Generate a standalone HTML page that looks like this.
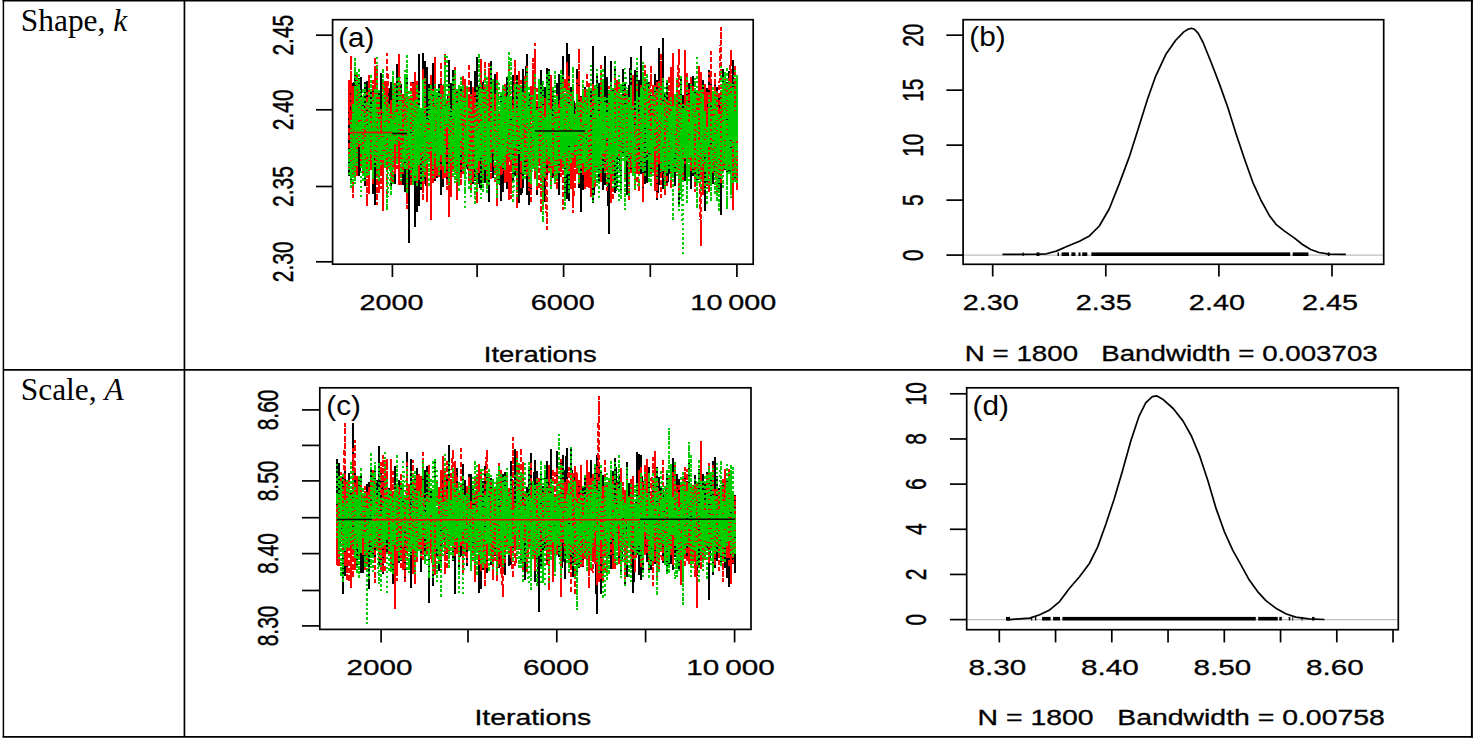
<!DOCTYPE html>
<html lang="en"><head><meta charset="utf-8"><title>MCMC trace and density plots</title>
<style>html,body{margin:0;padding:0;background:#fff}svg{display:block}svg text{stroke:#000;stroke-width:.3px}</style></head>
<body>
<svg width="1476" height="740" viewBox="0 0 1476 740" font-family='"Liberation Sans", Arial, sans-serif' fill="#000">
<rect width="1476" height="740" fill="#fff"/>
<g>
<polyline points="349.0,133.8 349.0,174.9 349.0,171.4 349.0,111.7 349.0,118.6 351.0,111.2 351.0,153.1 351.0,128.1 351.0,158.4 351.0,76.1 351.0,180.1 351.0,126.3 351.0,156.4 351.0,124.6 353.0,115.9 353.0,149.8 353.0,160.6 353.0,122.0 353.0,124.0 353.0,156.6 353.0,101.1 353.0,84.2 353.0,147.6 353.0,106.9 355.0,74.3 355.0,102.7 355.0,113.0 355.0,92.4 355.0,84.8 355.0,133.9 355.0,162.6 355.0,120.9 355.0,104.7 357.0,147.3 357.0,157.5 357.0,118.5 357.0,152.4 357.0,166.6 357.0,121.9 357.0,102.7 357.0,146.1 357.0,142.6 359.0,168.1 359.0,90.0 359.0,107.1 359.0,102.0 359.0,78.8 359.0,138.0 359.0,151.8 359.0,104.9 359.0,175.5 361.0,160.5 361.0,154.9 361.0,147.9 361.0,164.2 361.0,88.8 361.0,154.5 361.0,154.1 361.0,78.0 361.0,146.1 361.0,120.3 363.0,159.4 363.0,113.9 363.0,130.1 363.0,145.9 363.0,101.0 363.0,154.0 363.0,125.9 363.0,150.8 363.0,111.3 365.0,167.8 365.0,154.2 365.0,123.0 365.0,155.0 365.0,172.3 365.0,185.6 365.0,82.7 365.0,162.2 365.0,149.9 367.0,126.4 367.0,97.4 367.0,172.2 367.0,90.6 367.0,153.0 367.0,173.4 367.0,82.1 367.0,118.5 367.0,89.4 369.0,142.5 369.0,178.8 369.0,191.1 369.0,77.7 369.0,109.7 369.0,157.1 369.0,180.4 369.0,148.5 369.0,104.7 369.0,144.4 371.0,130.2 371.0,122.0 371.0,105.0 371.0,147.4 371.0,144.7 371.0,126.4 371.0,121.3 371.0,90.0 371.0,112.4 373.0,170.9 373.0,122.5 373.0,86.1 373.0,174.2 373.0,151.9 373.0,193.1 373.0,135.2 373.0,113.2 373.0,85.9 375.0,174.0 375.0,203.7 375.0,102.5 375.0,107.5 375.0,153.9 375.0,102.3 375.0,119.6 375.0,116.9 375.0,140.6 377.0,168.0 377.0,133.1 377.0,163.2 377.0,114.6 377.0,145.4 377.0,69.2 377.0,85.8 377.0,159.8 377.0,109.2 377.0,153.4 379.0,152.3 379.0,173.9 379.0,160.2 379.0,165.9 379.0,125.6 379.0,106.0 379.0,105.1 379.0,112.4 379.0,94.1 381.0,110.5 381.0,126.4 381.0,142.8 381.0,117.2 381.0,74.2 381.0,127.4 381.0,141.8 381.0,167.7 381.0,153.4 383.0,107.7 383.0,105.3 383.0,190.8 383.0,158.6 383.0,186.6 383.0,193.6 383.0,102.6 383.0,147.3 383.0,149.7 385.0,152.8 385.0,152.3 385.0,140.9 385.0,139.9 385.0,84.5 385.0,123.5 385.0,104.6 385.0,138.0 385.0,113.0 385.0,154.6 387.0,160.4 387.0,144.7 387.0,145.0 387.0,136.6 387.0,113.7 387.0,123.5 387.0,112.1 387.0,147.4 387.0,132.6 389.0,153.5 389.0,88.9 389.0,162.3 389.0,104.2 389.0,105.0 389.0,122.2 389.0,110.1 389.0,144.1 389.0,109.7 391.0,95.7 391.0,101.8 391.0,173.7 391.0,134.3 391.0,93.1 391.0,132.2 391.0,83.2 391.0,185.5 391.0,84.0 393.0,150.3 393.0,152.3 393.0,85.8 393.0,144.5 393.0,165.4 393.0,150.0 393.0,143.1 393.0,164.0 393.0,139.4 393.0,145.7 395.0,125.0 395.0,155.0 395.0,99.2 395.0,159.6 395.0,111.8 395.0,95.1 395.0,146.7 395.0,183.2 395.0,164.4 397.0,111.5 397.0,157.0 397.0,113.5 397.0,125.1 397.0,136.4 397.0,65.0 397.0,140.5 397.0,96.8 397.0,106.1 399.0,85.2 399.0,84.2 399.0,99.1 399.0,160.6 399.0,182.5 399.0,129.7 399.0,167.9 399.0,119.8 399.0,74.5 401.0,138.9 401.0,149.3 401.0,114.3 401.0,144.5 401.0,153.2 401.0,101.3 401.0,85.2 401.0,121.3 401.0,121.7 401.0,116.8 403.0,165.1 403.0,184.0 403.0,114.7 403.0,157.0 403.0,163.8 403.0,157.4 403.0,166.7 403.0,115.5 403.0,158.2 405.0,191.2 405.0,160.0 405.0,108.4 405.0,154.3 405.0,172.4 405.0,146.8 405.0,110.1 405.0,179.5 405.0,90.9 407.0,151.1 407.0,130.2 407.0,92.4 407.0,171.3 407.0,146.1 407.0,93.1 407.0,154.1 407.0,114.2 407.0,74.7 409.0,242.6 409.0,143.2 409.0,155.1 409.0,139.5 409.0,134.3 409.0,150.0 409.0,121.7 409.0,170.2 409.0,138.9 409.0,144.2 411.0,152.2 411.0,96.0 411.0,105.7 411.0,179.1 411.0,145.7 411.0,119.2 411.0,145.9 411.0,112.6 411.0,143.7 413.0,107.0 413.0,143.6 413.0,82.6 413.0,174.1 413.0,111.6 413.0,82.5 413.0,121.3 413.0,116.2 413.0,139.0 415.0,93.7 415.0,147.7 415.0,226.5 415.0,90.2 415.0,145.7 415.0,118.2 415.0,140.6 415.0,76.9 415.0,93.5 417.0,149.7 417.0,129.0 417.0,181.8 417.0,105.9 417.0,139.9 417.0,211.3 417.0,104.1 417.0,100.2 417.0,129.2 417.0,128.7 419.0,161.1 419.0,138.1 419.0,104.4 419.0,141.3 419.0,205.2 419.0,172.6 419.0,54.6 419.0,124.4 419.0,101.0 421.0,154.7 421.0,123.2 421.0,189.0 421.0,163.6 421.0,162.4 421.0,140.4 421.0,128.9 421.0,145.8 421.0,173.2 423.0,152.1 423.0,116.8 423.0,172.7 423.0,140.6 423.0,127.1 423.0,103.4 423.0,110.0 423.0,107.9 423.0,54.3 425.0,165.9 425.0,153.0 425.0,121.6 425.0,166.7 425.0,149.0 425.0,146.9 425.0,61.4 425.0,120.9 425.0,152.0 425.0,181.2 427.0,186.8 427.0,176.6 427.0,93.2 427.0,67.8 427.0,153.2 427.0,133.4 427.0,164.4 427.0,125.0 427.0,141.6 429.0,84.6 429.0,149.3 429.0,113.8 429.0,146.1 429.0,149.7 429.0,125.4 429.0,145.0 429.0,130.4 429.0,158.7 431.0,151.0 431.0,110.6 431.0,109.3 431.0,184.4 431.0,126.1 431.0,165.2 431.0,147.6 431.0,110.0 431.0,104.6 433.0,137.7 433.0,142.9 433.0,154.5 433.0,90.5 433.0,109.1 433.0,126.3 433.0,180.9 433.0,64.1 433.0,149.1 433.0,110.8 435.0,148.8 435.0,112.3 435.0,146.6 435.0,180.0 435.0,146.3 435.0,148.9 435.0,146.9 435.0,104.5 435.0,152.3 437.0,121.8 437.0,102.8 437.0,129.0 437.0,121.1 437.0,158.6 437.0,128.8 437.0,111.1 437.0,177.3 437.0,165.1 439.0,172.6 439.0,154.3 439.0,125.7 439.0,114.6 439.0,119.3 439.0,164.0 439.0,137.4 439.0,85.0 439.0,129.0 441.0,86.7 441.0,139.6 441.0,92.1 441.0,90.6 441.0,137.7 441.0,127.1 441.0,80.6 441.0,158.4 441.0,194.4 441.0,85.0 443.0,186.3 443.0,106.3 443.0,112.2 443.0,122.9 443.0,85.9 443.0,173.3 443.0,150.8 443.0,104.5 443.0,119.3 445.0,84.2 445.0,116.9 445.0,163.7 445.0,79.3 445.0,114.0 445.0,138.8 445.0,166.7 445.0,174.6 445.0,113.4 447.0,104.8 447.0,149.4 447.0,116.4 447.0,118.2 447.0,167.6 447.0,183.1 447.0,143.3 447.0,122.4 447.0,153.2 449.0,75.1 449.0,130.1 449.0,95.9 449.0,199.6 449.0,157.6 449.0,138.6 449.0,122.3 449.0,60.5 449.0,157.4 449.0,181.6 451.0,105.2 451.0,156.5 451.0,157.7 451.0,83.4 451.0,163.7 451.0,174.8 451.0,141.9 451.0,127.8 451.0,159.5 453.0,83.6 453.0,136.6 453.0,166.9 453.0,91.1 453.0,165.2 453.0,114.6 453.0,70.5 453.0,125.9 453.0,98.3 455.0,145.1 455.0,93.0 455.0,166.8 455.0,104.9 455.0,146.4 455.0,109.1 455.0,117.8 455.0,170.5 455.0,141.4 457.0,115.4 457.0,90.9 457.0,169.7 457.0,158.0 457.0,117.6 457.0,142.5 457.0,96.8 457.0,97.2 457.0,102.4 457.0,146.3 459.0,144.3 459.0,104.7 459.0,158.1 459.0,159.4 459.0,139.8 459.0,166.5 459.0,119.0 459.0,125.6 459.0,150.1 461.0,129.2 461.0,159.7 461.0,90.9 461.0,176.6 461.0,103.6 461.0,123.5 461.0,87.7 461.0,154.1 461.0,172.7 463.0,167.3 463.0,160.8 463.0,83.1 463.0,103.6 463.0,113.2 463.0,99.4 463.0,168.7 463.0,140.3 463.0,129.8 465.0,150.6 465.0,98.9 465.0,100.1 465.0,100.8 465.0,150.9 465.0,145.9 465.0,153.4 465.0,167.5 465.0,88.2 465.0,110.1 467.0,138.8 467.0,88.4 467.0,111.0 467.0,165.8 467.0,168.2 467.0,167.5 467.0,134.2 467.0,121.7 467.0,167.6 469.0,116.1 469.0,145.8 469.0,174.0 469.0,116.3 469.0,108.6 469.0,130.7 469.0,154.0 469.0,150.4 469.0,139.2 471.0,152.7 471.0,82.1 471.0,101.4 471.0,139.5 471.0,99.5 471.0,88.6 471.0,92.0 471.0,99.8 471.0,123.0 473.0,97.0 473.0,142.1 473.0,183.3 473.0,124.2 473.0,172.7 473.0,144.0 473.0,94.4 473.0,120.1 473.0,98.1 473.0,159.0 475.0,93.5 475.0,173.9 475.0,153.4 475.0,71.9 475.0,159.4 475.0,179.8 475.0,103.4 475.0,165.0 475.0,77.2 477.0,142.8 477.0,80.6 477.0,150.4 477.0,77.5 477.0,57.9 477.0,147.7 477.0,197.3 477.0,109.1 477.0,160.7 479.0,137.3 479.0,117.7 479.0,154.5 479.0,182.0 479.0,91.3 479.0,153.0 479.0,146.0 479.0,86.5 479.0,181.3 481.0,189.4 481.0,98.9 481.0,184.3 481.0,134.9 481.0,123.5 481.0,178.5 481.0,141.9 481.0,145.2 481.0,178.9 481.0,173.1 483.0,162.5 483.0,87.1 483.0,82.8 483.0,168.8 483.0,99.6 483.0,138.9 483.0,95.6 483.0,122.8 483.0,90.2 485.0,181.7 485.0,97.1 485.0,125.2 485.0,122.6 485.0,170.9 485.0,86.6 485.0,129.3 485.0,121.8 485.0,151.9 487.0,150.1 487.0,113.2 487.0,142.3 487.0,116.0 487.0,150.0 487.0,126.0 487.0,107.3 487.0,129.6 487.0,146.6 489.0,196.8 489.0,112.3 489.0,144.7 489.0,177.5 489.0,70.6 489.0,78.6 489.0,92.5 489.0,125.5 489.0,200.8 489.0,147.5 491.0,171.0 491.0,121.3 491.0,61.7 491.0,65.1 491.0,165.9 491.0,140.3 491.0,89.7 491.0,168.6 491.0,83.6 493.0,169.0 493.0,177.2 493.0,104.1 493.0,94.7 493.0,161.1 493.0,95.0 493.0,161.6 493.0,92.4 493.0,160.1 495.0,136.6 495.0,114.1 495.0,100.4 495.0,142.2 495.0,75.0 495.0,119.4 495.0,115.3 495.0,156.4 495.0,90.8 497.0,183.7 497.0,118.2 497.0,93.9 497.0,175.6 497.0,182.5 497.0,122.6 497.0,100.6 497.0,132.7 497.0,106.3 497.0,118.1 499.0,179.9 499.0,147.5 499.0,138.8 499.0,146.0 499.0,128.0 499.0,161.1 499.0,162.1 499.0,116.2 499.0,137.1 501.0,200.2 501.0,148.5 501.0,122.7 501.0,191.7 501.0,132.3 501.0,95.0 501.0,156.3 501.0,100.3 501.0,112.1 503.0,145.4 503.0,125.0 503.0,104.2 503.0,110.4 503.0,109.2 503.0,169.9 503.0,105.4 503.0,109.8 503.0,191.5 505.0,110.4 505.0,178.2 505.0,173.8 505.0,124.0 505.0,86.6 505.0,149.5 505.0,156.2 505.0,164.6 505.0,135.6 505.0,170.9 507.0,175.7 507.0,96.1 507.0,176.7 507.0,139.9 507.0,110.0 507.0,117.9 507.0,187.7 507.0,165.0 507.0,77.5 509.0,136.2 509.0,124.5 509.0,123.1 509.0,111.6 509.0,85.7 509.0,161.6 509.0,99.2 509.0,116.2 509.0,108.9 511.0,105.2 511.0,158.3 511.0,147.3 511.0,106.7 511.0,99.1 511.0,113.0 511.0,164.5 511.0,138.0 511.0,142.1 513.0,117.6 513.0,120.0 513.0,141.5 513.0,76.2 513.0,181.2 513.0,103.5 513.0,109.9 513.0,174.3 513.0,141.7 513.0,134.2 515.0,109.5 515.0,83.0 515.0,140.3 515.0,170.6 515.0,100.3 515.0,175.0 515.0,94.2 515.0,105.0 515.0,151.2 517.0,131.5 517.0,156.7 517.0,104.8 517.0,96.7 517.0,75.6 517.0,92.1 517.0,95.5 517.0,86.4 517.0,144.7 519.0,107.1 519.0,72.7 519.0,201.7 519.0,102.1 519.0,90.8 519.0,171.8 519.0,169.9 519.0,93.5 519.0,85.2 521.0,97.6 521.0,168.9 521.0,118.2 521.0,102.9 521.0,129.5 521.0,170.9 521.0,87.4 521.0,115.7 521.0,87.5 521.0,194.6 523.0,186.2 523.0,164.1 523.0,124.7 523.0,155.8 523.0,70.0 523.0,143.6 523.0,88.7 523.0,89.0 523.0,105.9 525.0,116.8 525.0,153.3 525.0,157.0 525.0,143.1 525.0,99.1 525.0,156.3 525.0,125.2 525.0,170.2 525.0,99.8 527.0,55.0 527.0,112.7 527.0,194.1 527.0,150.0 527.0,122.4 527.0,162.2 527.0,151.1 527.0,149.8 527.0,111.6 529.0,135.8 529.0,140.9 529.0,107.7 529.0,94.4 529.0,138.5 529.0,164.6 529.0,155.5 529.0,150.8 529.0,151.1 529.0,204.0 531.0,143.0 531.0,166.6 531.0,189.6 531.0,134.7 531.0,143.2 531.0,166.6 531.0,183.1 531.0,144.9 531.0,146.6 533.0,136.5 533.0,92.1 533.0,168.6 533.0,120.2 533.0,79.2 533.0,124.3 533.0,79.0 533.0,97.4 533.0,133.0 535.0,99.8 535.0,167.5 535.0,85.5 535.0,143.4 535.0,153.0 535.0,177.6 535.0,163.5 535.0,142.4 535.0,136.4 537.0,128.4 537.0,169.4 537.0,107.5 537.0,151.9 537.0,126.8 537.0,142.7 537.0,120.2 537.0,194.0 537.0,107.6 537.0,143.2 539.0,144.0 539.0,154.6 539.0,149.8 539.0,149.0 539.0,165.3 539.0,84.7 539.0,133.1 539.0,91.7 539.0,142.5 541.0,93.0 541.0,99.0 541.0,128.5 541.0,176.1 541.0,153.7 541.0,144.8 541.0,176.3 541.0,99.4 541.0,70.6 543.0,114.9 543.0,119.8 543.0,172.0 543.0,194.2 543.0,89.2 543.0,201.9 543.0,180.4 543.0,161.4 543.0,147.2 545.0,200.8 545.0,136.6 545.0,113.3 545.0,139.1 545.0,88.2 545.0,150.5 545.0,126.3 545.0,146.0 545.0,147.0 545.0,96.4 547.0,174.1 547.0,97.6 547.0,162.8 547.0,82.6 547.0,147.3 547.0,103.0 547.0,134.9 547.0,107.9 547.0,68.5 549.0,94.9 549.0,136.2 549.0,155.2 549.0,85.7 549.0,69.8 549.0,101.5 549.0,122.3 549.0,108.4 549.0,103.3 551.0,161.7 551.0,164.9 551.0,158.7 551.0,99.7 551.0,136.5 551.0,123.0 551.0,86.8 551.0,162.6 551.0,137.0 553.0,113.0 553.0,176.7 553.0,159.3 553.0,161.9 553.0,171.2 553.0,158.0 553.0,90.9 553.0,116.1 553.0,165.9 553.0,104.4 555.0,134.7 555.0,148.2 555.0,177.3 555.0,173.7 555.0,163.0 555.0,123.2 555.0,163.5 555.0,152.3 555.0,124.1 557.0,175.2 557.0,151.2 557.0,104.8 557.0,172.8 557.0,120.6 557.0,154.2 557.0,84.3 557.0,130.9 557.0,99.4 559.0,98.6 559.0,74.8 559.0,194.2 559.0,124.5 559.0,142.7 559.0,168.6 559.0,125.6 559.0,151.7 559.0,88.4 561.0,141.1 561.0,115.1 561.0,151.3 561.0,140.5 561.0,87.7 561.0,76.2 561.0,97.4 561.0,158.3 561.0,148.9 561.0,148.2 563.0,72.2 563.0,56.8 563.0,108.5 563.0,117.7 563.0,109.1 563.0,146.5 563.0,123.5 563.0,92.8 563.0,101.0 565.0,138.9 565.0,135.9 565.0,127.5 565.0,196.9 565.0,120.0 565.0,137.9 565.0,97.8 565.0,116.6 565.0,151.8 567.0,153.1 567.0,123.9 567.0,147.7 567.0,134.9 567.0,75.3 567.0,43.9 567.0,197.8 567.0,160.8 567.0,128.1 569.0,78.7 569.0,90.3 569.0,174.8 569.0,54.4 569.0,117.7 569.0,161.8 569.0,138.7 569.0,158.6 569.0,124.8 569.0,199.7 571.0,96.8 571.0,88.1 571.0,143.6 571.0,176.7 571.0,128.1 571.0,166.8 571.0,111.1 571.0,92.6 571.0,175.9 573.0,180.1 573.0,179.3 573.0,114.0 573.0,93.4 573.0,93.0 573.0,121.2 573.0,153.5 573.0,151.3 573.0,86.2 575.0,140.7 575.0,132.8 575.0,136.4 575.0,129.8 575.0,122.1 575.0,153.8 575.0,138.0 575.0,141.8 575.0,106.3 577.0,147.7 577.0,125.2 577.0,69.7 577.0,150.5 577.0,119.8 577.0,163.4 577.0,123.6 577.0,126.3 577.0,141.3 577.0,130.5 579.0,113.7 579.0,77.4 579.0,186.8 579.0,82.6 579.0,117.1 579.0,155.6 579.0,147.1 579.0,153.1 579.0,159.0 581.0,172.4 581.0,144.4 581.0,211.2 581.0,97.2 581.0,141.9 581.0,116.5 581.0,110.6 581.0,144.0 581.0,177.4 583.0,105.7 583.0,105.7 583.0,157.7 583.0,152.3 583.0,189.6 583.0,166.2 583.0,142.0 583.0,117.5 583.0,141.4 585.0,123.1 585.0,88.0 585.0,132.2 585.0,123.1 585.0,120.9 585.0,114.2 585.0,183.1 585.0,156.9 585.0,163.7 585.0,108.7 587.0,97.0 587.0,119.1 587.0,142.5 587.0,117.0 587.0,122.6 587.0,164.4 587.0,144.4 587.0,98.0 587.0,114.3 589.0,107.2 589.0,140.1 589.0,93.1 589.0,122.9 589.0,156.8 589.0,133.5 589.0,99.9 589.0,108.5 589.0,137.9 591.0,150.5 591.0,160.9 591.0,124.3 591.0,89.2 591.0,176.5 591.0,144.4 591.0,148.0 591.0,144.6 591.0,96.6 593.0,117.9 593.0,143.0 593.0,166.3 593.0,135.1 593.0,47.2 593.0,120.6 593.0,146.2 593.0,173.2 593.0,157.3 593.0,201.9 595.0,176.5 595.0,174.6 595.0,163.9 595.0,87.5 595.0,161.2 595.0,154.0 595.0,111.2 595.0,153.6 595.0,148.4 597.0,113.1 597.0,125.1 597.0,119.8 597.0,142.0 597.0,114.4 597.0,152.4 597.0,74.4 597.0,119.2 597.0,80.0 599.0,112.5 599.0,151.5 599.0,133.1 599.0,125.7 599.0,135.5 599.0,180.2 599.0,94.7 599.0,162.3 599.0,84.3 601.0,113.0 601.0,139.5 601.0,101.7 601.0,141.1 601.0,157.8 601.0,92.4 601.0,127.1 601.0,116.0 601.0,73.8 601.0,122.6 603.0,103.2 603.0,174.4 603.0,101.0 603.0,183.4 603.0,111.0 603.0,189.1 603.0,152.2 603.0,149.5 603.0,160.0 605.0,162.8 605.0,176.0 605.0,184.2 605.0,117.0 605.0,90.9 605.0,57.0 605.0,115.6 605.0,158.7 605.0,147.1 607.0,137.5 607.0,116.8 607.0,107.8 607.0,119.1 607.0,147.4 607.0,78.1 607.0,157.8 607.0,85.6 607.0,123.7 609.0,232.7 609.0,116.2 609.0,96.3 609.0,93.4 609.0,120.9 609.0,95.2 609.0,201.1 609.0,114.5 609.0,107.1 609.0,110.3 611.0,95.5 611.0,61.7 611.0,119.9 611.0,144.6 611.0,84.3 611.0,131.3 611.0,91.8 611.0,128.8 611.0,146.2 613.0,150.3 613.0,148.7 613.0,105.6 613.0,161.9 613.0,113.4 613.0,145.9 613.0,156.9 613.0,118.1 613.0,89.8 615.0,154.2 615.0,94.2 615.0,100.3 615.0,94.6 615.0,160.8 615.0,123.2 615.0,66.4 615.0,157.8 615.0,192.0 617.0,185.6 617.0,109.6 617.0,135.5 617.0,151.0 617.0,162.2 617.0,133.3 617.0,94.8 617.0,158.3 617.0,154.2 617.0,88.6 619.0,115.9 619.0,143.0 619.0,130.4 619.0,151.4 619.0,159.4 619.0,151.9 619.0,125.0 619.0,88.1 619.0,154.2 621.0,175.6 621.0,189.7 621.0,128.6 621.0,128.5 621.0,176.8 621.0,176.6 621.0,145.4 621.0,157.0 621.0,103.8 623.0,153.2 623.0,102.0 623.0,123.7 623.0,124.6 623.0,112.6 623.0,69.5 623.0,102.0 623.0,145.1 623.0,127.2 625.0,114.9 625.0,148.3 625.0,156.3 625.0,160.8 625.0,102.5 625.0,132.1 625.0,116.9 625.0,100.5 625.0,84.2 625.0,125.5 627.0,100.6 627.0,193.8 627.0,125.5 627.0,120.6 627.0,114.7 627.0,187.2 627.0,98.7 627.0,123.0 627.0,103.5 629.0,124.4 629.0,128.3 629.0,167.6 629.0,86.3 629.0,129.0 629.0,180.9 629.0,111.2 629.0,122.4 629.0,100.2 631.0,57.8 631.0,125.2 631.0,169.7 631.0,112.5 631.0,75.7 631.0,142.7 631.0,135.2 631.0,165.0 631.0,162.5 633.0,119.0 633.0,147.2 633.0,76.8 633.0,168.0 633.0,139.7 633.0,167.3 633.0,166.7 633.0,118.4 633.0,123.4 633.0,100.5 635.0,70.5 635.0,124.1 635.0,138.4 635.0,94.8 635.0,156.9 635.0,136.1 635.0,149.0 635.0,103.5 635.0,77.6 637.0,158.8 637.0,153.9 637.0,125.0 637.0,114.0 637.0,118.8 637.0,123.9 637.0,111.2 637.0,71.8 637.0,158.9 639.0,84.3 639.0,116.9 639.0,117.7 639.0,142.5 639.0,81.3 639.0,170.5 639.0,155.2 639.0,158.6 639.0,172.1 641.0,102.8 641.0,46.6 641.0,145.1 641.0,173.4 641.0,169.5 641.0,110.6 641.0,126.1 641.0,143.7 641.0,76.8 641.0,106.7 643.0,107.7 643.0,180.4 643.0,107.2 643.0,180.1 643.0,132.3 643.0,80.1 643.0,195.6 643.0,98.3 643.0,154.5 645.0,183.5 645.0,110.9 645.0,91.4 645.0,166.5 645.0,135.3 645.0,91.5 645.0,95.4 645.0,115.5 645.0,164.4 647.0,119.0 647.0,155.7 647.0,182.2 647.0,172.6 647.0,176.9 647.0,171.6 647.0,81.9 647.0,171.4 647.0,145.4 649.0,125.1 649.0,95.3 649.0,82.4 649.0,94.6 649.0,129.9 649.0,92.9 649.0,102.7 649.0,108.5 649.0,156.0 649.0,118.7 651.0,124.2 651.0,174.0 651.0,117.8 651.0,154.0 651.0,96.0 651.0,145.4 651.0,137.7 651.0,139.9 651.0,113.1 653.0,96.7 653.0,118.6 653.0,113.0 653.0,166.3 653.0,162.9 653.0,92.2 653.0,154.9 653.0,112.6 653.0,149.7 655.0,112.6 655.0,85.3 655.0,165.9 655.0,149.5 655.0,91.6 655.0,75.0 655.0,111.0 655.0,92.7 655.0,116.4 657.0,154.7 657.0,177.7 657.0,116.6 657.0,175.3 657.0,169.8 657.0,114.1 657.0,80.4 657.0,161.4 657.0,154.4 657.0,198.8 659.0,176.7 659.0,159.4 659.0,183.1 659.0,96.3 659.0,140.8 659.0,119.6 659.0,184.5 659.0,153.1 659.0,48.6 661.0,175.3 661.0,100.3 661.0,159.5 661.0,112.9 661.0,142.8 661.0,155.4 661.0,141.1 661.0,99.2 661.0,176.2 663.0,39.0 663.0,131.2 663.0,157.6 663.0,111.4 663.0,188.2 663.0,142.4 663.0,147.2 663.0,146.6 663.0,100.4 665.0,93.4 665.0,142.2 665.0,146.8 665.0,175.0 665.0,150.0 665.0,95.7 665.0,152.4 665.0,161.2 665.0,166.0 665.0,146.3 667.0,92.2 667.0,170.3 667.0,105.6 667.0,153.8 667.0,83.2 667.0,159.4 667.0,104.1 667.0,168.2 667.0,185.4 669.0,170.5 669.0,93.6 669.0,99.6 669.0,101.6 669.0,156.4 669.0,146.6 669.0,139.9 669.0,145.4 669.0,154.0 671.0,156.1 671.0,183.5 671.0,128.9 671.0,141.6 671.0,76.2 671.0,89.4 671.0,106.6 671.0,92.9 671.0,142.1 673.0,166.9 673.0,114.4 673.0,112.8 673.0,111.9 673.0,138.5 673.0,110.9 673.0,148.9 673.0,144.7 673.0,146.2 673.0,159.0 675.0,133.9 675.0,138.9 675.0,184.9 675.0,128.8 675.0,159.9 675.0,134.9 675.0,113.4 675.0,113.4 675.0,102.5 677.0,132.4 677.0,108.8 677.0,114.4 677.0,171.2 677.0,124.7 677.0,169.2 677.0,143.2 677.0,161.6 677.0,108.6 679.0,138.8 679.0,205.1 679.0,160.6 679.0,165.4 679.0,142.0 679.0,161.4 679.0,93.1 679.0,101.6 679.0,148.6 681.0,160.3 681.0,114.7 681.0,122.4 681.0,116.2 681.0,122.3 681.0,92.0 681.0,86.0 681.0,126.5 681.0,78.5 681.0,97.9 683.0,106.8 683.0,95.8 683.0,141.8 683.0,113.2 683.0,126.3 683.0,96.8 683.0,104.2 683.0,150.8 683.0,145.9 685.0,112.4 685.0,145.9 685.0,139.5 685.0,138.3 685.0,180.2 685.0,114.3 685.0,147.6 685.0,147.6 685.0,119.9 687.0,92.4 687.0,155.9 687.0,142.0 687.0,132.8 687.0,130.6 687.0,130.4 687.0,99.5 687.0,142.9 687.0,76.2 689.0,127.7 689.0,83.6 689.0,115.4 689.0,156.2 689.0,118.4 689.0,111.2 689.0,150.0 689.0,118.0 689.0,113.4 689.0,113.8 691.0,177.5 691.0,154.4 691.0,148.7 691.0,91.1 691.0,153.0 691.0,88.4 691.0,148.6 691.0,93.0 691.0,188.1 693.0,78.6 693.0,169.8 693.0,158.2 693.0,76.4 693.0,118.5 693.0,175.5 693.0,167.5 693.0,79.2 693.0,109.5 695.0,91.3 695.0,95.3 695.0,105.9 695.0,185.3 695.0,135.6 695.0,118.9 695.0,115.3 695.0,154.1 695.0,154.9 697.0,98.0 697.0,176.0 697.0,93.6 697.0,117.1 697.0,147.3 697.0,182.0 697.0,114.8 697.0,141.6 697.0,171.7 697.0,152.8 699.0,167.1 699.0,164.7 699.0,140.7 699.0,153.0 699.0,161.3 699.0,126.4 699.0,179.3 699.0,71.2 699.0,98.0 701.0,175.4 701.0,146.6 701.0,105.7 701.0,144.9 701.0,166.0 701.0,108.2 701.0,157.1 701.0,122.6 701.0,123.0 703.0,124.7 703.0,166.7 703.0,92.7 703.0,114.2 703.0,154.0 703.0,90.1 703.0,81.0 703.0,151.2 703.0,127.8 705.0,121.7 705.0,135.9 705.0,96.6 705.0,209.9 705.0,96.3 705.0,112.1 705.0,84.9 705.0,112.7 705.0,177.5 705.0,128.7 707.0,152.0 707.0,110.6 707.0,184.6 707.0,136.9 707.0,89.3 707.0,157.2 707.0,114.1 707.0,152.3 707.0,135.8 709.0,140.9 709.0,135.7 709.0,98.4 709.0,82.9 709.0,163.0 709.0,122.2 709.0,141.7 709.0,111.2 709.0,70.4 711.0,88.6 711.0,174.2 711.0,101.7 711.0,113.7 711.0,83.8 711.0,109.2 711.0,114.0 711.0,119.0 711.0,124.5 713.0,106.1 713.0,107.7 713.0,127.0 713.0,142.9 713.0,121.8 713.0,182.8 713.0,138.5 713.0,136.6 713.0,105.3 713.0,164.3 715.0,95.1 715.0,79.9 715.0,96.4 715.0,152.5 715.0,91.9 715.0,171.4 715.0,126.4 715.0,82.4 715.0,118.6 717.0,183.7 717.0,99.5 717.0,87.6 717.0,149.1 717.0,171.7 717.0,163.9 717.0,115.2 717.0,137.6 717.0,142.8 719.0,168.2 719.0,192.4 719.0,122.9 719.0,171.5 719.0,114.7 719.0,151.5 719.0,97.4 719.0,102.1 719.0,145.9 721.0,98.4 721.0,160.3 721.0,108.3 721.0,132.1 721.0,123.9 721.0,115.0 721.0,135.0 721.0,165.6 721.0,213.9 721.0,90.7 723.0,141.9 723.0,120.4 723.0,98.0 723.0,141.4 723.0,98.9 723.0,124.1 723.0,169.9 723.0,70.2 723.0,140.0 725.0,147.0 725.0,96.8 725.0,149.5 725.0,143.8 725.0,114.5 725.0,169.2 725.0,87.6 725.0,153.2 725.0,118.4 727.0,94.1 727.0,120.3 727.0,114.5 727.0,158.4 727.0,82.9 727.0,119.7 727.0,111.2 727.0,178.5 727.0,92.5 729.0,165.1 729.0,76.5 729.0,143.4 729.0,121.8 729.0,144.6 729.0,103.7 729.0,71.8 729.0,81.5 729.0,171.7 729.0,138.3 731.0,99.1 731.0,160.4 731.0,102.4 731.0,102.5 731.0,89.7 731.0,167.9 731.0,187.7 731.0,96.2 731.0,141.0 733.0,162.4 733.0,191.2 733.0,61.2 733.0,134.7 733.0,152.7 733.0,82.8 733.0,145.0 733.0,137.1 733.0,155.0 735.0,106.7 735.0,145.3 735.0,106.0 735.0,151.4 735.0,135.3 735.0,112.9 735.0,84.3 735.0,179.8 735.0,165.8 737.0,159.4 737.0,104.3 737.0,113.7 737.0,180.3 737.0,155.5 737.0,99.0 737.0,128.5 737.0,134.4 737.0,118.8 737.0,96.6" fill="none" stroke="#000" stroke-width="2" stroke-linejoin="round" shape-rendering="crispEdges" />
<polyline points="349.0,169.8 349.0,150.9 349.0,118.9 349.0,80.5 349.0,106.8 351.0,126.4 351.0,159.3 351.0,113.4 351.0,166.0 351.0,134.8 351.0,102.3 351.0,55.7 351.0,90.7 351.0,82.7 353.0,120.9 353.0,142.8 353.0,173.6 353.0,126.5 353.0,91.3 353.0,197.0 353.0,142.1 353.0,117.2 353.0,117.3 353.0,86.4 355.0,152.9 355.0,144.5 355.0,178.8 355.0,166.2 355.0,159.8 355.0,170.4 355.0,116.7 355.0,111.6 355.0,125.4 357.0,89.3 357.0,121.8 357.0,115.4 357.0,154.2 357.0,127.1 357.0,73.1 357.0,129.4 357.0,174.8 357.0,74.9 359.0,102.6 359.0,128.9 359.0,87.5 359.0,108.8 359.0,131.6 359.0,87.8 359.0,142.4 359.0,146.4 359.0,89.1 361.0,129.8 361.0,166.2 361.0,121.2 361.0,147.4 361.0,153.9 361.0,119.2 361.0,163.7 361.0,145.8 361.0,96.6 361.0,150.4 363.0,160.6 363.0,158.9 363.0,106.5 363.0,148.5 363.0,174.3 363.0,140.7 363.0,169.4 363.0,172.5 363.0,127.5 365.0,154.9 365.0,117.8 365.0,166.5 365.0,125.3 365.0,109.6 365.0,128.3 365.0,126.1 365.0,146.3 365.0,149.1 367.0,92.5 367.0,106.7 367.0,145.7 367.0,149.7 367.0,135.2 367.0,204.7 367.0,168.1 367.0,126.4 367.0,157.4 369.0,173.9 369.0,146.2 369.0,78.2 369.0,136.3 369.0,134.1 369.0,193.5 369.0,76.1 369.0,179.5 369.0,123.7 369.0,163.5 371.0,118.8 371.0,139.9 371.0,169.0 371.0,136.3 371.0,167.0 371.0,127.2 371.0,115.1 371.0,121.7 371.0,112.1 373.0,125.6 373.0,175.2 373.0,93.3 373.0,80.8 373.0,130.8 373.0,183.3 373.0,167.0 373.0,174.3 373.0,172.5 375.0,105.6 375.0,138.3 375.0,57.6 375.0,109.2 375.0,154.8 375.0,83.6 375.0,71.5 375.0,90.2 375.0,142.4 377.0,170.5 377.0,204.6 377.0,177.4 377.0,84.9 377.0,65.7 377.0,140.2 377.0,168.0 377.0,82.5 377.0,112.5 377.0,114.9 379.0,135.8 379.0,124.7 379.0,152.9 379.0,168.3 379.0,137.8 379.0,160.0 379.0,191.7 379.0,98.5 379.0,97.9 381.0,153.1 381.0,188.5 381.0,142.0 381.0,169.7 381.0,120.6 381.0,165.0 381.0,110.3 381.0,158.4 381.0,150.0 383.0,150.1 383.0,177.3 383.0,169.4 383.0,111.5 383.0,164.6 383.0,81.8 383.0,167.5 383.0,209.7 383.0,154.8 385.0,154.2 385.0,139.4 385.0,163.6 385.0,117.0 385.0,159.3 385.0,123.6 385.0,118.1 385.0,142.3 385.0,134.9 385.0,81.7 387.0,195.2 387.0,143.1 387.0,82.7 387.0,170.8 387.0,136.7 387.0,145.4 387.0,160.8 387.0,104.0 387.0,53.8 389.0,133.3 389.0,146.7 389.0,168.9 389.0,108.0 389.0,124.4 389.0,151.8 389.0,122.5 389.0,125.1 389.0,147.2 391.0,101.1 391.0,183.6 391.0,103.2 391.0,139.4 391.0,122.0 391.0,109.4 391.0,155.8 391.0,169.0 391.0,180.4 393.0,157.2 393.0,117.7 393.0,165.0 393.0,89.1 393.0,139.7 393.0,155.3 393.0,156.5 393.0,96.7 393.0,87.6 393.0,185.2 395.0,115.3 395.0,83.7 395.0,94.1 395.0,137.8 395.0,173.0 395.0,137.0 395.0,173.4 395.0,145.4 395.0,153.2 397.0,167.7 397.0,119.3 397.0,147.5 397.0,118.8 397.0,110.6 397.0,158.4 397.0,105.1 397.0,139.7 397.0,105.9 399.0,131.1 399.0,113.8 399.0,170.1 399.0,139.3 399.0,139.2 399.0,184.0 399.0,53.7 399.0,96.3 399.0,56.9 401.0,134.8 401.0,150.9 401.0,157.0 401.0,145.2 401.0,102.6 401.0,185.9 401.0,146.3 401.0,121.6 401.0,95.5 401.0,149.8 403.0,113.6 403.0,114.8 403.0,142.5 403.0,142.8 403.0,103.5 403.0,173.0 403.0,98.4 403.0,95.3 403.0,145.7 405.0,139.2 405.0,136.8 405.0,115.7 405.0,135.4 405.0,110.8 405.0,81.5 405.0,158.7 405.0,97.8 405.0,121.9 407.0,158.5 407.0,134.3 407.0,208.0 407.0,87.6 407.0,105.1 407.0,137.2 407.0,175.3 407.0,121.0 407.0,86.7 409.0,169.7 409.0,100.1 409.0,122.8 409.0,162.6 409.0,107.3 409.0,113.9 409.0,151.0 409.0,122.4 409.0,144.4 409.0,99.3 411.0,125.7 411.0,95.3 411.0,83.3 411.0,184.9 411.0,149.8 411.0,163.3 411.0,98.6 411.0,129.9 411.0,122.1 413.0,86.7 413.0,152.6 413.0,105.5 413.0,122.2 413.0,84.3 413.0,165.4 413.0,158.8 413.0,147.7 413.0,100.2 415.0,110.9 415.0,171.4 415.0,119.5 415.0,143.4 415.0,138.7 415.0,94.5 415.0,179.1 415.0,72.9 415.0,141.9 417.0,126.8 417.0,81.7 417.0,145.7 417.0,151.7 417.0,134.9 417.0,102.4 417.0,149.5 417.0,168.6 417.0,141.8 417.0,184.1 419.0,161.7 419.0,159.1 419.0,175.8 419.0,107.3 419.0,111.5 419.0,151.6 419.0,151.7 419.0,178.8 419.0,169.5 421.0,140.2 421.0,141.8 421.0,119.7 421.0,116.6 421.0,113.8 421.0,163.1 421.0,113.3 421.0,117.1 421.0,139.8 423.0,112.1 423.0,121.7 423.0,68.6 423.0,147.6 423.0,119.1 423.0,141.5 423.0,147.7 423.0,76.6 423.0,200.7 425.0,140.9 425.0,142.0 425.0,79.0 425.0,156.8 425.0,150.7 425.0,119.5 425.0,146.0 425.0,175.6 425.0,121.4 425.0,103.6 427.0,177.4 427.0,147.8 427.0,129.0 427.0,200.8 427.0,144.6 427.0,129.6 427.0,148.2 427.0,120.2 427.0,146.5 429.0,144.3 429.0,111.7 429.0,125.4 429.0,149.5 429.0,151.7 429.0,157.6 429.0,163.3 429.0,147.3 429.0,155.6 431.0,120.4 431.0,125.0 431.0,169.9 431.0,76.0 431.0,150.8 431.0,219.3 431.0,78.8 431.0,181.2 431.0,80.9 433.0,149.9 433.0,183.9 433.0,180.4 433.0,102.5 433.0,91.7 433.0,88.1 433.0,159.6 433.0,117.8 433.0,135.5 433.0,145.1 435.0,150.0 435.0,153.8 435.0,140.0 435.0,83.2 435.0,178.6 435.0,56.5 435.0,172.9 435.0,110.3 435.0,124.0 437.0,112.7 437.0,117.6 437.0,133.0 437.0,120.7 437.0,96.0 437.0,162.4 437.0,110.8 437.0,175.4 437.0,125.5 439.0,106.9 439.0,150.2 439.0,163.4 439.0,100.7 439.0,120.4 439.0,177.5 439.0,98.6 439.0,102.8 439.0,141.0 441.0,92.8 441.0,62.5 441.0,81.3 441.0,148.2 441.0,156.8 441.0,154.9 441.0,148.7 441.0,92.3 441.0,157.4 441.0,170.5 443.0,107.2 443.0,164.9 443.0,117.5 443.0,141.9 443.0,148.0 443.0,85.9 443.0,178.5 443.0,102.6 443.0,127.8 445.0,113.4 445.0,150.9 445.0,150.1 445.0,135.1 445.0,177.3 445.0,145.2 445.0,116.6 445.0,53.3 445.0,120.6 447.0,120.3 447.0,102.3 447.0,102.6 447.0,155.1 447.0,167.7 447.0,189.1 447.0,170.3 447.0,107.0 447.0,144.4 449.0,89.1 449.0,159.1 449.0,147.8 449.0,109.9 449.0,127.7 449.0,121.8 449.0,109.1 449.0,174.9 449.0,216.4 449.0,161.7 451.0,168.1 451.0,140.9 451.0,118.3 451.0,196.1 451.0,117.7 451.0,149.0 451.0,127.2 451.0,155.0 451.0,130.9 453.0,155.1 453.0,91.6 453.0,128.0 453.0,176.2 453.0,97.8 453.0,108.2 453.0,176.2 453.0,149.3 453.0,168.4 455.0,67.9 455.0,140.4 455.0,91.4 455.0,88.4 455.0,149.5 455.0,171.4 455.0,85.7 455.0,95.7 455.0,110.6 457.0,126.7 457.0,89.8 457.0,197.6 457.0,154.9 457.0,117.8 457.0,112.6 457.0,199.1 457.0,197.1 457.0,113.4 457.0,147.3 459.0,173.3 459.0,93.4 459.0,110.3 459.0,175.6 459.0,107.0 459.0,115.1 459.0,89.1 459.0,105.0 459.0,157.5 461.0,103.1 461.0,90.0 461.0,108.7 461.0,185.9 461.0,140.8 461.0,110.7 461.0,139.9 461.0,149.9 461.0,138.5 463.0,77.2 463.0,145.0 463.0,122.2 463.0,161.6 463.0,88.4 463.0,167.2 463.0,112.4 463.0,79.5 463.0,174.6 465.0,111.7 465.0,147.3 465.0,123.8 465.0,168.3 465.0,168.6 465.0,168.8 465.0,157.7 465.0,81.5 465.0,79.9 465.0,141.0 467.0,98.7 467.0,150.1 467.0,139.6 467.0,86.5 467.0,96.4 467.0,93.7 467.0,100.4 467.0,121.8 467.0,156.6 469.0,174.6 469.0,98.1 469.0,109.9 469.0,180.1 469.0,162.7 469.0,142.1 469.0,63.8 469.0,97.1 469.0,139.2 471.0,109.0 471.0,190.7 471.0,136.4 471.0,143.9 471.0,94.5 471.0,96.0 471.0,106.7 471.0,107.9 471.0,120.7 473.0,147.0 473.0,142.2 473.0,165.6 473.0,87.9 473.0,141.2 473.0,142.3 473.0,180.9 473.0,121.2 473.0,145.3 473.0,102.3 475.0,148.6 475.0,147.7 475.0,107.8 475.0,113.7 475.0,129.1 475.0,153.5 475.0,93.2 475.0,162.4 475.0,117.2 477.0,188.6 477.0,177.7 477.0,114.8 477.0,107.9 477.0,201.7 477.0,155.0 477.0,153.2 477.0,114.2 477.0,124.7 479.0,160.2 479.0,154.6 479.0,102.0 479.0,172.2 479.0,144.8 479.0,98.6 479.0,165.5 479.0,122.9 479.0,159.6 481.0,110.1 481.0,146.6 481.0,81.0 481.0,147.0 481.0,83.6 481.0,139.5 481.0,59.5 481.0,127.6 481.0,157.8 481.0,150.6 483.0,170.9 483.0,95.3 483.0,180.5 483.0,181.4 483.0,91.9 483.0,103.0 483.0,109.6 483.0,129.7 483.0,140.3 485.0,61.0 485.0,153.9 485.0,119.9 485.0,96.7 485.0,164.2 485.0,116.8 485.0,169.3 485.0,152.1 485.0,117.6 487.0,170.2 487.0,160.1 487.0,111.6 487.0,81.3 487.0,110.3 487.0,154.6 487.0,120.5 487.0,185.2 487.0,143.0 489.0,140.5 489.0,147.9 489.0,100.4 489.0,124.9 489.0,106.8 489.0,63.8 489.0,77.2 489.0,158.1 489.0,113.5 489.0,124.9 491.0,84.7 491.0,109.0 491.0,159.4 491.0,136.5 491.0,111.1 491.0,179.4 491.0,127.6 491.0,116.6 491.0,169.4 493.0,78.3 493.0,152.5 493.0,94.1 493.0,103.1 493.0,106.1 493.0,137.9 493.0,137.0 493.0,144.5 493.0,141.0 495.0,176.1 495.0,183.3 495.0,157.3 495.0,158.7 495.0,115.7 495.0,94.5 495.0,153.8 495.0,133.6 495.0,161.6 497.0,76.1 497.0,206.5 497.0,90.0 497.0,133.6 497.0,165.3 497.0,87.1 497.0,110.1 497.0,71.5 497.0,86.0 497.0,73.5 499.0,136.9 499.0,144.2 499.0,117.8 499.0,172.6 499.0,175.8 499.0,130.7 499.0,121.2 499.0,119.3 499.0,113.3 501.0,173.7 501.0,142.3 501.0,117.3 501.0,121.0 501.0,152.5 501.0,115.1 501.0,145.0 501.0,129.1 501.0,175.0 503.0,169.9 503.0,86.4 503.0,123.6 503.0,157.5 503.0,113.5 503.0,160.4 503.0,145.8 503.0,154.0 503.0,127.8 505.0,144.7 505.0,151.9 505.0,85.1 505.0,99.8 505.0,96.9 505.0,183.3 505.0,144.7 505.0,147.1 505.0,140.0 505.0,111.4 507.0,104.6 507.0,161.5 507.0,116.1 507.0,180.7 507.0,140.9 507.0,136.7 507.0,121.5 507.0,127.4 507.0,134.0 509.0,179.3 509.0,198.8 509.0,93.4 509.0,143.1 509.0,157.5 509.0,100.3 509.0,108.0 509.0,113.5 509.0,62.9 511.0,155.8 511.0,128.9 511.0,126.7 511.0,136.4 511.0,143.0 511.0,198.3 511.0,140.5 511.0,161.2 511.0,111.6 513.0,146.6 513.0,118.3 513.0,124.4 513.0,100.4 513.0,102.9 513.0,150.0 513.0,158.7 513.0,150.2 513.0,107.1 513.0,145.5 515.0,60.1 515.0,164.3 515.0,129.7 515.0,144.0 515.0,170.3 515.0,114.9 515.0,164.8 515.0,114.4 515.0,152.9 517.0,115.5 517.0,145.3 517.0,177.8 517.0,108.0 517.0,109.2 517.0,118.3 517.0,145.3 517.0,208.4 517.0,110.3 519.0,71.9 519.0,108.0 519.0,83.0 519.0,110.9 519.0,134.3 519.0,99.4 519.0,107.3 519.0,76.1 519.0,141.2 521.0,105.4 521.0,168.6 521.0,167.7 521.0,102.0 521.0,117.2 521.0,136.3 521.0,159.7 521.0,81.0 521.0,129.0 521.0,188.3 523.0,128.2 523.0,143.0 523.0,133.9 523.0,93.3 523.0,165.2 523.0,144.7 523.0,141.0 523.0,159.0 523.0,160.7 525.0,75.8 525.0,151.8 525.0,110.7 525.0,141.0 525.0,106.8 525.0,102.4 525.0,165.4 525.0,133.9 525.0,120.8 527.0,120.6 527.0,138.1 527.0,133.7 527.0,64.9 527.0,102.5 527.0,122.7 527.0,159.9 527.0,176.4 527.0,100.9 529.0,190.6 529.0,139.2 529.0,152.6 529.0,112.9 529.0,110.8 529.0,178.6 529.0,124.1 529.0,129.4 529.0,171.6 529.0,185.8 531.0,86.4 531.0,125.6 531.0,135.4 531.0,188.2 531.0,203.3 531.0,133.7 531.0,149.7 531.0,164.2 531.0,171.8 533.0,121.0 533.0,164.1 533.0,108.7 533.0,58.9 533.0,89.9 533.0,144.9 533.0,162.2 533.0,68.6 533.0,79.4 535.0,135.6 535.0,43.7 535.0,156.0 535.0,169.3 535.0,52.5 535.0,162.2 535.0,127.1 535.0,179.4 535.0,147.9 537.0,125.3 537.0,142.5 537.0,167.2 537.0,145.1 537.0,139.7 537.0,89.2 537.0,154.5 537.0,139.5 537.0,190.1 537.0,137.8 539.0,134.6 539.0,112.3 539.0,161.7 539.0,127.7 539.0,110.0 539.0,184.5 539.0,188.9 539.0,118.2 539.0,100.8 541.0,172.7 541.0,106.2 541.0,212.7 541.0,132.4 541.0,168.5 541.0,93.5 541.0,137.4 541.0,172.0 541.0,153.8 543.0,115.5 543.0,204.7 543.0,162.5 543.0,127.1 543.0,113.4 543.0,125.3 543.0,178.7 543.0,108.3 543.0,140.3 545.0,106.8 545.0,176.2 545.0,130.6 545.0,166.0 545.0,157.7 545.0,114.3 545.0,161.5 545.0,168.1 545.0,97.6 545.0,161.6 547.0,228.8 547.0,124.3 547.0,159.8 547.0,92.6 547.0,154.6 547.0,114.0 547.0,163.4 547.0,137.1 547.0,96.8 549.0,172.4 549.0,127.8 549.0,101.2 549.0,141.7 549.0,102.6 549.0,152.7 549.0,136.5 549.0,121.5 549.0,160.7 551.0,94.0 551.0,169.1 551.0,75.6 551.0,185.2 551.0,145.8 551.0,125.7 551.0,109.4 551.0,157.2 551.0,131.0 553.0,129.8 553.0,170.7 553.0,119.2 553.0,126.9 553.0,153.7 553.0,171.8 553.0,132.0 553.0,145.0 553.0,141.0 553.0,162.9 555.0,182.4 555.0,103.5 555.0,133.1 555.0,137.2 555.0,158.5 555.0,182.7 555.0,138.5 555.0,146.9 555.0,173.4 557.0,94.8 557.0,108.3 557.0,118.5 557.0,138.9 557.0,147.4 557.0,116.2 557.0,188.9 557.0,110.1 557.0,128.3 559.0,172.1 559.0,163.7 559.0,138.5 559.0,152.0 559.0,164.9 559.0,138.5 559.0,160.1 559.0,103.7 559.0,141.6 561.0,84.2 561.0,104.3 561.0,97.2 561.0,176.2 561.0,117.6 561.0,149.2 561.0,103.2 561.0,127.7 561.0,124.3 561.0,105.1 563.0,165.6 563.0,83.3 563.0,159.0 563.0,209.5 563.0,105.9 563.0,139.3 563.0,85.7 563.0,136.8 563.0,81.1 565.0,158.6 565.0,115.7 565.0,78.1 565.0,92.1 565.0,84.4 565.0,122.6 565.0,164.5 565.0,118.3 565.0,94.7 567.0,104.2 567.0,141.1 567.0,63.3 567.0,156.3 567.0,150.6 567.0,62.5 567.0,172.7 567.0,82.1 567.0,123.8 569.0,172.3 569.0,81.8 569.0,76.5 569.0,95.1 569.0,96.1 569.0,126.4 569.0,112.3 569.0,113.2 569.0,113.6 569.0,124.3 571.0,102.2 571.0,147.0 571.0,133.9 571.0,97.6 571.0,188.2 571.0,90.7 571.0,159.6 571.0,105.4 571.0,148.1 573.0,153.3 573.0,163.4 573.0,178.4 573.0,102.8 573.0,212.5 573.0,149.9 573.0,103.8 573.0,88.9 573.0,201.1 575.0,184.4 575.0,134.4 575.0,161.1 575.0,176.2 575.0,139.8 575.0,116.5 575.0,133.9 575.0,163.6 575.0,136.7 577.0,92.7 577.0,161.2 577.0,79.9 577.0,106.3 577.0,174.5 577.0,145.1 577.0,145.0 577.0,140.3 577.0,169.0 577.0,133.3 579.0,74.4 579.0,145.4 579.0,48.5 579.0,71.9 579.0,183.2 579.0,169.1 579.0,115.2 579.0,131.2 579.0,139.4 581.0,168.1 581.0,105.5 581.0,102.3 581.0,109.9 581.0,141.4 581.0,145.9 581.0,117.5 581.0,161.3 581.0,98.3 583.0,130.9 583.0,107.9 583.0,98.7 583.0,174.0 583.0,120.1 583.0,98.7 583.0,137.4 583.0,98.8 583.0,156.5 585.0,163.8 585.0,168.7 585.0,97.3 585.0,127.1 585.0,189.6 585.0,124.2 585.0,175.1 585.0,181.8 585.0,88.7 585.0,173.7 587.0,161.1 587.0,164.6 587.0,185.9 587.0,152.4 587.0,139.2 587.0,157.0 587.0,119.4 587.0,153.5 587.0,72.9 589.0,186.9 589.0,113.0 589.0,154.9 589.0,147.6 589.0,140.2 589.0,140.5 589.0,138.6 589.0,82.1 589.0,112.5 591.0,173.2 591.0,98.4 591.0,97.4 591.0,196.1 591.0,173.5 591.0,182.6 591.0,135.1 591.0,146.1 591.0,161.3 593.0,155.4 593.0,130.1 593.0,86.5 593.0,106.6 593.0,85.3 593.0,182.7 593.0,117.0 593.0,125.2 593.0,146.2 593.0,135.8 595.0,153.9 595.0,109.6 595.0,84.6 595.0,186.8 595.0,106.7 595.0,114.1 595.0,104.2 595.0,111.7 595.0,135.4 597.0,160.1 597.0,96.8 597.0,145.7 597.0,107.6 597.0,172.4 597.0,91.9 597.0,138.6 597.0,158.8 597.0,88.5 599.0,138.8 599.0,140.2 599.0,103.8 599.0,122.6 599.0,166.4 599.0,143.7 599.0,115.5 599.0,122.8 599.0,150.4 601.0,173.7 601.0,160.8 601.0,158.9 601.0,181.2 601.0,83.6 601.0,86.3 601.0,65.9 601.0,161.7 601.0,65.6 601.0,129.7 603.0,159.3 603.0,87.2 603.0,107.4 603.0,120.3 603.0,158.5 603.0,84.1 603.0,145.6 603.0,157.4 603.0,139.1 605.0,139.7 605.0,172.5 605.0,142.1 605.0,130.4 605.0,117.6 605.0,155.9 605.0,119.1 605.0,156.0 605.0,137.2 607.0,169.2 607.0,103.4 607.0,136.1 607.0,146.4 607.0,148.5 607.0,169.3 607.0,147.8 607.0,163.1 607.0,190.0 609.0,161.3 609.0,96.0 609.0,86.4 609.0,156.3 609.0,116.1 609.0,144.3 609.0,123.3 609.0,173.8 609.0,171.0 609.0,94.2 611.0,143.7 611.0,118.6 611.0,89.4 611.0,155.6 611.0,124.4 611.0,149.3 611.0,201.8 611.0,174.2 611.0,168.4 613.0,115.0 613.0,92.7 613.0,172.2 613.0,118.5 613.0,134.4 613.0,116.0 613.0,137.0 613.0,200.2 613.0,118.1 615.0,119.2 615.0,141.0 615.0,144.0 615.0,92.2 615.0,77.7 615.0,109.4 615.0,121.5 615.0,103.3 615.0,97.3 617.0,98.9 617.0,115.0 617.0,124.7 617.0,80.9 617.0,110.0 617.0,145.7 617.0,124.3 617.0,87.6 617.0,115.9 617.0,128.8 619.0,158.3 619.0,80.8 619.0,155.8 619.0,112.4 619.0,140.0 619.0,155.7 619.0,100.3 619.0,102.1 619.0,124.3 621.0,156.8 621.0,109.7 621.0,86.0 621.0,105.2 621.0,146.1 621.0,168.7 621.0,110.7 621.0,116.5 621.0,121.5 623.0,123.1 623.0,98.0 623.0,112.6 623.0,139.8 623.0,135.1 623.0,130.0 623.0,96.3 623.0,109.2 623.0,104.4 625.0,165.5 625.0,176.0 625.0,144.4 625.0,179.5 625.0,117.3 625.0,117.5 625.0,88.8 625.0,140.4 625.0,112.2 625.0,134.7 627.0,149.2 627.0,119.2 627.0,93.4 627.0,126.9 627.0,125.7 627.0,130.7 627.0,155.1 627.0,120.3 627.0,118.5 629.0,183.0 629.0,166.3 629.0,125.2 629.0,98.7 629.0,112.9 629.0,146.1 629.0,160.1 629.0,198.9 629.0,119.7 631.0,138.1 631.0,116.1 631.0,135.2 631.0,115.3 631.0,95.6 631.0,165.4 631.0,137.5 631.0,172.4 631.0,111.8 633.0,142.8 633.0,155.4 633.0,75.7 633.0,89.4 633.0,158.2 633.0,136.8 633.0,76.8 633.0,105.1 633.0,96.6 633.0,112.8 635.0,179.2 635.0,110.1 635.0,190.8 635.0,120.6 635.0,105.5 635.0,179.9 635.0,164.0 635.0,175.3 635.0,189.1 637.0,167.3 637.0,171.5 637.0,80.2 637.0,103.3 637.0,149.8 637.0,141.9 637.0,158.2 637.0,113.9 637.0,168.9 639.0,191.3 639.0,154.5 639.0,161.7 639.0,152.3 639.0,164.3 639.0,142.9 639.0,113.5 639.0,142.4 639.0,139.1 641.0,85.5 641.0,143.7 641.0,135.7 641.0,142.8 641.0,112.2 641.0,151.8 641.0,156.0 641.0,107.4 641.0,146.7 641.0,160.4 643.0,159.3 643.0,101.2 643.0,98.4 643.0,135.3 643.0,97.6 643.0,202.3 643.0,103.9 643.0,104.2 643.0,155.9 645.0,113.7 645.0,65.4 645.0,124.7 645.0,98.4 645.0,111.5 645.0,82.1 645.0,100.3 645.0,123.1 645.0,126.4 647.0,94.3 647.0,105.0 647.0,101.1 647.0,137.1 647.0,122.7 647.0,90.3 647.0,153.8 647.0,105.0 647.0,145.7 649.0,98.8 649.0,142.4 649.0,123.2 649.0,131.5 649.0,149.1 649.0,147.0 649.0,137.2 649.0,137.1 649.0,89.3 649.0,125.0 651.0,67.3 651.0,66.1 651.0,116.3 651.0,119.3 651.0,176.3 651.0,154.0 651.0,166.4 651.0,116.5 651.0,147.2 653.0,168.0 653.0,150.1 653.0,144.5 653.0,134.9 653.0,98.9 653.0,99.6 653.0,85.7 653.0,146.6 653.0,118.4 655.0,105.9 655.0,145.0 655.0,109.0 655.0,165.4 655.0,187.1 655.0,148.3 655.0,105.7 655.0,84.5 655.0,189.7 657.0,148.5 657.0,92.6 657.0,166.4 657.0,80.4 657.0,113.3 657.0,120.0 657.0,115.9 657.0,93.6 657.0,198.6 657.0,114.7 659.0,146.4 659.0,132.6 659.0,82.0 659.0,110.1 659.0,140.4 659.0,162.8 659.0,116.5 659.0,146.0 659.0,116.7 661.0,153.0 661.0,61.6 661.0,153.4 661.0,108.0 661.0,109.2 661.0,53.4 661.0,95.7 661.0,153.8 661.0,197.1 663.0,105.7 663.0,106.9 663.0,150.2 663.0,143.5 663.0,109.1 663.0,123.0 663.0,115.5 663.0,154.2 663.0,159.3 665.0,184.3 665.0,162.8 665.0,155.7 665.0,138.9 665.0,163.4 665.0,98.0 665.0,193.8 665.0,143.6 665.0,175.9 665.0,103.3 667.0,166.0 667.0,147.7 667.0,122.6 667.0,107.0 667.0,100.9 667.0,185.5 667.0,171.1 667.0,137.5 667.0,140.6 669.0,105.3 669.0,76.5 669.0,77.6 669.0,108.8 669.0,123.9 669.0,93.1 669.0,159.7 669.0,151.4 669.0,139.3 671.0,78.3 671.0,121.6 671.0,129.4 671.0,90.7 671.0,68.2 671.0,188.4 671.0,154.6 671.0,115.7 671.0,180.8 673.0,168.3 673.0,149.3 673.0,141.8 673.0,159.2 673.0,177.4 673.0,135.5 673.0,121.0 673.0,153.5 673.0,53.8 673.0,136.3 675.0,115.0 675.0,130.1 675.0,122.7 675.0,145.7 675.0,137.0 675.0,135.4 675.0,124.7 675.0,149.5 675.0,111.8 677.0,164.9 677.0,80.0 677.0,141.0 677.0,149.5 677.0,90.4 677.0,114.2 677.0,174.0 677.0,124.8 677.0,100.8 679.0,50.2 679.0,145.8 679.0,137.0 679.0,154.3 679.0,191.7 679.0,131.1 679.0,138.3 679.0,106.4 679.0,127.8 681.0,129.5 681.0,158.6 681.0,152.6 681.0,104.1 681.0,112.8 681.0,175.4 681.0,98.7 681.0,158.4 681.0,181.5 681.0,155.6 683.0,142.8 683.0,175.0 683.0,146.3 683.0,130.7 683.0,122.0 683.0,169.4 683.0,156.9 683.0,179.5 683.0,117.3 685.0,118.1 685.0,114.0 685.0,143.8 685.0,106.2 685.0,163.4 685.0,145.8 685.0,98.1 685.0,50.6 685.0,76.6 687.0,176.9 687.0,127.8 687.0,138.8 687.0,114.4 687.0,147.6 687.0,74.3 687.0,72.4 687.0,81.1 687.0,135.3 689.0,157.1 689.0,150.1 689.0,124.9 689.0,90.1 689.0,159.7 689.0,119.1 689.0,129.8 689.0,127.1 689.0,112.9 689.0,105.2 691.0,109.1 691.0,89.7 691.0,142.5 691.0,123.0 691.0,165.8 691.0,76.8 691.0,169.9 691.0,127.2 691.0,123.4 693.0,102.8 693.0,102.5 693.0,84.6 693.0,162.5 693.0,121.5 693.0,157.4 693.0,160.5 693.0,111.9 693.0,120.6 695.0,116.9 695.0,166.1 695.0,138.0 695.0,139.5 695.0,157.5 695.0,127.0 695.0,191.5 695.0,99.5 695.0,172.1 697.0,176.0 697.0,93.7 697.0,161.6 697.0,143.7 697.0,161.8 697.0,92.2 697.0,142.4 697.0,98.1 697.0,117.5 697.0,176.4 699.0,124.7 699.0,66.5 699.0,87.1 699.0,93.8 699.0,165.9 699.0,106.1 699.0,83.1 699.0,168.6 699.0,142.7 701.0,245.0 701.0,103.1 701.0,176.6 701.0,125.2 701.0,73.0 701.0,93.9 701.0,101.9 701.0,123.6 701.0,158.9 703.0,105.2 703.0,108.9 703.0,195.4 703.0,136.1 703.0,111.1 703.0,133.7 703.0,90.9 703.0,152.1 703.0,164.6 705.0,109.5 705.0,165.5 705.0,118.9 705.0,144.0 705.0,104.8 705.0,103.1 705.0,84.6 705.0,141.6 705.0,119.1 705.0,120.2 707.0,94.1 707.0,93.1 707.0,108.0 707.0,150.0 707.0,144.5 707.0,106.5 707.0,144.2 707.0,184.8 707.0,137.1 709.0,191.1 709.0,148.9 709.0,174.2 709.0,111.1 709.0,170.1 709.0,92.6 709.0,142.4 709.0,117.4 709.0,72.5 711.0,88.0 711.0,169.0 711.0,150.7 711.0,173.2 711.0,140.7 711.0,51.9 711.0,142.6 711.0,109.8 711.0,111.8 713.0,113.5 713.0,104.0 713.0,98.6 713.0,171.8 713.0,149.2 713.0,107.3 713.0,114.4 713.0,164.6 713.0,147.0 713.0,140.5 715.0,91.4 715.0,113.9 715.0,93.8 715.0,74.3 715.0,162.4 715.0,117.4 715.0,114.6 715.0,98.5 715.0,158.4 717.0,192.6 717.0,153.4 717.0,163.3 717.0,90.9 717.0,139.6 717.0,141.3 717.0,178.0 717.0,131.7 717.0,98.9 719.0,127.2 719.0,113.8 719.0,176.9 719.0,155.7 719.0,145.5 719.0,139.7 719.0,160.9 719.0,112.0 719.0,99.5 721.0,28.0 721.0,170.1 721.0,150.8 721.0,155.0 721.0,133.6 721.0,182.2 721.0,97.7 721.0,170.5 721.0,101.5 721.0,113.1 723.0,91.4 723.0,135.8 723.0,118.3 723.0,148.3 723.0,108.9 723.0,86.8 723.0,152.5 723.0,172.5 723.0,157.5 725.0,127.3 725.0,147.3 725.0,79.2 725.0,116.7 725.0,169.2 725.0,149.0 725.0,101.0 725.0,160.8 725.0,123.9 727.0,157.2 727.0,86.3 727.0,110.5 727.0,144.5 727.0,143.7 727.0,151.9 727.0,129.2 727.0,121.3 727.0,149.4 729.0,161.0 729.0,83.6 729.0,117.0 729.0,121.2 729.0,138.3 729.0,165.1 729.0,88.4 729.0,151.3 729.0,78.4 729.0,103.8 731.0,51.0 731.0,118.8 731.0,108.0 731.0,110.9 731.0,116.4 731.0,118.8 731.0,75.7 731.0,86.6 731.0,113.3 733.0,151.1 733.0,164.8 733.0,209.3 733.0,136.3 733.0,103.0 733.0,139.2 733.0,155.8 733.0,137.6 733.0,95.5 735.0,125.2 735.0,127.8 735.0,86.5 735.0,91.6 735.0,170.1 735.0,66.8 735.0,138.8 735.0,119.3 735.0,174.9 737.0,153.7 737.0,100.9 737.0,171.6 737.0,109.6 737.0,189.6 737.0,181.6 737.0,126.2 737.0,158.5 737.0,139.5 737.0,99.9" fill="none" stroke="#ff0000" stroke-width="2" stroke-linejoin="round" shape-rendering="crispEdges" stroke-dasharray="5 2.4"/>
<polyline points="349.0,166.5 349.0,148.0 349.0,160.7 349.0,166.7 349.0,175.7 351.0,165.9 351.0,126.1 351.0,135.8 351.0,147.8 351.0,124.9 351.0,120.6 351.0,186.7 351.0,150.3 351.0,187.6 353.0,104.0 353.0,128.6 353.0,114.0 353.0,115.5 353.0,118.8 353.0,125.0 353.0,114.0 353.0,185.4 353.0,156.0 353.0,104.8 355.0,110.7 355.0,158.0 355.0,152.1 355.0,108.7 355.0,163.1 355.0,86.6 355.0,112.9 355.0,183.6 355.0,59.0 357.0,122.0 357.0,164.8 357.0,124.2 357.0,103.8 357.0,100.8 357.0,71.0 357.0,89.3 357.0,135.3 357.0,110.0 359.0,130.4 359.0,124.1 359.0,143.8 359.0,81.0 359.0,118.3 359.0,117.3 359.0,118.2 359.0,100.8 359.0,68.4 361.0,154.7 361.0,160.0 361.0,198.6 361.0,157.6 361.0,181.5 361.0,153.7 361.0,115.9 361.0,150.7 361.0,93.4 361.0,142.3 363.0,125.7 363.0,96.3 363.0,171.0 363.0,168.3 363.0,149.6 363.0,160.1 363.0,181.7 363.0,124.8 363.0,88.7 365.0,99.1 365.0,156.8 365.0,141.9 365.0,85.3 365.0,173.6 365.0,141.4 365.0,181.0 365.0,168.7 365.0,114.4 367.0,136.9 367.0,105.4 367.0,102.4 367.0,119.0 367.0,151.1 367.0,175.0 367.0,101.0 367.0,157.2 367.0,134.6 369.0,121.9 369.0,169.0 369.0,117.3 369.0,175.5 369.0,118.1 369.0,100.5 369.0,159.4 369.0,86.5 369.0,93.5 369.0,123.6 371.0,133.4 371.0,120.6 371.0,74.0 371.0,89.7 371.0,152.1 371.0,152.9 371.0,98.3 371.0,144.2 371.0,142.1 373.0,166.5 373.0,106.1 373.0,177.9 373.0,119.6 373.0,177.6 373.0,164.1 373.0,98.3 373.0,119.4 373.0,145.1 375.0,166.6 375.0,88.5 375.0,113.2 375.0,155.6 375.0,151.3 375.0,97.3 375.0,101.5 375.0,149.8 375.0,98.0 377.0,143.2 377.0,163.9 377.0,134.6 377.0,57.9 377.0,170.8 377.0,170.2 377.0,177.0 377.0,162.4 377.0,81.1 377.0,177.0 379.0,147.1 379.0,164.6 379.0,125.1 379.0,121.8 379.0,122.1 379.0,181.5 379.0,144.7 379.0,123.4 379.0,91.2 381.0,151.1 381.0,134.4 381.0,140.5 381.0,165.9 381.0,158.6 381.0,134.0 381.0,142.7 381.0,137.9 381.0,158.5 383.0,157.7 383.0,139.9 383.0,102.6 383.0,162.0 383.0,163.6 383.0,96.7 383.0,148.5 383.0,116.8 383.0,69.0 385.0,130.5 385.0,164.8 385.0,106.1 385.0,106.8 385.0,166.7 385.0,95.7 385.0,100.0 385.0,118.9 385.0,155.4 385.0,155.6 387.0,112.0 387.0,119.1 387.0,137.4 387.0,116.4 387.0,102.0 387.0,95.8 387.0,158.0 387.0,122.3 387.0,210.5 389.0,155.4 389.0,105.2 389.0,133.2 389.0,146.6 389.0,148.4 389.0,150.0 389.0,150.2 389.0,125.5 389.0,156.1 391.0,195.3 391.0,114.6 391.0,116.6 391.0,157.8 391.0,172.4 391.0,160.9 391.0,171.7 391.0,129.6 391.0,121.8 393.0,156.2 393.0,156.8 393.0,183.1 393.0,180.3 393.0,77.3 393.0,159.8 393.0,107.6 393.0,70.5 393.0,148.1 393.0,124.1 395.0,117.6 395.0,90.6 395.0,97.7 395.0,122.2 395.0,85.2 395.0,126.4 395.0,138.0 395.0,124.5 395.0,144.8 397.0,128.1 397.0,93.6 397.0,97.0 397.0,138.7 397.0,164.6 397.0,139.3 397.0,112.2 397.0,139.8 397.0,77.3 399.0,98.0 399.0,116.2 399.0,128.0 399.0,117.9 399.0,119.7 399.0,92.8 399.0,109.9 399.0,142.7 399.0,76.4 401.0,92.3 401.0,117.0 401.0,177.9 401.0,156.3 401.0,179.9 401.0,174.3 401.0,113.7 401.0,127.5 401.0,93.0 401.0,170.0 403.0,157.8 403.0,153.7 403.0,155.9 403.0,149.7 403.0,141.2 403.0,143.6 403.0,171.0 403.0,103.6 403.0,96.5 405.0,131.9 405.0,169.6 405.0,142.4 405.0,122.0 405.0,160.8 405.0,137.4 405.0,75.0 405.0,97.5 405.0,70.5 407.0,121.5 407.0,113.8 407.0,149.1 407.0,193.1 407.0,109.2 407.0,132.5 407.0,116.0 407.0,54.2 407.0,104.4 409.0,105.6 409.0,143.7 409.0,102.3 409.0,90.1 409.0,153.8 409.0,127.9 409.0,100.7 409.0,104.6 409.0,118.8 409.0,160.5 411.0,176.5 411.0,89.8 411.0,169.9 411.0,135.1 411.0,146.7 411.0,164.7 411.0,98.8 411.0,161.6 411.0,89.8 413.0,113.4 413.0,102.0 413.0,183.1 413.0,181.9 413.0,158.8 413.0,151.7 413.0,111.4 413.0,184.4 413.0,175.9 415.0,162.9 415.0,126.2 415.0,117.4 415.0,127.5 415.0,174.3 415.0,99.6 415.0,138.3 415.0,182.0 415.0,162.6 417.0,184.7 417.0,148.9 417.0,149.4 417.0,175.9 417.0,156.3 417.0,146.8 417.0,112.7 417.0,86.0 417.0,178.7 417.0,115.9 419.0,105.9 419.0,162.6 419.0,101.9 419.0,89.6 419.0,111.2 419.0,130.0 419.0,144.9 419.0,152.5 419.0,165.6 421.0,127.4 421.0,148.0 421.0,127.7 421.0,109.3 421.0,149.3 421.0,147.7 421.0,187.8 421.0,155.3 421.0,107.7 423.0,155.2 423.0,122.2 423.0,181.2 423.0,81.1 423.0,108.8 423.0,108.9 423.0,139.7 423.0,127.1 423.0,84.0 425.0,77.4 425.0,142.0 425.0,178.4 425.0,178.1 425.0,117.1 425.0,151.2 425.0,103.0 425.0,87.7 425.0,172.4 425.0,157.6 427.0,119.3 427.0,118.0 427.0,164.3 427.0,146.8 427.0,119.3 427.0,145.6 427.0,134.3 427.0,116.9 427.0,107.4 429.0,164.5 429.0,114.9 429.0,94.7 429.0,186.7 429.0,173.0 429.0,153.2 429.0,130.8 429.0,142.7 429.0,87.8 431.0,133.9 431.0,145.3 431.0,124.4 431.0,150.4 431.0,105.9 431.0,142.0 431.0,84.7 431.0,133.2 431.0,110.3 433.0,90.7 433.0,117.0 433.0,135.3 433.0,110.7 433.0,164.2 433.0,107.6 433.0,164.4 433.0,158.6 433.0,110.3 433.0,177.1 435.0,89.7 435.0,152.9 435.0,136.9 435.0,159.5 435.0,84.5 435.0,93.9 435.0,103.6 435.0,134.5 435.0,137.3 437.0,134.2 437.0,121.0 437.0,106.8 437.0,89.1 437.0,115.2 437.0,152.1 437.0,165.8 437.0,112.7 437.0,167.2 439.0,89.3 439.0,159.2 439.0,96.2 439.0,142.8 439.0,99.7 439.0,99.3 439.0,111.3 439.0,176.0 439.0,107.7 441.0,154.7 441.0,139.5 441.0,144.7 441.0,145.1 441.0,154.9 441.0,93.2 441.0,134.8 441.0,146.3 441.0,110.2 441.0,146.5 443.0,98.0 443.0,157.6 443.0,106.8 443.0,119.9 443.0,159.5 443.0,167.3 443.0,110.7 443.0,108.6 443.0,164.9 445.0,54.1 445.0,173.9 445.0,172.7 445.0,96.8 445.0,170.1 445.0,146.7 445.0,149.7 445.0,66.5 445.0,113.0 447.0,123.0 447.0,115.5 447.0,116.2 447.0,119.6 447.0,54.3 447.0,122.7 447.0,106.9 447.0,127.1 447.0,112.7 449.0,132.0 449.0,143.9 449.0,184.5 449.0,103.2 449.0,182.4 449.0,121.0 449.0,101.2 449.0,86.8 449.0,161.3 449.0,85.1 451.0,162.6 451.0,145.9 451.0,110.4 451.0,107.5 451.0,150.3 451.0,139.1 451.0,157.9 451.0,131.7 451.0,112.0 453.0,151.9 453.0,93.0 453.0,160.8 453.0,134.8 453.0,95.1 453.0,97.7 453.0,118.0 453.0,77.7 453.0,175.0 455.0,164.0 455.0,95.6 455.0,125.7 455.0,182.5 455.0,147.7 455.0,97.7 455.0,69.7 455.0,81.8 455.0,170.0 457.0,144.8 457.0,90.0 457.0,156.9 457.0,116.6 457.0,107.3 457.0,111.6 457.0,113.3 457.0,182.1 457.0,99.4 457.0,115.3 459.0,173.8 459.0,178.1 459.0,98.4 459.0,191.5 459.0,167.8 459.0,85.4 459.0,185.5 459.0,85.6 459.0,156.2 461.0,93.9 461.0,78.2 461.0,161.1 461.0,148.4 461.0,127.0 461.0,140.5 461.0,126.1 461.0,120.1 461.0,96.0 463.0,153.4 463.0,133.2 463.0,120.7 463.0,110.1 463.0,119.4 463.0,84.5 463.0,118.4 463.0,98.3 463.0,172.7 465.0,99.1 465.0,113.7 465.0,132.8 465.0,159.6 465.0,149.7 465.0,132.8 465.0,193.9 465.0,130.3 465.0,145.2 465.0,206.9 467.0,100.8 467.0,164.3 467.0,149.1 467.0,89.5 467.0,108.5 467.0,160.7 467.0,86.1 467.0,122.8 467.0,163.4 469.0,120.9 469.0,143.3 469.0,107.1 469.0,108.4 469.0,108.7 469.0,116.9 469.0,154.9 469.0,135.8 469.0,189.5 471.0,152.4 471.0,143.6 471.0,196.0 471.0,125.8 471.0,103.1 471.0,139.0 471.0,95.4 471.0,151.4 471.0,174.8 473.0,155.0 473.0,115.0 473.0,124.3 473.0,150.4 473.0,170.0 473.0,115.3 473.0,114.8 473.0,167.6 473.0,141.5 473.0,145.9 475.0,150.4 475.0,104.1 475.0,124.3 475.0,167.0 475.0,123.9 475.0,122.4 475.0,144.4 475.0,147.5 475.0,202.7 477.0,103.1 477.0,138.7 477.0,190.7 477.0,134.0 477.0,147.2 477.0,86.1 477.0,164.7 477.0,161.9 477.0,160.5 479.0,123.1 479.0,146.9 479.0,127.9 479.0,161.3 479.0,130.9 479.0,159.5 479.0,89.1 479.0,117.9 479.0,53.7 481.0,124.5 481.0,159.1 481.0,120.3 481.0,198.5 481.0,98.2 481.0,117.6 481.0,100.0 481.0,112.3 481.0,113.3 481.0,85.6 483.0,98.5 483.0,191.1 483.0,120.2 483.0,163.0 483.0,90.8 483.0,125.7 483.0,152.2 483.0,123.5 483.0,111.9 485.0,122.8 485.0,133.7 485.0,160.8 485.0,170.8 485.0,89.5 485.0,71.5 485.0,122.6 485.0,132.2 485.0,157.5 487.0,167.1 487.0,107.2 487.0,191.8 487.0,143.0 487.0,78.3 487.0,164.3 487.0,143.7 487.0,144.0 487.0,82.6 489.0,118.6 489.0,139.4 489.0,124.1 489.0,156.6 489.0,172.1 489.0,178.9 489.0,172.0 489.0,124.3 489.0,183.7 489.0,143.2 491.0,161.4 491.0,120.7 491.0,87.5 491.0,66.6 491.0,140.4 491.0,106.9 491.0,131.2 491.0,162.5 491.0,84.2 493.0,78.4 493.0,143.1 493.0,146.7 493.0,119.7 493.0,111.4 493.0,82.6 493.0,126.9 493.0,105.0 493.0,148.9 495.0,163.9 495.0,110.5 495.0,148.3 495.0,140.4 495.0,157.0 495.0,179.1 495.0,155.8 495.0,157.3 495.0,159.7 497.0,114.5 497.0,131.1 497.0,146.0 497.0,171.7 497.0,173.1 497.0,196.7 497.0,95.4 497.0,129.0 497.0,79.3 497.0,111.0 499.0,81.3 499.0,169.8 499.0,158.6 499.0,95.8 499.0,145.7 499.0,158.1 499.0,184.2 499.0,160.7 499.0,138.1 501.0,126.6 501.0,154.8 501.0,144.6 501.0,112.9 501.0,92.0 501.0,166.8 501.0,105.6 501.0,119.8 501.0,159.8 503.0,128.3 503.0,168.9 503.0,94.6 503.0,158.8 503.0,89.2 503.0,84.8 503.0,96.7 503.0,137.7 503.0,106.9 505.0,87.9 505.0,170.7 505.0,98.8 505.0,125.7 505.0,142.9 505.0,113.0 505.0,146.6 505.0,154.6 505.0,126.2 505.0,166.4 507.0,109.4 507.0,96.2 507.0,141.1 507.0,98.7 507.0,147.1 507.0,126.2 507.0,113.2 507.0,153.4 507.0,152.1 509.0,51.0 509.0,118.0 509.0,138.6 509.0,150.6 509.0,110.7 509.0,93.8 509.0,137.9 509.0,156.4 509.0,71.3 511.0,84.7 511.0,109.4 511.0,59.2 511.0,109.1 511.0,160.4 511.0,96.0 511.0,138.5 511.0,100.8 511.0,148.5 513.0,155.4 513.0,173.3 513.0,135.7 513.0,166.7 513.0,147.8 513.0,112.9 513.0,177.6 513.0,109.0 513.0,139.6 513.0,200.7 515.0,161.7 515.0,102.5 515.0,144.2 515.0,110.4 515.0,124.3 515.0,84.5 515.0,141.5 515.0,83.4 515.0,146.7 517.0,146.8 517.0,161.1 517.0,195.7 517.0,80.8 517.0,92.4 517.0,97.7 517.0,109.9 517.0,162.0 517.0,117.3 519.0,109.4 519.0,94.1 519.0,108.0 519.0,113.9 519.0,125.8 519.0,86.3 519.0,127.0 519.0,152.9 519.0,145.9 521.0,91.0 521.0,160.3 521.0,159.9 521.0,144.3 521.0,91.5 521.0,85.3 521.0,133.9 521.0,96.8 521.0,88.7 521.0,162.3 523.0,162.9 523.0,155.2 523.0,173.5 523.0,162.6 523.0,93.3 523.0,169.2 523.0,137.6 523.0,149.1 523.0,180.0 525.0,149.1 525.0,180.2 525.0,134.8 525.0,115.8 525.0,105.8 525.0,124.6 525.0,80.1 525.0,127.7 525.0,125.2 527.0,110.9 527.0,67.0 527.0,69.0 527.0,157.1 527.0,98.7 527.0,175.1 527.0,105.5 527.0,146.4 527.0,85.9 529.0,107.8 529.0,121.3 529.0,153.4 529.0,182.9 529.0,164.4 529.0,85.8 529.0,132.0 529.0,123.3 529.0,107.8 529.0,153.7 531.0,180.4 531.0,113.4 531.0,168.6 531.0,175.8 531.0,95.9 531.0,185.2 531.0,183.1 531.0,144.3 531.0,183.6 533.0,142.8 533.0,169.5 533.0,155.6 533.0,101.4 533.0,143.1 533.0,123.4 533.0,112.2 533.0,93.5 533.0,103.7 535.0,91.4 535.0,169.1 535.0,73.4 535.0,135.9 535.0,108.6 535.0,90.9 535.0,157.8 535.0,103.2 535.0,171.0 537.0,123.0 537.0,145.6 537.0,124.9 537.0,155.6 537.0,163.8 537.0,113.6 537.0,130.7 537.0,184.8 537.0,109.7 537.0,186.1 539.0,115.4 539.0,110.2 539.0,79.9 539.0,101.8 539.0,78.6 539.0,109.8 539.0,156.8 539.0,127.9 539.0,108.9 541.0,96.8 541.0,106.4 541.0,85.7 541.0,90.4 541.0,189.3 541.0,142.3 541.0,99.9 541.0,156.2 541.0,178.4 543.0,107.8 543.0,125.8 543.0,90.8 543.0,82.2 543.0,175.4 543.0,222.4 543.0,104.8 543.0,81.4 543.0,176.4 545.0,167.0 545.0,150.2 545.0,177.7 545.0,117.2 545.0,143.6 545.0,159.6 545.0,118.1 545.0,150.3 545.0,120.7 545.0,149.5 547.0,139.3 547.0,72.9 547.0,136.4 547.0,86.3 547.0,101.6 547.0,80.4 547.0,160.2 547.0,117.5 547.0,115.6 549.0,171.9 549.0,157.2 549.0,121.5 549.0,70.4 549.0,155.7 549.0,119.7 549.0,116.3 549.0,157.9 549.0,107.9 551.0,126.7 551.0,162.3 551.0,153.1 551.0,108.4 551.0,177.2 551.0,169.3 551.0,187.9 551.0,128.1 551.0,141.3 553.0,166.8 553.0,149.1 553.0,138.5 553.0,126.0 553.0,118.5 553.0,107.4 553.0,107.6 553.0,148.0 553.0,118.4 553.0,86.8 555.0,134.8 555.0,182.4 555.0,174.9 555.0,72.3 555.0,101.9 555.0,159.3 555.0,136.1 555.0,135.7 555.0,125.0 557.0,135.1 557.0,97.2 557.0,170.4 557.0,96.5 557.0,124.5 557.0,179.3 557.0,167.8 557.0,131.2 557.0,131.2 559.0,109.2 559.0,112.2 559.0,121.0 559.0,174.4 559.0,114.4 559.0,153.2 559.0,149.0 559.0,148.2 559.0,119.6 561.0,158.3 561.0,139.8 561.0,137.3 561.0,113.4 561.0,69.4 561.0,158.2 561.0,159.0 561.0,112.5 561.0,123.7 561.0,144.6 563.0,99.0 563.0,157.7 563.0,157.9 563.0,161.9 563.0,163.8 563.0,75.6 563.0,152.3 563.0,114.8 563.0,168.9 565.0,167.5 565.0,160.9 565.0,128.1 565.0,209.0 565.0,129.7 565.0,97.3 565.0,165.3 565.0,86.9 565.0,189.2 567.0,166.6 567.0,174.7 567.0,167.4 567.0,149.0 567.0,90.4 567.0,110.3 567.0,154.1 567.0,123.7 567.0,148.1 569.0,107.9 569.0,104.9 569.0,145.8 569.0,159.2 569.0,134.5 569.0,99.6 569.0,81.9 569.0,191.7 569.0,95.1 569.0,102.4 571.0,106.5 571.0,163.4 571.0,105.6 571.0,153.4 571.0,145.4 571.0,94.9 571.0,140.4 571.0,92.7 571.0,124.8 573.0,158.8 573.0,121.8 573.0,100.9 573.0,115.5 573.0,123.6 573.0,146.2 573.0,66.5 573.0,76.9 573.0,151.0 575.0,125.9 575.0,133.0 575.0,141.5 575.0,123.8 575.0,113.8 575.0,137.3 575.0,155.8 575.0,145.7 575.0,132.8 577.0,96.6 577.0,141.9 577.0,93.6 577.0,106.9 577.0,138.6 577.0,137.3 577.0,167.5 577.0,161.7 577.0,150.3 577.0,117.7 579.0,130.1 579.0,120.5 579.0,183.6 579.0,149.4 579.0,107.5 579.0,102.0 579.0,171.4 579.0,101.3 579.0,146.5 581.0,139.8 581.0,166.8 581.0,101.2 581.0,149.6 581.0,140.8 581.0,159.5 581.0,174.5 581.0,137.0 581.0,121.4 583.0,161.8 583.0,87.4 583.0,140.4 583.0,98.5 583.0,92.5 583.0,83.2 583.0,81.3 583.0,160.6 583.0,161.8 585.0,137.2 585.0,166.2 585.0,133.9 585.0,112.6 585.0,96.0 585.0,158.9 585.0,160.2 585.0,172.2 585.0,103.7 585.0,119.6 587.0,89.1 587.0,169.2 587.0,157.3 587.0,151.6 587.0,131.2 587.0,124.8 587.0,117.0 587.0,167.9 587.0,108.7 589.0,162.5 589.0,144.5 589.0,98.2 589.0,86.8 589.0,104.4 589.0,130.1 589.0,90.7 589.0,155.2 589.0,169.2 591.0,152.7 591.0,80.8 591.0,65.4 591.0,162.1 591.0,178.2 591.0,116.0 591.0,152.1 591.0,120.4 591.0,108.6 593.0,165.5 593.0,111.2 593.0,161.6 593.0,183.9 593.0,126.1 593.0,187.6 593.0,90.2 593.0,163.5 593.0,133.5 593.0,203.5 595.0,135.1 595.0,104.0 595.0,181.7 595.0,84.6 595.0,149.7 595.0,104.9 595.0,175.7 595.0,126.9 595.0,161.9 597.0,130.1 597.0,95.5 597.0,69.6 597.0,185.7 597.0,142.7 597.0,94.2 597.0,118.8 597.0,165.4 597.0,85.5 599.0,197.0 599.0,121.0 599.0,116.9 599.0,173.2 599.0,141.8 599.0,98.1 599.0,163.4 599.0,149.8 599.0,169.0 601.0,100.2 601.0,94.6 601.0,155.1 601.0,114.5 601.0,69.2 601.0,109.7 601.0,155.1 601.0,105.6 601.0,172.9 601.0,112.2 603.0,126.5 603.0,81.8 603.0,103.3 603.0,122.8 603.0,153.4 603.0,140.5 603.0,167.1 603.0,68.5 603.0,133.3 605.0,124.3 605.0,96.4 605.0,128.8 605.0,104.7 605.0,148.7 605.0,117.0 605.0,151.1 605.0,100.1 605.0,172.5 607.0,147.7 607.0,185.3 607.0,124.7 607.0,112.0 607.0,138.4 607.0,113.1 607.0,96.5 607.0,132.7 607.0,127.7 609.0,107.5 609.0,115.7 609.0,98.3 609.0,138.7 609.0,88.5 609.0,183.3 609.0,133.6 609.0,163.9 609.0,92.2 609.0,146.0 611.0,124.7 611.0,165.0 611.0,162.0 611.0,81.1 611.0,169.5 611.0,84.7 611.0,174.5 611.0,128.3 611.0,92.3 613.0,157.2 613.0,134.0 613.0,97.8 613.0,104.8 613.0,150.3 613.0,87.8 613.0,101.3 613.0,187.2 613.0,104.0 615.0,146.9 615.0,149.4 615.0,164.5 615.0,162.2 615.0,60.1 615.0,112.4 615.0,170.5 615.0,103.3 615.0,186.5 617.0,142.7 617.0,91.6 617.0,153.1 617.0,189.5 617.0,106.8 617.0,152.9 617.0,100.7 617.0,109.4 617.0,137.6 617.0,151.6 619.0,146.4 619.0,141.4 619.0,200.4 619.0,95.3 619.0,75.6 619.0,153.1 619.0,140.6 619.0,86.1 619.0,184.3 621.0,106.0 621.0,86.7 621.0,148.7 621.0,155.6 621.0,199.3 621.0,83.6 621.0,90.2 621.0,119.6 621.0,114.0 623.0,127.5 623.0,105.7 623.0,83.0 623.0,113.7 623.0,157.6 623.0,159.9 623.0,107.3 623.0,152.5 623.0,148.6 625.0,112.3 625.0,116.9 625.0,134.7 625.0,209.4 625.0,139.8 625.0,100.6 625.0,123.9 625.0,110.3 625.0,169.6 625.0,68.4 627.0,95.0 627.0,161.2 627.0,148.8 627.0,134.0 627.0,158.0 627.0,88.8 627.0,147.1 627.0,93.8 627.0,90.0 629.0,151.4 629.0,103.2 629.0,116.8 629.0,155.3 629.0,96.3 629.0,154.8 629.0,197.1 629.0,122.5 629.0,164.9 631.0,159.7 631.0,90.5 631.0,87.9 631.0,132.8 631.0,69.1 631.0,135.0 631.0,143.6 631.0,150.6 631.0,150.0 633.0,175.0 633.0,117.9 633.0,175.5 633.0,152.7 633.0,152.6 633.0,124.6 633.0,165.1 633.0,104.8 633.0,158.6 633.0,169.5 635.0,107.3 635.0,99.2 635.0,104.7 635.0,130.1 635.0,147.5 635.0,162.9 635.0,189.2 635.0,182.5 635.0,144.5 637.0,116.2 637.0,92.3 637.0,161.5 637.0,152.5 637.0,120.0 637.0,124.3 637.0,126.3 637.0,58.9 637.0,129.3 639.0,146.3 639.0,126.0 639.0,96.1 639.0,135.6 639.0,151.3 639.0,186.9 639.0,168.0 639.0,154.8 639.0,129.5 641.0,88.8 641.0,113.5 641.0,88.1 641.0,127.0 641.0,168.2 641.0,167.7 641.0,163.8 641.0,134.4 641.0,166.2 641.0,120.3 643.0,73.4 643.0,139.5 643.0,135.2 643.0,78.6 643.0,111.6 643.0,61.9 643.0,113.3 643.0,172.0 643.0,108.0 645.0,174.7 645.0,142.8 645.0,105.2 645.0,77.8 645.0,159.4 645.0,156.9 645.0,85.0 645.0,115.0 645.0,169.3 647.0,105.0 647.0,148.6 647.0,73.5 647.0,100.0 647.0,158.7 647.0,92.9 647.0,86.1 647.0,87.4 647.0,116.5 649.0,82.7 649.0,126.5 649.0,153.7 649.0,180.3 649.0,115.7 649.0,182.3 649.0,153.8 649.0,122.1 649.0,152.5 649.0,180.0 651.0,179.4 651.0,159.5 651.0,127.4 651.0,161.7 651.0,142.4 651.0,140.6 651.0,144.0 651.0,187.3 651.0,92.5 653.0,128.2 653.0,95.3 653.0,162.7 653.0,169.4 653.0,175.8 653.0,117.3 653.0,135.9 653.0,160.0 653.0,141.3 655.0,145.2 655.0,141.8 655.0,144.5 655.0,126.6 655.0,150.2 655.0,85.7 655.0,115.3 655.0,89.2 655.0,127.9 657.0,105.6 657.0,153.2 657.0,173.4 657.0,91.5 657.0,104.3 657.0,146.6 657.0,178.1 657.0,160.2 657.0,150.3 657.0,129.5 659.0,114.6 659.0,148.4 659.0,152.1 659.0,140.6 659.0,110.2 659.0,82.2 659.0,102.3 659.0,116.8 659.0,93.7 661.0,146.4 661.0,86.8 661.0,119.2 661.0,147.2 661.0,161.3 661.0,143.5 661.0,172.0 661.0,109.8 661.0,104.4 663.0,168.9 663.0,101.4 663.0,124.8 663.0,79.0 663.0,169.7 663.0,158.5 663.0,105.0 663.0,78.7 663.0,143.8 665.0,144.5 665.0,170.9 665.0,188.1 665.0,143.1 665.0,122.3 665.0,121.6 665.0,119.3 665.0,88.2 665.0,100.8 665.0,127.7 667.0,81.2 667.0,89.6 667.0,172.1 667.0,107.3 667.0,160.7 667.0,168.9 667.0,133.7 667.0,161.6 667.0,123.7 669.0,101.5 669.0,126.7 669.0,136.6 669.0,138.8 669.0,136.8 669.0,116.1 669.0,168.0 669.0,123.1 669.0,115.5 671.0,164.4 671.0,98.1 671.0,133.2 671.0,178.8 671.0,136.6 671.0,177.4 671.0,121.2 671.0,112.7 671.0,124.9 673.0,111.1 673.0,117.7 673.0,115.0 673.0,161.1 673.0,149.1 673.0,123.2 673.0,105.6 673.0,218.9 673.0,123.6 673.0,177.1 675.0,93.7 675.0,105.9 675.0,172.6 675.0,95.9 675.0,96.6 675.0,130.2 675.0,106.2 675.0,120.1 675.0,140.7 677.0,163.1 677.0,141.8 677.0,145.7 677.0,175.2 677.0,177.5 677.0,118.1 677.0,76.7 677.0,98.3 677.0,168.6 679.0,113.9 679.0,106.9 679.0,114.9 679.0,181.9 679.0,136.9 679.0,117.4 679.0,107.2 679.0,96.0 679.0,210.5 681.0,131.9 681.0,140.7 681.0,119.4 681.0,168.6 681.0,98.5 681.0,75.2 681.0,111.0 681.0,147.2 681.0,198.0 681.0,129.4 683.0,253.0 683.0,122.8 683.0,104.9 683.0,104.7 683.0,138.4 683.0,145.9 683.0,108.5 683.0,169.5 683.0,129.4 685.0,139.4 685.0,112.9 685.0,148.4 685.0,149.7 685.0,157.4 685.0,103.9 685.0,156.6 685.0,111.3 685.0,138.9 687.0,159.9 687.0,180.3 687.0,115.2 687.0,95.9 687.0,140.6 687.0,172.9 687.0,119.3 687.0,202.1 687.0,76.2 689.0,180.1 689.0,171.5 689.0,170.1 689.0,103.7 689.0,176.5 689.0,171.6 689.0,173.7 689.0,123.3 689.0,122.6 689.0,174.9 691.0,148.1 691.0,118.3 691.0,103.6 691.0,145.3 691.0,89.5 691.0,155.2 691.0,141.4 691.0,84.4 691.0,151.4 693.0,172.5 693.0,144.7 693.0,90.1 693.0,110.4 693.0,162.7 693.0,90.9 693.0,117.8 693.0,171.0 693.0,121.0 695.0,111.1 695.0,161.8 695.0,182.8 695.0,149.5 695.0,90.1 695.0,82.8 695.0,122.1 695.0,78.0 695.0,129.2 697.0,164.5 697.0,58.1 697.0,125.0 697.0,147.1 697.0,112.2 697.0,149.3 697.0,152.7 697.0,168.4 697.0,208.2 697.0,146.9 699.0,101.5 699.0,98.0 699.0,92.3 699.0,158.9 699.0,147.6 699.0,151.6 699.0,142.7 699.0,182.4 699.0,169.5 701.0,167.3 701.0,107.9 701.0,119.4 701.0,90.5 701.0,108.7 701.0,138.4 701.0,92.6 701.0,109.1 701.0,192.6 703.0,124.5 703.0,85.4 703.0,92.0 703.0,128.9 703.0,162.6 703.0,128.9 703.0,163.3 703.0,146.6 703.0,95.5 705.0,167.8 705.0,114.9 705.0,189.4 705.0,110.6 705.0,126.3 705.0,112.0 705.0,121.4 705.0,151.3 705.0,124.5 705.0,172.0 707.0,150.4 707.0,182.1 707.0,137.9 707.0,174.8 707.0,172.5 707.0,126.6 707.0,204.7 707.0,180.5 707.0,154.3 709.0,124.5 709.0,130.0 709.0,125.7 709.0,146.2 709.0,95.5 709.0,137.8 709.0,110.7 709.0,184.5 709.0,161.0 711.0,184.6 711.0,201.5 711.0,152.6 711.0,193.0 711.0,149.5 711.0,157.3 711.0,100.9 711.0,139.3 711.0,178.9 713.0,153.4 713.0,118.5 713.0,136.2 713.0,107.0 713.0,109.0 713.0,87.9 713.0,170.6 713.0,170.2 713.0,129.4 713.0,90.4 715.0,123.6 715.0,193.0 715.0,90.7 715.0,114.3 715.0,115.3 715.0,162.2 715.0,92.3 715.0,145.9 715.0,104.6 717.0,119.3 717.0,93.7 717.0,154.3 717.0,114.7 717.0,111.5 717.0,170.3 717.0,148.8 717.0,201.2 717.0,151.2 719.0,139.6 719.0,141.2 719.0,210.0 719.0,174.4 719.0,122.1 719.0,148.0 719.0,114.1 719.0,158.6 719.0,114.6 721.0,112.8 721.0,152.0 721.0,177.2 721.0,164.0 721.0,161.0 721.0,138.1 721.0,64.4 721.0,126.8 721.0,125.0 721.0,154.6 723.0,186.9 723.0,161.2 723.0,80.3 723.0,137.0 723.0,123.7 723.0,159.9 723.0,132.7 723.0,76.0 723.0,102.0 725.0,120.3 725.0,72.6 725.0,128.1 725.0,121.4 725.0,169.4 725.0,128.3 725.0,110.0 725.0,127.7 725.0,135.9 727.0,166.5 727.0,100.2 727.0,67.3 727.0,209.7 727.0,160.5 727.0,136.7 727.0,202.2 727.0,94.9 727.0,104.6 729.0,115.5 729.0,152.4 729.0,114.7 729.0,161.0 729.0,118.4 729.0,175.0 729.0,151.6 729.0,81.4 729.0,132.7 729.0,94.7 731.0,126.4 731.0,134.3 731.0,197.9 731.0,122.3 731.0,82.3 731.0,138.9 731.0,93.8 731.0,188.0 731.0,158.7 733.0,181.7 733.0,116.3 733.0,96.9 733.0,145.5 733.0,88.1 733.0,99.0 733.0,104.9 733.0,125.5 733.0,84.2 735.0,70.9 735.0,178.0 735.0,111.4 735.0,123.9 735.0,155.1 735.0,150.3 735.0,108.0 735.0,114.5 735.0,182.7 737.0,173.7 737.0,159.8 737.0,184.1 737.0,75.3 737.0,140.0 737.0,120.7 737.0,74.5 737.0,147.5 737.0,157.2 737.0,144.9" fill="none" stroke="#00cd00" stroke-width="2" stroke-linejoin="round" shape-rendering="crispEdges" stroke-dasharray="2 2.8"/>
<line x1="349.00" y1="132.50" x2="392.00" y2="132.50" stroke="#ff0000" stroke-width="1.6" />
<line x1="392.00" y1="133.50" x2="407.00" y2="133.50" stroke="#000" stroke-width="1.6" />
<line x1="535.00" y1="131.00" x2="585.00" y2="131.00" stroke="#000" stroke-width="1.6" />
</g>
<rect x="332.6" y="19.7" width="420.60" height="244.50" fill="none" stroke="#000" stroke-width="1.7"/>
<line x1="316.00" y1="35.20" x2="332.60" y2="35.20" stroke="#000" stroke-width="1.7" />
<line x1="316.00" y1="109.80" x2="332.60" y2="109.80" stroke="#000" stroke-width="1.7" />
<line x1="316.00" y1="186.50" x2="332.60" y2="186.50" stroke="#000" stroke-width="1.7" />
<line x1="316.00" y1="261.80" x2="332.60" y2="261.80" stroke="#000" stroke-width="1.7" />
<text transform="translate(292.60,35.20) scale(1.42,1) rotate(-90)" font-size="21" text-anchor="middle">2.45</text>
<text transform="translate(292.60,109.80) scale(1.42,1) rotate(-90)" font-size="21" text-anchor="middle">2.40</text>
<text transform="translate(292.60,186.50) scale(1.42,1) rotate(-90)" font-size="21" text-anchor="middle">2.35</text>
<text transform="translate(292.60,261.80) scale(1.42,1) rotate(-90)" font-size="21" text-anchor="middle">2.30</text>
<line x1="392.40" y1="264.20" x2="392.40" y2="277.00" stroke="#000" stroke-width="1.7" />
<line x1="477.10" y1="264.20" x2="477.10" y2="277.00" stroke="#000" stroke-width="1.7" />
<line x1="563.60" y1="264.20" x2="563.60" y2="277.00" stroke="#000" stroke-width="1.7" />
<line x1="650.30" y1="264.20" x2="650.30" y2="277.00" stroke="#000" stroke-width="1.7" />
<line x1="736.90" y1="264.20" x2="736.90" y2="277.00" stroke="#000" stroke-width="1.7" />
<text transform="translate(391.60,310.20) scale(1.280888888888889,1)" font-size="22.5" text-anchor="middle" >2000</text>
<text transform="translate(562.80,310.20) scale(1.280888888888889,1)" font-size="22.5" text-anchor="middle" >6000</text>
<text transform="translate(733.30,310.20) scale(1.280888888888889,1)" font-size="22.5" text-anchor="middle" >10&#8201;000</text>
<text transform="translate(540.30,361.70) scale(1.25,1)" font-size="22" text-anchor="middle" >Iterations</text>
<text transform="translate(338.20,47.00) scale(1.085,1)" font-size="27.4" text-anchor="start" style="stroke:none">(a)</text>
<g>
<polyline points="337.0,537.3 337.0,527.7 337.0,518.3 337.0,459.5 337.0,533.9 339.0,464.1 339.0,546.8 339.0,538.7 339.0,544.7 339.0,544.6 339.0,530.1 339.0,504.2 339.0,510.6 339.0,561.9 341.0,502.9 341.0,512.9 341.0,499.1 341.0,504.7 341.0,510.6 341.0,528.9 341.0,511.0 341.0,509.2 341.0,502.0 343.0,523.8 343.0,483.2 343.0,522.5 343.0,557.0 343.0,498.0 343.0,518.7 343.0,593.1 343.0,492.1 343.0,476.3 345.0,507.2 345.0,569.2 345.0,574.7 345.0,486.4 345.0,537.7 345.0,520.7 345.0,502.8 345.0,468.4 345.0,549.7 347.0,495.5 347.0,530.1 347.0,523.5 347.0,570.7 347.0,553.6 347.0,487.9 347.0,511.9 347.0,550.0 347.0,483.5 349.0,508.2 349.0,528.0 349.0,476.5 349.0,485.9 349.0,474.3 349.0,529.8 349.0,503.5 349.0,547.3 349.0,524.5 351.0,537.8 351.0,517.4 351.0,542.6 351.0,516.8 351.0,492.4 351.0,553.8 351.0,548.6 351.0,580.2 351.0,515.6 353.0,503.0 353.0,480.6 353.0,424.1 353.0,484.1 353.0,535.5 353.0,494.9 353.0,453.0 353.0,538.8 353.0,502.7 355.0,509.1 355.0,507.1 355.0,515.8 355.0,535.1 355.0,473.6 355.0,513.0 355.0,504.9 355.0,552.6 355.0,491.0 357.0,565.1 357.0,538.8 357.0,564.8 357.0,499.6 357.0,544.1 357.0,532.0 357.0,479.4 357.0,512.0 357.0,506.5 359.0,492.8 359.0,497.9 359.0,480.8 359.0,506.1 359.0,531.2 359.0,497.7 359.0,477.7 359.0,550.3 359.0,508.8 361.0,521.6 361.0,512.8 361.0,504.1 361.0,538.6 361.0,504.4 361.0,521.7 361.0,480.7 361.0,475.9 361.0,508.3 361.0,571.7 363.0,526.6 363.0,572.3 363.0,534.5 363.0,534.5 363.0,502.9 363.0,519.6 363.0,568.8 363.0,553.8 363.0,501.7 365.0,506.0 365.0,557.6 365.0,504.8 365.0,547.0 365.0,494.2 365.0,539.3 365.0,562.3 365.0,544.8 365.0,528.5 367.0,525.4 367.0,517.4 367.0,519.5 367.0,553.7 367.0,553.0 367.0,533.3 367.0,485.3 367.0,504.6 367.0,530.1 369.0,522.5 369.0,483.0 369.0,540.3 369.0,588.1 369.0,486.1 369.0,522.9 369.0,564.6 369.0,507.5 369.0,507.7 371.0,526.3 371.0,537.7 371.0,507.6 371.0,548.6 371.0,469.4 371.0,540.1 371.0,532.2 371.0,515.0 371.0,532.7 373.0,522.4 373.0,557.5 373.0,506.2 373.0,518.9 373.0,482.1 373.0,488.7 373.0,512.6 373.0,477.9 373.0,495.9 375.0,483.6 375.0,505.4 375.0,524.7 375.0,547.6 375.0,468.6 375.0,513.8 375.0,545.6 375.0,558.7 375.0,559.4 377.0,480.9 377.0,504.8 377.0,537.6 377.0,547.5 377.0,529.7 377.0,529.2 377.0,528.4 377.0,498.0 377.0,526.0 379.0,544.2 379.0,509.7 379.0,553.5 379.0,447.3 379.0,510.1 379.0,566.6 379.0,545.8 379.0,560.3 379.0,525.6 381.0,487.3 381.0,504.9 381.0,562.2 381.0,471.1 381.0,493.1 381.0,474.1 381.0,504.2 381.0,507.4 381.0,538.0 383.0,496.5 383.0,566.9 383.0,539.8 383.0,506.0 383.0,492.1 383.0,479.4 383.0,524.8 383.0,573.5 383.0,515.0 385.0,491.2 385.0,518.4 385.0,504.8 385.0,494.4 385.0,469.7 385.0,518.5 385.0,561.4 385.0,555.0 385.0,548.8 387.0,527.7 387.0,535.2 387.0,549.5 387.0,518.6 387.0,529.9 387.0,508.2 387.0,552.7 387.0,494.0 387.0,541.0 389.0,545.6 389.0,545.1 389.0,541.8 389.0,506.4 389.0,503.7 389.0,507.9 389.0,509.0 389.0,489.0 389.0,507.0 391.0,501.8 391.0,493.5 391.0,532.3 391.0,498.6 391.0,529.1 391.0,561.4 391.0,566.7 391.0,521.9 391.0,550.1 393.0,529.2 393.0,583.6 393.0,565.8 393.0,552.6 393.0,515.7 393.0,512.8 393.0,537.6 393.0,519.9 393.0,512.9 395.0,541.7 395.0,486.0 395.0,467.4 395.0,491.8 395.0,488.2 395.0,518.0 395.0,495.5 395.0,514.3 395.0,466.7 397.0,561.4 397.0,533.3 397.0,495.7 397.0,531.0 397.0,555.4 397.0,545.4 397.0,517.6 397.0,539.4 397.0,546.6 399.0,486.7 399.0,480.9 399.0,502.8 399.0,549.1 399.0,561.6 399.0,525.6 399.0,562.3 399.0,549.5 399.0,518.2 401.0,498.8 401.0,501.5 401.0,523.9 401.0,559.9 401.0,545.4 401.0,484.3 401.0,486.2 401.0,544.7 401.0,527.5 403.0,493.5 403.0,541.1 403.0,558.9 403.0,544.3 403.0,524.8 403.0,558.2 403.0,508.7 403.0,503.0 403.0,494.1 405.0,572.0 405.0,577.5 405.0,519.5 405.0,538.9 405.0,535.1 405.0,548.1 405.0,554.7 405.0,541.4 405.0,517.8 407.0,505.2 407.0,491.8 407.0,452.7 407.0,517.7 407.0,496.7 407.0,522.5 407.0,517.4 407.0,491.6 407.0,505.6 409.0,534.1 409.0,526.9 409.0,495.4 409.0,498.7 409.0,538.4 409.0,529.0 409.0,531.0 409.0,515.5 409.0,542.9 411.0,524.6 411.0,587.1 411.0,506.4 411.0,500.1 411.0,566.0 411.0,518.4 411.0,498.1 411.0,534.5 411.0,459.8 411.0,534.9 413.0,521.9 413.0,529.7 413.0,497.4 413.0,557.6 413.0,531.1 413.0,520.3 413.0,532.4 413.0,496.5 413.0,516.4 415.0,479.5 415.0,489.5 415.0,530.4 415.0,525.0 415.0,542.7 415.0,501.0 415.0,516.8 415.0,500.3 415.0,529.1 417.0,543.6 417.0,551.0 417.0,537.9 417.0,497.4 417.0,527.6 417.0,491.0 417.0,469.0 417.0,526.4 417.0,523.5 419.0,542.3 419.0,544.5 419.0,485.8 419.0,494.1 419.0,519.9 419.0,522.9 419.0,533.0 419.0,483.8 419.0,511.9 421.0,539.3 421.0,571.0 421.0,485.1 421.0,564.3 421.0,510.8 421.0,480.3 421.0,557.1 421.0,489.7 421.0,487.1 423.0,541.2 423.0,549.5 423.0,522.3 423.0,498.6 423.0,478.9 423.0,523.5 423.0,458.5 423.0,479.7 423.0,549.9 425.0,538.3 425.0,553.9 425.0,532.4 425.0,487.4 425.0,534.1 425.0,470.9 425.0,540.1 425.0,557.4 425.0,490.9 427.0,548.7 427.0,520.4 427.0,513.7 427.0,466.7 427.0,513.8 427.0,544.5 427.0,472.9 427.0,504.4 427.0,498.4 429.0,475.0 429.0,549.0 429.0,519.4 429.0,520.3 429.0,547.5 429.0,497.1 429.0,602.2 429.0,505.0 429.0,486.6 431.0,538.3 431.0,531.3 431.0,492.0 431.0,493.5 431.0,544.0 431.0,529.2 431.0,532.8 431.0,545.2 431.0,501.9 433.0,555.4 433.0,521.2 433.0,541.5 433.0,493.9 433.0,542.5 433.0,529.5 433.0,585.2 433.0,515.3 433.0,562.5 435.0,539.7 435.0,563.6 435.0,528.7 435.0,535.7 435.0,462.3 435.0,485.3 435.0,550.6 435.0,534.2 435.0,543.6 437.0,512.5 437.0,543.9 437.0,509.7 437.0,519.0 437.0,555.0 437.0,551.5 437.0,507.5 437.0,523.1 437.0,528.8 439.0,516.2 439.0,517.5 439.0,493.9 439.0,538.1 439.0,491.2 439.0,493.3 439.0,556.4 439.0,570.0 439.0,570.5 441.0,532.2 441.0,504.7 441.0,542.8 441.0,563.3 441.0,525.2 441.0,508.4 441.0,475.7 441.0,475.2 441.0,567.3 443.0,480.6 443.0,501.0 443.0,511.2 443.0,528.9 443.0,484.8 443.0,538.0 443.0,538.2 443.0,523.4 443.0,502.1 445.0,509.0 445.0,469.1 445.0,539.3 445.0,504.6 445.0,482.7 445.0,519.0 445.0,535.6 445.0,531.7 445.0,539.0 447.0,553.1 447.0,504.3 447.0,526.6 447.0,528.5 447.0,480.2 447.0,550.9 447.0,509.5 447.0,528.0 447.0,529.5 449.0,496.2 449.0,543.8 449.0,547.7 449.0,525.6 449.0,445.7 449.0,557.5 449.0,514.6 449.0,500.5 449.0,502.2 451.0,489.2 451.0,508.1 451.0,538.2 451.0,488.6 451.0,526.7 451.0,501.9 451.0,511.2 451.0,508.1 451.0,529.5 453.0,548.6 453.0,518.9 453.0,545.7 453.0,560.6 453.0,480.0 453.0,542.7 453.0,510.1 453.0,513.5 453.0,547.7 455.0,512.1 455.0,501.1 455.0,555.2 455.0,549.9 455.0,533.0 455.0,592.9 455.0,492.1 455.0,476.1 455.0,513.2 457.0,488.4 457.0,532.1 457.0,502.7 457.0,502.4 457.0,520.8 457.0,496.0 457.0,469.1 457.0,499.0 457.0,541.2 459.0,528.2 459.0,547.3 459.0,566.1 459.0,545.9 459.0,518.3 459.0,498.4 459.0,534.8 459.0,564.2 459.0,559.7 461.0,547.4 461.0,497.1 461.0,538.0 461.0,541.4 461.0,554.8 461.0,485.2 461.0,499.9 461.0,525.3 461.0,524.9 461.0,502.3 463.0,535.8 463.0,511.0 463.0,551.8 463.0,505.6 463.0,527.2 463.0,465.0 463.0,527.3 463.0,500.8 463.0,541.5 465.0,514.7 465.0,554.9 465.0,504.4 465.0,481.0 465.0,528.4 465.0,538.0 465.0,498.6 465.0,484.5 465.0,542.7 467.0,550.4 467.0,542.1 467.0,523.8 467.0,520.6 467.0,564.9 467.0,543.9 467.0,494.4 467.0,490.1 467.0,539.3 469.0,542.1 469.0,502.2 469.0,498.4 469.0,548.2 469.0,510.5 469.0,544.9 469.0,489.4 469.0,492.4 469.0,474.4 471.0,519.4 471.0,508.1 471.0,475.1 471.0,526.0 471.0,504.5 471.0,513.3 471.0,559.1 471.0,548.3 471.0,535.7 473.0,510.0 473.0,487.2 473.0,501.0 473.0,508.8 473.0,555.6 473.0,494.0 473.0,504.0 473.0,520.1 473.0,532.8 475.0,551.1 475.0,557.3 475.0,515.4 475.0,572.0 475.0,540.5 475.0,497.6 475.0,492.6 475.0,507.5 475.0,512.2 477.0,543.5 477.0,496.7 477.0,503.3 477.0,495.8 477.0,529.1 477.0,480.5 477.0,537.1 477.0,497.3 477.0,513.2 479.0,533.8 479.0,530.0 479.0,592.1 479.0,494.2 479.0,465.2 479.0,484.0 479.0,544.5 479.0,490.1 479.0,549.6 481.0,513.2 481.0,542.2 481.0,478.6 481.0,550.0 481.0,552.9 481.0,493.6 481.0,557.1 481.0,588.6 481.0,520.3 483.0,493.5 483.0,502.5 483.0,511.1 483.0,549.2 483.0,569.6 483.0,507.5 483.0,513.0 483.0,482.1 483.0,504.5 485.0,535.0 485.0,467.0 485.0,540.9 485.0,546.3 485.0,554.3 485.0,503.2 485.0,477.7 485.0,511.4 485.0,491.0 487.0,472.9 487.0,498.1 487.0,482.0 487.0,572.0 487.0,542.4 487.0,545.9 487.0,489.1 487.0,558.4 487.0,508.7 489.0,545.2 489.0,491.4 489.0,539.2 489.0,475.0 489.0,514.6 489.0,512.5 489.0,482.6 489.0,521.5 489.0,503.3 491.0,508.1 491.0,542.2 491.0,556.5 491.0,513.8 491.0,556.2 491.0,549.1 491.0,542.4 491.0,563.8 491.0,479.3 493.0,557.4 493.0,532.4 493.0,508.3 493.0,514.8 493.0,549.5 493.0,554.2 493.0,541.7 493.0,488.0 493.0,480.4 495.0,522.4 495.0,539.7 495.0,500.3 495.0,546.2 495.0,539.0 495.0,535.6 495.0,498.5 495.0,555.5 495.0,548.6 497.0,558.4 497.0,532.8 497.0,485.6 497.0,532.9 497.0,546.0 497.0,516.2 497.0,488.7 497.0,537.8 497.0,540.1 499.0,485.9 499.0,499.5 499.0,481.0 499.0,531.2 499.0,526.8 499.0,567.6 499.0,494.3 499.0,557.5 499.0,513.4 501.0,529.4 501.0,486.1 501.0,521.6 501.0,504.5 501.0,516.6 501.0,526.8 501.0,535.4 501.0,544.8 501.0,519.7 503.0,494.8 503.0,549.7 503.0,523.6 503.0,502.4 503.0,558.5 503.0,530.0 503.0,542.0 503.0,474.8 503.0,502.0 505.0,574.2 505.0,536.0 505.0,535.5 505.0,499.7 505.0,515.9 505.0,532.3 505.0,517.9 505.0,516.6 505.0,473.2 507.0,497.3 507.0,506.6 507.0,537.5 507.0,536.2 507.0,519.8 507.0,499.0 507.0,499.0 507.0,528.4 507.0,482.9 509.0,512.9 509.0,510.2 509.0,511.8 509.0,565.1 509.0,515.1 509.0,545.0 509.0,563.5 509.0,535.7 509.0,519.9 511.0,485.2 511.0,564.1 511.0,488.8 511.0,465.9 511.0,550.1 511.0,479.7 511.0,486.3 511.0,498.7 511.0,486.4 511.0,462.2 513.0,525.8 513.0,534.2 513.0,541.5 513.0,517.7 513.0,506.7 513.0,503.0 513.0,553.2 513.0,543.6 513.0,505.5 515.0,528.8 515.0,486.0 515.0,534.3 515.0,488.7 515.0,513.7 515.0,511.1 515.0,449.9 515.0,538.7 515.0,517.2 517.0,496.0 517.0,497.6 517.0,514.7 517.0,512.7 517.0,532.3 517.0,523.3 517.0,536.7 517.0,526.3 517.0,480.4 519.0,480.2 519.0,532.9 519.0,530.8 519.0,517.8 519.0,482.7 519.0,498.0 519.0,495.3 519.0,538.5 519.0,495.5 521.0,481.6 521.0,495.8 521.0,528.6 521.0,561.8 521.0,503.8 521.0,550.5 521.0,505.2 521.0,505.7 521.0,494.6 523.0,542.1 523.0,504.4 523.0,546.2 523.0,506.7 523.0,566.2 523.0,526.5 523.0,521.3 523.0,486.5 523.0,555.4 525.0,529.4 525.0,522.5 525.0,520.6 525.0,505.0 525.0,504.4 525.0,531.0 525.0,497.0 525.0,515.3 525.0,579.4 527.0,515.9 527.0,511.2 527.0,546.1 527.0,492.6 527.0,558.8 527.0,520.7 527.0,487.9 527.0,515.5 527.0,500.1 529.0,540.8 529.0,506.3 529.0,541.6 529.0,469.4 529.0,507.0 529.0,537.5 529.0,535.8 529.0,522.8 529.0,542.4 531.0,543.1 531.0,520.3 531.0,527.5 531.0,546.2 531.0,526.1 531.0,454.3 531.0,477.7 531.0,501.1 531.0,540.6 533.0,522.8 533.0,539.6 533.0,548.9 533.0,536.8 533.0,493.5 533.0,544.6 533.0,483.1 533.0,484.7 533.0,506.4 535.0,460.6 535.0,564.9 535.0,581.3 535.0,513.6 535.0,507.4 535.0,464.2 535.0,535.1 535.0,498.4 535.0,485.3 537.0,480.7 537.0,514.0 537.0,511.1 537.0,513.5 537.0,500.0 537.0,472.0 537.0,557.7 537.0,541.8 537.0,500.5 539.0,611.0 539.0,489.6 539.0,538.5 539.0,533.4 539.0,527.0 539.0,551.6 539.0,501.5 539.0,557.6 539.0,523.5 541.0,496.3 541.0,533.7 541.0,528.3 541.0,497.7 541.0,566.6 541.0,474.1 541.0,526.5 541.0,530.9 541.0,497.5 543.0,519.5 543.0,554.9 543.0,487.2 543.0,488.1 543.0,507.8 543.0,534.1 543.0,550.3 543.0,536.2 543.0,487.3 545.0,550.2 545.0,539.8 545.0,548.0 545.0,474.1 545.0,473.0 545.0,498.3 545.0,504.1 545.0,516.7 545.0,487.1 547.0,487.7 547.0,530.7 547.0,461.9 547.0,484.6 547.0,517.3 547.0,539.4 547.0,526.0 547.0,561.0 547.0,526.9 549.0,538.3 549.0,541.1 549.0,517.8 549.0,481.2 549.0,507.9 549.0,510.0 549.0,492.1 549.0,536.7 549.0,500.8 551.0,476.4 551.0,515.2 551.0,488.2 551.0,532.5 551.0,449.5 551.0,471.1 551.0,515.6 551.0,524.0 551.0,517.9 553.0,558.1 553.0,508.1 553.0,500.8 553.0,540.6 553.0,506.0 553.0,528.5 553.0,551.8 553.0,510.7 553.0,512.3 555.0,498.6 555.0,528.7 555.0,535.3 555.0,546.4 555.0,536.8 555.0,570.5 555.0,522.0 555.0,521.3 555.0,508.3 557.0,553.2 557.0,519.8 557.0,508.6 557.0,482.3 557.0,513.3 557.0,543.0 557.0,452.0 557.0,487.3 557.0,492.2 559.0,494.8 559.0,519.2 559.0,506.5 559.0,522.7 559.0,527.6 559.0,555.9 559.0,510.4 559.0,529.5 559.0,511.3 561.0,524.1 561.0,508.0 561.0,487.0 561.0,531.2 561.0,549.5 561.0,492.4 561.0,517.4 561.0,517.4 561.0,463.6 561.0,570.5 563.0,559.0 563.0,552.0 563.0,547.3 563.0,494.6 563.0,456.0 563.0,516.5 563.0,521.7 563.0,510.3 563.0,505.5 565.0,547.0 565.0,541.6 565.0,517.8 565.0,503.8 565.0,578.4 565.0,542.9 565.0,522.4 565.0,483.3 565.0,477.3 567.0,448.6 567.0,510.7 567.0,528.2 567.0,512.9 567.0,518.3 567.0,526.8 567.0,543.1 567.0,471.8 567.0,484.7 569.0,544.5 569.0,527.9 569.0,534.2 569.0,490.8 569.0,560.2 569.0,523.0 569.0,511.5 569.0,494.0 569.0,525.5 571.0,524.8 571.0,515.1 571.0,563.3 571.0,552.7 571.0,518.8 571.0,502.3 571.0,506.2 571.0,530.5 571.0,448.8 573.0,529.7 573.0,512.6 573.0,576.1 573.0,533.7 573.0,514.5 573.0,522.2 573.0,501.6 573.0,500.0 573.0,518.1 575.0,467.5 575.0,520.8 575.0,475.4 575.0,499.5 575.0,499.2 575.0,541.1 575.0,563.0 575.0,559.6 575.0,505.9 577.0,513.1 577.0,522.2 577.0,526.1 577.0,552.2 577.0,540.7 577.0,520.7 577.0,572.0 577.0,546.7 577.0,570.0 579.0,519.0 579.0,538.4 579.0,531.7 579.0,527.3 579.0,491.6 579.0,529.6 579.0,481.3 579.0,533.4 579.0,567.6 581.0,553.3 581.0,531.1 581.0,512.2 581.0,543.7 581.0,491.9 581.0,487.7 581.0,485.3 581.0,533.6 581.0,484.8 583.0,539.0 583.0,550.1 583.0,541.5 583.0,517.7 583.0,534.4 583.0,487.7 583.0,528.0 583.0,566.3 583.0,561.0 585.0,478.2 585.0,518.6 585.0,510.5 585.0,547.2 585.0,529.9 585.0,517.6 585.0,502.0 585.0,526.3 585.0,516.0 587.0,523.3 587.0,515.8 587.0,486.6 587.0,533.6 587.0,534.7 587.0,528.1 587.0,529.3 587.0,554.7 587.0,551.4 589.0,565.5 589.0,541.3 589.0,545.3 589.0,523.1 589.0,491.5 589.0,488.2 589.0,536.7 589.0,525.4 589.0,537.4 591.0,460.6 591.0,513.4 591.0,524.3 591.0,508.4 591.0,511.3 591.0,471.7 591.0,515.5 591.0,554.5 591.0,487.4 593.0,535.7 593.0,498.0 593.0,525.0 593.0,558.4 593.0,520.8 593.0,530.8 593.0,538.4 593.0,517.8 593.0,554.4 595.0,466.5 595.0,509.2 595.0,468.8 595.0,478.1 595.0,518.6 595.0,485.8 595.0,506.8 595.0,556.8 595.0,535.9 597.0,613.2 597.0,515.8 597.0,521.9 597.0,455.6 597.0,518.5 597.0,505.6 597.0,534.3 597.0,520.9 597.0,500.5 599.0,467.7 599.0,542.0 599.0,498.8 599.0,473.0 599.0,531.6 599.0,466.2 599.0,500.6 599.0,464.3 599.0,509.3 601.0,473.1 601.0,593.5 601.0,550.4 601.0,532.9 601.0,529.3 601.0,538.0 601.0,543.1 601.0,527.1 601.0,487.5 603.0,523.6 603.0,475.7 603.0,506.8 603.0,530.9 603.0,487.5 603.0,531.9 603.0,503.4 603.0,581.2 603.0,506.3 605.0,533.6 605.0,537.0 605.0,522.9 605.0,528.7 605.0,509.8 605.0,523.0 605.0,524.5 605.0,543.1 605.0,554.7 607.0,518.2 607.0,558.6 607.0,519.1 607.0,492.6 607.0,506.4 607.0,500.3 607.0,512.7 607.0,522.7 607.0,527.7 609.0,553.5 609.0,542.4 609.0,507.2 609.0,537.2 609.0,517.9 609.0,543.2 609.0,555.3 609.0,516.6 609.0,543.2 611.0,558.8 611.0,532.4 611.0,489.7 611.0,516.8 611.0,494.8 611.0,549.2 611.0,527.5 611.0,531.0 611.0,568.6 611.0,542.7 613.0,525.6 613.0,471.9 613.0,504.6 613.0,500.0 613.0,514.1 613.0,485.7 613.0,539.2 613.0,555.4 613.0,509.1 615.0,480.2 615.0,524.2 615.0,512.6 615.0,548.8 615.0,518.1 615.0,498.5 615.0,482.0 615.0,520.7 615.0,459.0 617.0,489.1 617.0,541.5 617.0,514.9 617.0,518.5 617.0,512.4 617.0,481.9 617.0,508.0 617.0,534.5 617.0,536.1 619.0,490.7 619.0,523.1 619.0,546.8 619.0,528.5 619.0,561.8 619.0,520.7 619.0,475.8 619.0,519.7 619.0,525.7 621.0,540.2 621.0,535.7 621.0,561.9 621.0,538.5 621.0,527.0 621.0,504.6 621.0,512.7 621.0,556.7 621.0,571.4 623.0,531.7 623.0,527.2 623.0,514.0 623.0,528.5 623.0,522.8 623.0,505.5 623.0,546.6 623.0,489.6 623.0,525.8 625.0,526.3 625.0,540.2 625.0,515.2 625.0,493.3 625.0,517.1 625.0,491.3 625.0,509.3 625.0,498.1 625.0,583.7 627.0,463.3 627.0,486.8 627.0,554.8 627.0,513.5 627.0,482.5 627.0,539.1 627.0,576.2 627.0,521.8 627.0,545.7 629.0,483.4 629.0,503.0 629.0,527.3 629.0,526.6 629.0,500.5 629.0,502.9 629.0,502.0 629.0,497.5 629.0,503.8 631.0,503.3 631.0,534.3 631.0,481.4 631.0,535.6 631.0,567.6 631.0,526.0 631.0,506.0 631.0,493.7 631.0,504.7 633.0,486.6 633.0,528.6 633.0,516.8 633.0,542.7 633.0,529.3 633.0,543.9 633.0,562.0 633.0,548.6 633.0,592.0 635.0,553.6 635.0,507.6 635.0,540.2 635.0,544.3 635.0,526.5 635.0,544.1 635.0,539.9 635.0,559.3 635.0,519.0 637.0,495.8 637.0,509.3 637.0,470.8 637.0,453.2 637.0,492.2 637.0,505.7 637.0,500.9 637.0,554.6 637.0,490.3 639.0,487.1 639.0,574.0 639.0,479.1 639.0,543.7 639.0,517.5 639.0,454.6 639.0,549.4 639.0,510.8 639.0,533.3 641.0,528.9 641.0,532.2 641.0,547.5 641.0,578.9 641.0,530.4 641.0,515.3 641.0,547.6 641.0,536.0 641.0,455.5 643.0,535.5 643.0,509.2 643.0,513.7 643.0,481.4 643.0,572.3 643.0,536.6 643.0,507.4 643.0,508.2 643.0,515.0 645.0,517.5 645.0,544.3 645.0,533.4 645.0,505.6 645.0,513.3 645.0,539.4 645.0,493.2 645.0,508.4 645.0,548.7 647.0,521.7 647.0,561.0 647.0,489.2 647.0,507.6 647.0,498.0 647.0,496.6 647.0,544.1 647.0,552.0 647.0,525.9 649.0,518.5 649.0,570.3 649.0,566.2 649.0,467.5 649.0,520.3 649.0,468.4 649.0,480.2 649.0,502.9 649.0,490.0 651.0,540.5 651.0,509.6 651.0,515.1 651.0,520.1 651.0,569.4 651.0,532.6 651.0,548.9 651.0,538.7 651.0,556.6 653.0,525.0 653.0,521.4 653.0,558.3 653.0,528.7 653.0,478.9 653.0,487.3 653.0,509.2 653.0,537.9 653.0,499.9 655.0,563.5 655.0,535.8 655.0,514.3 655.0,488.3 655.0,543.3 655.0,541.0 655.0,489.8 655.0,559.0 655.0,556.5 657.0,562.8 657.0,522.0 657.0,549.0 657.0,467.6 657.0,535.2 657.0,509.2 657.0,518.8 657.0,535.8 657.0,501.0 659.0,515.6 659.0,493.3 659.0,498.4 659.0,489.7 659.0,532.4 659.0,556.3 659.0,493.6 659.0,477.7 659.0,514.0 661.0,533.6 661.0,529.4 661.0,488.1 661.0,521.1 661.0,496.3 661.0,507.7 661.0,516.1 661.0,507.3 661.0,534.7 661.0,505.1 663.0,561.9 663.0,524.7 663.0,488.8 663.0,548.5 663.0,545.3 663.0,529.2 663.0,520.6 663.0,531.4 663.0,545.3 665.0,516.2 665.0,544.6 665.0,503.5 665.0,535.8 665.0,492.4 665.0,531.6 665.0,537.8 665.0,504.4 665.0,532.1 667.0,471.1 667.0,517.2 667.0,512.2 667.0,539.3 667.0,519.2 667.0,549.5 667.0,571.3 667.0,524.4 667.0,546.0 669.0,565.8 669.0,548.0 669.0,551.7 669.0,514.4 669.0,533.5 669.0,493.0 669.0,546.4 669.0,534.9 669.0,535.0 671.0,472.4 671.0,550.7 671.0,563.3 671.0,560.1 671.0,536.4 671.0,558.8 671.0,524.7 671.0,503.7 671.0,521.9 673.0,501.9 673.0,569.2 673.0,459.3 673.0,530.8 673.0,498.2 673.0,506.1 673.0,543.2 673.0,520.6 673.0,552.7 675.0,517.7 675.0,518.1 675.0,525.8 675.0,556.0 675.0,501.9 675.0,512.0 675.0,505.2 675.0,507.6 675.0,487.6 677.0,511.7 677.0,534.6 677.0,559.3 677.0,535.2 677.0,503.8 677.0,560.0 677.0,475.3 677.0,535.7 677.0,487.7 679.0,516.5 679.0,484.4 679.0,480.0 679.0,504.5 679.0,567.7 679.0,531.8 679.0,546.2 679.0,510.5 679.0,521.9 681.0,498.9 681.0,503.7 681.0,510.8 681.0,547.6 681.0,531.2 681.0,499.8 681.0,515.3 681.0,496.4 681.0,536.9 683.0,529.5 683.0,529.3 683.0,541.6 683.0,537.9 683.0,560.5 683.0,500.0 683.0,542.7 683.0,516.0 683.0,547.7 685.0,506.7 685.0,477.9 685.0,509.0 685.0,503.4 685.0,491.8 685.0,510.3 685.0,553.3 685.0,511.5 685.0,541.5 687.0,558.8 687.0,550.3 687.0,536.0 687.0,547.7 687.0,509.0 687.0,486.5 687.0,481.4 687.0,547.9 687.0,558.5 689.0,512.6 689.0,523.2 689.0,462.5 689.0,542.6 689.0,518.3 689.0,472.9 689.0,536.5 689.0,539.3 689.0,545.4 691.0,518.2 691.0,530.0 691.0,497.1 691.0,559.6 691.0,511.6 691.0,556.2 691.0,538.0 691.0,515.0 691.0,557.7 693.0,503.2 693.0,533.9 693.0,527.6 693.0,518.5 693.0,529.0 693.0,543.0 693.0,511.2 693.0,507.9 693.0,516.5 695.0,506.3 695.0,494.9 695.0,531.2 695.0,476.3 695.0,519.0 695.0,507.3 695.0,526.6 695.0,535.0 695.0,529.0 697.0,520.7 697.0,556.6 697.0,505.3 697.0,488.0 697.0,513.1 697.0,541.0 697.0,568.2 697.0,575.0 697.0,532.7 699.0,553.3 699.0,564.6 699.0,507.5 699.0,561.8 699.0,535.5 699.0,518.4 699.0,538.5 699.0,541.3 699.0,469.9 701.0,525.3 701.0,529.3 701.0,501.7 701.0,528.0 701.0,509.8 701.0,498.8 701.0,517.6 701.0,469.7 701.0,534.3 703.0,537.2 703.0,531.2 703.0,537.6 703.0,508.1 703.0,504.4 703.0,474.7 703.0,475.2 703.0,499.4 703.0,546.6 705.0,519.9 705.0,557.0 705.0,542.8 705.0,492.4 705.0,503.3 705.0,490.5 705.0,481.6 705.0,528.6 705.0,540.0 707.0,495.2 707.0,550.0 707.0,545.6 707.0,504.1 707.0,531.6 707.0,494.0 707.0,521.9 707.0,536.7 707.0,472.4 709.0,560.5 709.0,476.1 709.0,524.6 709.0,506.7 709.0,546.2 709.0,496.6 709.0,506.8 709.0,599.3 709.0,566.7 711.0,546.4 711.0,501.3 711.0,532.7 711.0,477.6 711.0,499.0 711.0,534.9 711.0,544.3 711.0,510.9 711.0,542.8 711.0,545.5 713.0,493.8 713.0,529.6 713.0,520.0 713.0,560.2 713.0,487.2 713.0,535.1 713.0,516.1 713.0,574.6 713.0,461.8 715.0,566.7 715.0,515.0 715.0,537.3 715.0,480.6 715.0,485.1 715.0,512.9 715.0,523.8 715.0,457.7 715.0,501.4 717.0,506.8 717.0,515.2 717.0,540.5 717.0,530.5 717.0,512.2 717.0,486.6 717.0,477.0 717.0,524.0 717.0,560.4 719.0,521.1 719.0,547.0 719.0,488.9 719.0,547.0 719.0,513.9 719.0,524.6 719.0,540.4 719.0,543.0 719.0,529.4 721.0,533.0 721.0,531.3 721.0,500.2 721.0,511.2 721.0,521.6 721.0,564.9 721.0,488.0 721.0,524.5 721.0,549.1 723.0,541.1 723.0,494.6 723.0,486.2 723.0,504.8 723.0,530.5 723.0,544.3 723.0,514.0 723.0,525.1 723.0,508.7 725.0,497.0 725.0,554.5 725.0,567.5 725.0,515.9 725.0,497.4 725.0,540.1 725.0,481.0 725.0,484.3 725.0,526.0 727.0,569.2 727.0,509.0 727.0,523.2 727.0,562.6 727.0,488.2 727.0,478.8 727.0,577.4 727.0,549.4 727.0,508.8 729.0,536.6 729.0,546.8 729.0,512.5 729.0,585.9 729.0,476.8 729.0,564.4 729.0,533.2 729.0,527.3 729.0,529.6 731.0,502.2 731.0,514.7 731.0,506.0 731.0,481.7 731.0,538.7 731.0,484.4 731.0,493.5 731.0,572.3 731.0,505.2 733.0,562.5 733.0,557.2 733.0,527.9 733.0,563.0 733.0,503.7 733.0,495.3 733.0,506.3 733.0,509.3 733.0,535.6 735.0,572.5 735.0,496.2 735.0,511.4 735.0,519.3 735.0,528.9" fill="none" stroke="#000" stroke-width="2" stroke-linejoin="round" shape-rendering="crispEdges" />
<polyline points="337.0,510.0 337.0,558.0 337.0,508.0 337.0,493.5 337.0,565.7 339.0,559.0 339.0,519.8 339.0,494.9 339.0,526.0 339.0,541.8 339.0,563.2 339.0,565.4 339.0,511.8 339.0,524.1 341.0,514.7 341.0,523.6 341.0,507.3 341.0,509.9 341.0,515.9 341.0,525.4 341.0,472.6 341.0,508.8 341.0,542.9 343.0,535.1 343.0,541.8 343.0,543.1 343.0,537.6 343.0,551.0 343.0,522.8 343.0,487.4 343.0,556.1 343.0,532.6 345.0,423.8 345.0,545.9 345.0,544.3 345.0,485.2 345.0,534.6 345.0,519.8 345.0,532.7 345.0,504.0 345.0,566.5 347.0,494.1 347.0,491.3 347.0,507.5 347.0,519.0 347.0,503.5 347.0,561.1 347.0,491.9 347.0,581.1 347.0,481.5 349.0,534.5 349.0,567.5 349.0,581.5 349.0,513.9 349.0,480.4 349.0,500.2 349.0,505.5 349.0,541.0 349.0,494.0 351.0,548.3 351.0,494.8 351.0,544.9 351.0,587.3 351.0,544.0 351.0,554.9 351.0,529.0 351.0,512.9 351.0,538.6 353.0,540.9 353.0,449.3 353.0,499.6 353.0,577.8 353.0,540.6 353.0,529.9 353.0,510.8 353.0,511.1 353.0,518.1 355.0,440.6 355.0,568.7 355.0,534.7 355.0,499.2 355.0,558.7 355.0,518.1 355.0,560.7 355.0,503.6 355.0,546.0 357.0,477.1 357.0,547.0 357.0,480.8 357.0,523.2 357.0,534.8 357.0,477.9 357.0,527.0 357.0,508.2 357.0,526.5 359.0,550.0 359.0,523.0 359.0,557.1 359.0,498.2 359.0,494.7 359.0,549.3 359.0,492.4 359.0,533.5 359.0,497.3 361.0,520.0 361.0,534.5 361.0,500.0 361.0,501.3 361.0,481.8 361.0,545.2 361.0,495.6 361.0,493.8 361.0,518.4 361.0,509.5 363.0,496.9 363.0,530.9 363.0,523.7 363.0,499.9 363.0,505.0 363.0,555.1 363.0,523.4 363.0,503.9 363.0,515.9 365.0,536.0 365.0,570.5 365.0,486.7 365.0,533.0 365.0,503.0 365.0,529.5 365.0,503.1 365.0,498.4 365.0,497.9 367.0,504.7 367.0,528.9 367.0,570.7 367.0,491.5 367.0,496.4 367.0,506.0 367.0,561.8 367.0,560.6 367.0,559.3 369.0,536.8 369.0,520.7 369.0,487.5 369.0,523.2 369.0,530.5 369.0,506.8 369.0,501.7 369.0,487.5 369.0,533.3 371.0,516.2 371.0,546.6 371.0,501.6 371.0,502.7 371.0,553.3 371.0,523.5 371.0,478.3 371.0,498.8 371.0,491.5 373.0,513.7 373.0,469.8 373.0,540.0 373.0,539.8 373.0,516.5 373.0,516.8 373.0,516.8 373.0,505.0 373.0,550.8 375.0,491.8 375.0,582.2 375.0,490.1 375.0,529.4 375.0,492.9 375.0,498.0 375.0,514.5 375.0,479.4 375.0,536.7 377.0,526.8 377.0,537.2 377.0,542.4 377.0,497.1 377.0,514.3 377.0,513.1 377.0,552.1 377.0,516.5 377.0,496.0 379.0,531.7 379.0,507.9 379.0,545.5 379.0,558.4 379.0,548.8 379.0,498.2 379.0,546.5 379.0,495.6 379.0,509.5 381.0,548.2 381.0,528.4 381.0,570.3 381.0,545.0 381.0,527.5 381.0,552.7 381.0,524.4 381.0,557.0 381.0,462.8 383.0,517.4 383.0,494.2 383.0,515.6 383.0,503.4 383.0,572.0 383.0,537.8 383.0,516.7 383.0,545.7 383.0,456.0 385.0,557.8 385.0,465.6 385.0,524.9 385.0,572.0 385.0,487.9 385.0,494.2 385.0,461.3 385.0,470.2 385.0,528.5 387.0,525.5 387.0,505.6 387.0,531.2 387.0,505.8 387.0,494.2 387.0,507.4 387.0,486.7 387.0,459.4 387.0,511.6 389.0,532.8 389.0,553.3 389.0,539.1 389.0,510.6 389.0,495.9 389.0,516.7 389.0,530.8 389.0,518.1 389.0,504.9 391.0,532.4 391.0,460.1 391.0,539.7 391.0,566.9 391.0,485.5 391.0,538.8 391.0,508.2 391.0,498.5 391.0,540.7 393.0,539.5 393.0,514.9 393.0,568.2 393.0,537.1 393.0,472.2 393.0,563.1 393.0,525.6 393.0,564.8 393.0,493.0 395.0,495.0 395.0,507.2 395.0,532.0 395.0,542.7 395.0,499.3 395.0,608.0 395.0,494.2 395.0,508.3 395.0,575.0 397.0,571.7 397.0,562.8 397.0,533.3 397.0,525.9 397.0,580.4 397.0,485.6 397.0,503.2 397.0,522.7 397.0,527.5 399.0,550.9 399.0,524.7 399.0,530.6 399.0,535.1 399.0,511.0 399.0,528.5 399.0,487.9 399.0,494.0 399.0,520.8 401.0,509.3 401.0,538.9 401.0,522.0 401.0,529.3 401.0,547.8 401.0,473.4 401.0,489.1 401.0,510.1 401.0,568.9 403.0,507.1 403.0,568.8 403.0,549.3 403.0,524.5 403.0,533.5 403.0,538.2 403.0,507.4 403.0,561.0 403.0,534.7 405.0,520.9 405.0,502.6 405.0,537.9 405.0,538.0 405.0,545.5 405.0,580.8 405.0,540.0 405.0,502.6 405.0,501.6 407.0,486.3 407.0,493.4 407.0,485.3 407.0,548.6 407.0,462.9 407.0,560.4 407.0,502.4 407.0,483.5 407.0,497.0 409.0,518.9 409.0,522.9 409.0,505.5 409.0,550.4 409.0,484.8 409.0,494.1 409.0,541.8 409.0,484.7 409.0,498.0 411.0,537.0 411.0,539.0 411.0,538.6 411.0,540.5 411.0,520.6 411.0,527.9 411.0,526.2 411.0,519.2 411.0,547.9 411.0,522.5 413.0,546.2 413.0,522.2 413.0,547.6 413.0,460.5 413.0,574.8 413.0,496.3 413.0,511.0 413.0,506.8 413.0,572.1 415.0,482.1 415.0,511.2 415.0,513.2 415.0,583.2 415.0,559.9 415.0,496.3 415.0,512.8 415.0,526.5 415.0,498.6 417.0,560.9 417.0,531.8 417.0,475.8 417.0,524.4 417.0,519.6 417.0,506.7 417.0,529.8 417.0,542.2 417.0,513.1 419.0,502.7 419.0,532.7 419.0,474.5 419.0,549.6 419.0,484.3 419.0,526.4 419.0,515.2 419.0,537.5 419.0,503.9 421.0,533.8 421.0,476.5 421.0,559.4 421.0,538.1 421.0,548.3 421.0,505.2 421.0,529.1 421.0,508.2 421.0,520.4 423.0,490.3 423.0,518.4 423.0,453.2 423.0,552.1 423.0,486.4 423.0,546.3 423.0,559.1 423.0,541.7 423.0,488.8 425.0,531.5 425.0,542.3 425.0,544.1 425.0,534.4 425.0,524.4 425.0,511.3 425.0,512.7 425.0,527.2 425.0,518.6 427.0,511.5 427.0,509.9 427.0,523.4 427.0,503.7 427.0,547.9 427.0,523.7 427.0,554.3 427.0,500.2 427.0,495.6 429.0,504.8 429.0,517.3 429.0,521.5 429.0,549.4 429.0,466.3 429.0,529.4 429.0,476.7 429.0,494.4 429.0,515.0 431.0,523.2 431.0,557.7 431.0,513.8 431.0,555.3 431.0,540.0 431.0,515.0 431.0,547.9 431.0,507.7 431.0,538.4 433.0,572.1 433.0,542.4 433.0,519.9 433.0,501.9 433.0,512.6 433.0,502.9 433.0,569.6 433.0,546.2 433.0,527.5 435.0,536.2 435.0,574.4 435.0,515.1 435.0,512.2 435.0,564.5 435.0,544.0 435.0,493.4 435.0,541.3 435.0,523.1 437.0,515.0 437.0,511.2 437.0,508.2 437.0,528.3 437.0,547.1 437.0,496.0 437.0,536.8 437.0,481.7 437.0,514.8 439.0,550.6 439.0,523.6 439.0,512.7 439.0,563.6 439.0,540.3 439.0,533.4 439.0,540.9 439.0,487.4 439.0,514.7 441.0,571.5 441.0,545.7 441.0,568.2 441.0,497.8 441.0,511.8 441.0,547.9 441.0,549.6 441.0,470.4 441.0,526.5 443.0,515.6 443.0,504.8 443.0,535.2 443.0,496.5 443.0,532.8 443.0,538.2 443.0,502.1 443.0,518.9 443.0,456.8 445.0,532.2 445.0,515.6 445.0,471.0 445.0,470.6 445.0,511.5 445.0,572.7 445.0,521.5 445.0,484.8 445.0,506.7 447.0,461.8 447.0,497.3 447.0,492.4 447.0,518.3 447.0,549.3 447.0,506.3 447.0,569.1 447.0,513.2 447.0,524.7 449.0,510.2 449.0,487.3 449.0,496.7 449.0,502.7 449.0,558.1 449.0,510.9 449.0,477.5 449.0,526.4 449.0,527.0 451.0,486.7 451.0,530.1 451.0,523.6 451.0,481.5 451.0,544.1 451.0,479.4 451.0,493.0 451.0,536.8 451.0,475.3 453.0,451.2 453.0,498.7 453.0,522.2 453.0,517.1 453.0,503.8 453.0,480.9 453.0,548.9 453.0,544.6 453.0,523.7 455.0,532.8 455.0,470.0 455.0,538.4 455.0,556.0 455.0,542.2 455.0,544.7 455.0,526.4 455.0,524.8 455.0,461.6 457.0,503.0 457.0,526.2 457.0,492.1 457.0,478.3 457.0,506.7 457.0,493.5 457.0,553.2 457.0,507.4 457.0,514.5 459.0,556.6 459.0,489.6 459.0,528.7 459.0,562.5 459.0,495.0 459.0,507.3 459.0,548.2 459.0,546.0 459.0,503.1 461.0,504.2 461.0,503.4 461.0,497.1 461.0,541.1 461.0,510.7 461.0,499.0 461.0,498.8 461.0,545.1 461.0,449.3 461.0,507.6 463.0,528.4 463.0,500.4 463.0,492.8 463.0,536.0 463.0,528.3 463.0,572.1 463.0,501.7 463.0,533.6 463.0,491.7 465.0,554.5 465.0,549.1 465.0,539.5 465.0,550.2 465.0,542.0 465.0,535.1 465.0,521.6 465.0,547.5 465.0,538.0 467.0,511.1 467.0,519.9 467.0,527.9 467.0,562.4 467.0,524.2 467.0,517.5 467.0,487.1 467.0,544.9 467.0,530.3 469.0,528.3 469.0,528.3 469.0,538.6 469.0,478.3 469.0,496.3 469.0,513.6 469.0,544.8 469.0,535.8 469.0,547.5 471.0,533.0 471.0,540.1 471.0,501.9 471.0,506.2 471.0,515.0 471.0,513.7 471.0,541.5 471.0,523.1 471.0,523.7 473.0,520.4 473.0,560.3 473.0,508.1 473.0,540.7 473.0,506.1 473.0,532.7 473.0,533.0 473.0,515.3 473.0,493.6 475.0,532.5 475.0,528.7 475.0,514.1 475.0,517.1 475.0,512.3 475.0,581.4 475.0,508.5 475.0,480.4 475.0,478.3 477.0,541.9 477.0,474.6 477.0,538.3 477.0,506.1 477.0,528.0 477.0,521.5 477.0,546.0 477.0,506.5 477.0,517.2 479.0,495.7 479.0,465.0 479.0,554.5 479.0,482.5 479.0,535.9 479.0,547.2 479.0,531.9 479.0,494.3 479.0,564.3 481.0,487.8 481.0,548.4 481.0,554.6 481.0,485.4 481.0,541.5 481.0,497.3 481.0,537.6 481.0,470.1 481.0,570.4 483.0,544.0 483.0,526.7 483.0,513.2 483.0,564.1 483.0,539.5 483.0,537.3 483.0,512.8 483.0,515.5 483.0,523.0 485.0,501.1 485.0,532.9 485.0,572.7 485.0,542.0 485.0,549.8 485.0,541.1 485.0,586.6 485.0,512.3 485.0,477.3 487.0,450.5 487.0,512.3 487.0,536.9 487.0,557.0 487.0,487.0 487.0,511.1 487.0,568.0 487.0,483.5 487.0,500.1 489.0,517.4 489.0,496.8 489.0,526.9 489.0,474.1 489.0,504.9 489.0,506.9 489.0,552.7 489.0,540.2 489.0,541.8 491.0,493.6 491.0,558.9 491.0,517.9 491.0,559.5 491.0,479.5 491.0,490.2 491.0,502.7 491.0,561.5 491.0,491.9 493.0,520.8 493.0,507.5 493.0,548.2 493.0,517.2 493.0,567.0 493.0,494.9 493.0,579.1 493.0,523.6 493.0,488.0 495.0,544.1 495.0,520.0 495.0,496.6 495.0,559.7 495.0,507.6 495.0,488.9 495.0,532.7 495.0,545.1 495.0,543.5 497.0,481.4 497.0,565.8 497.0,530.2 497.0,540.0 497.0,490.4 497.0,497.4 497.0,504.6 497.0,522.7 497.0,579.9 499.0,529.3 499.0,527.0 499.0,560.4 499.0,565.5 499.0,548.5 499.0,508.9 499.0,477.0 499.0,461.7 499.0,510.3 501.0,500.7 501.0,546.2 501.0,574.7 501.0,508.0 501.0,514.8 501.0,524.0 501.0,470.8 501.0,525.1 501.0,550.9 503.0,595.8 503.0,485.5 503.0,550.7 503.0,569.9 503.0,493.6 503.0,520.9 503.0,565.4 503.0,507.7 503.0,517.5 505.0,537.2 505.0,563.6 505.0,541.7 505.0,513.7 505.0,548.1 505.0,499.7 505.0,489.3 505.0,517.7 505.0,522.4 507.0,532.6 507.0,534.6 507.0,510.9 507.0,474.1 507.0,476.5 507.0,514.9 507.0,549.2 507.0,498.7 507.0,508.5 509.0,544.9 509.0,489.0 509.0,547.0 509.0,510.6 509.0,509.4 509.0,544.5 509.0,506.4 509.0,553.8 509.0,493.9 511.0,500.1 511.0,510.1 511.0,547.0 511.0,496.7 511.0,534.5 511.0,538.1 511.0,556.7 511.0,507.3 511.0,537.5 511.0,550.9 513.0,577.8 513.0,525.7 513.0,539.0 513.0,531.1 513.0,438.3 513.0,528.1 513.0,519.1 513.0,489.3 513.0,496.6 515.0,515.9 515.0,525.8 515.0,519.8 515.0,506.2 515.0,523.9 515.0,548.5 515.0,517.4 515.0,558.1 515.0,565.7 517.0,553.1 517.0,508.5 517.0,516.4 517.0,452.2 517.0,513.5 517.0,508.6 517.0,494.5 517.0,457.2 517.0,543.9 519.0,550.3 519.0,511.6 519.0,544.5 519.0,507.5 519.0,464.2 519.0,515.6 519.0,504.1 519.0,509.3 519.0,514.0 521.0,486.5 521.0,473.3 521.0,548.7 521.0,522.3 521.0,531.8 521.0,485.8 521.0,448.5 521.0,476.3 521.0,554.4 523.0,534.8 523.0,462.9 523.0,496.3 523.0,483.2 523.0,519.7 523.0,568.8 523.0,500.8 523.0,532.9 523.0,514.3 525.0,505.2 525.0,490.4 525.0,500.1 525.0,538.3 525.0,535.0 525.0,542.8 525.0,497.8 525.0,500.5 525.0,526.2 527.0,515.4 527.0,494.7 527.0,505.2 527.0,566.0 527.0,515.6 527.0,538.6 527.0,549.0 527.0,517.2 527.0,571.1 529.0,532.1 529.0,546.6 529.0,509.7 529.0,544.4 529.0,522.4 529.0,542.1 529.0,504.4 529.0,504.9 529.0,520.2 531.0,545.1 531.0,485.4 531.0,526.2 531.0,521.3 531.0,554.5 531.0,461.8 531.0,481.1 531.0,546.4 531.0,534.7 533.0,539.8 533.0,525.5 533.0,534.4 533.0,537.9 533.0,549.9 533.0,487.1 533.0,499.3 533.0,555.1 533.0,554.8 535.0,495.5 535.0,570.4 535.0,540.5 535.0,549.9 535.0,516.3 535.0,498.1 535.0,524.9 535.0,521.6 535.0,490.9 537.0,526.8 537.0,524.8 537.0,476.9 537.0,498.3 537.0,518.1 537.0,498.8 537.0,542.4 537.0,555.8 537.0,491.8 539.0,529.6 539.0,534.9 539.0,547.4 539.0,479.1 539.0,492.7 539.0,533.5 539.0,554.2 539.0,531.7 539.0,496.4 541.0,536.3 541.0,499.7 541.0,480.9 541.0,526.5 541.0,548.3 541.0,550.6 541.0,529.0 541.0,499.7 541.0,488.0 543.0,541.4 543.0,493.0 543.0,530.3 543.0,533.1 543.0,500.9 543.0,515.0 543.0,519.0 543.0,542.6 543.0,501.7 545.0,517.2 545.0,528.6 545.0,487.3 545.0,506.5 545.0,505.8 545.0,527.1 545.0,489.2 545.0,519.5 545.0,531.3 547.0,560.0 547.0,523.5 547.0,563.7 547.0,535.5 547.0,542.1 547.0,500.6 547.0,504.0 547.0,536.3 547.0,503.1 549.0,565.3 549.0,527.7 549.0,590.3 549.0,504.6 549.0,540.5 549.0,537.7 549.0,527.9 549.0,534.4 549.0,466.0 551.0,524.9 551.0,551.8 551.0,519.7 551.0,485.3 551.0,509.4 551.0,523.4 551.0,547.0 551.0,501.9 551.0,552.9 553.0,499.5 553.0,548.7 553.0,529.4 553.0,581.5 553.0,540.7 553.0,555.4 553.0,510.8 553.0,469.0 553.0,522.3 555.0,523.8 555.0,499.8 555.0,519.4 555.0,470.5 555.0,511.3 555.0,501.6 555.0,558.8 555.0,521.2 555.0,521.9 557.0,519.6 557.0,468.0 557.0,490.9 557.0,553.9 557.0,536.5 557.0,480.9 557.0,526.4 557.0,505.5 557.0,531.8 559.0,521.0 559.0,516.0 559.0,481.1 559.0,507.2 559.0,493.2 559.0,508.5 559.0,543.5 559.0,529.4 559.0,534.1 561.0,540.3 561.0,485.3 561.0,508.8 561.0,546.4 561.0,551.7 561.0,460.2 561.0,488.3 561.0,529.1 561.0,595.7 561.0,496.7 563.0,511.4 563.0,523.6 563.0,542.5 563.0,478.9 563.0,498.2 563.0,502.2 563.0,496.8 563.0,500.2 563.0,532.3 565.0,552.3 565.0,535.2 565.0,524.9 565.0,514.8 565.0,497.2 565.0,482.7 565.0,483.6 565.0,549.3 565.0,551.6 567.0,534.2 567.0,527.5 567.0,518.5 567.0,532.3 567.0,504.9 567.0,491.6 567.0,479.7 567.0,521.7 567.0,490.4 569.0,467.8 569.0,504.8 569.0,493.6 569.0,541.2 569.0,558.5 569.0,536.6 569.0,544.5 569.0,571.7 569.0,484.0 571.0,485.3 571.0,520.5 571.0,508.0 571.0,528.2 571.0,552.5 571.0,519.1 571.0,472.9 571.0,592.9 571.0,490.3 573.0,484.5 573.0,551.6 573.0,474.3 573.0,487.1 573.0,521.2 573.0,496.6 573.0,525.6 573.0,552.3 573.0,523.9 575.0,508.0 575.0,537.1 575.0,530.6 575.0,595.3 575.0,492.9 575.0,557.0 575.0,511.8 575.0,533.8 575.0,466.4 577.0,489.0 577.0,485.1 577.0,473.1 577.0,500.6 577.0,561.9 577.0,474.0 577.0,558.0 577.0,513.2 577.0,518.1 579.0,479.3 579.0,524.7 579.0,558.6 579.0,500.4 579.0,520.3 579.0,516.8 579.0,504.9 579.0,489.4 579.0,551.5 581.0,541.8 581.0,497.6 581.0,552.3 581.0,492.8 581.0,520.3 581.0,474.2 581.0,466.2 581.0,502.3 581.0,566.2 583.0,522.6 583.0,550.4 583.0,567.0 583.0,530.4 583.0,495.3 583.0,523.2 583.0,503.8 583.0,535.9 583.0,502.4 585.0,558.4 585.0,551.7 585.0,527.9 585.0,523.9 585.0,535.3 585.0,518.4 585.0,526.9 585.0,548.5 585.0,500.2 587.0,507.9 587.0,513.4 587.0,461.1 587.0,558.0 587.0,510.5 587.0,562.0 587.0,466.3 587.0,464.1 587.0,509.0 589.0,523.0 589.0,548.9 589.0,544.6 589.0,558.8 589.0,523.7 589.0,587.6 589.0,545.6 589.0,472.7 589.0,496.7 591.0,496.3 591.0,516.5 591.0,499.7 591.0,529.2 591.0,556.1 591.0,478.0 591.0,501.2 591.0,569.6 591.0,569.0 593.0,571.8 593.0,529.8 593.0,557.0 593.0,534.5 593.0,475.0 593.0,500.7 593.0,542.1 593.0,524.4 593.0,493.7 595.0,491.1 595.0,533.7 595.0,528.5 595.0,503.2 595.0,563.5 595.0,505.1 595.0,505.6 595.0,521.6 595.0,517.3 597.0,515.6 597.0,465.7 597.0,584.6 597.0,539.0 597.0,532.3 597.0,502.1 597.0,515.6 597.0,534.9 597.0,500.9 599.0,397.0 599.0,540.6 599.0,510.3 599.0,498.4 599.0,543.0 599.0,582.6 599.0,528.9 599.0,549.6 599.0,516.3 601.0,496.7 601.0,554.1 601.0,511.0 601.0,579.6 601.0,501.3 601.0,478.3 601.0,530.9 601.0,545.2 601.0,545.8 603.0,524.5 603.0,486.0 603.0,553.0 603.0,491.4 603.0,581.1 603.0,503.6 603.0,514.0 603.0,511.7 603.0,560.2 605.0,573.9 605.0,535.7 605.0,536.3 605.0,492.9 605.0,549.5 605.0,458.5 605.0,553.3 605.0,535.0 605.0,495.7 607.0,545.0 607.0,543.7 607.0,572.5 607.0,567.0 607.0,527.2 607.0,535.4 607.0,485.2 607.0,545.1 607.0,486.2 609.0,503.2 609.0,480.7 609.0,503.7 609.0,536.7 609.0,495.7 609.0,522.9 609.0,485.4 609.0,535.3 609.0,547.5 611.0,523.8 611.0,518.8 611.0,493.5 611.0,541.1 611.0,554.4 611.0,513.3 611.0,519.6 611.0,505.8 611.0,484.5 611.0,516.5 613.0,476.8 613.0,553.4 613.0,569.2 613.0,547.4 613.0,531.6 613.0,516.4 613.0,524.3 613.0,485.6 613.0,529.2 615.0,523.9 615.0,540.6 615.0,569.6 615.0,531.3 615.0,566.8 615.0,547.4 615.0,502.1 615.0,543.6 615.0,527.0 617.0,541.2 617.0,541.6 617.0,537.3 617.0,521.3 617.0,544.0 617.0,517.9 617.0,505.2 617.0,527.6 617.0,484.0 619.0,544.1 619.0,550.4 619.0,523.0 619.0,564.3 619.0,551.5 619.0,534.3 619.0,544.7 619.0,552.3 619.0,512.6 621.0,541.5 621.0,546.7 621.0,542.3 621.0,514.0 621.0,561.1 621.0,468.5 621.0,513.9 621.0,526.9 621.0,567.8 623.0,482.8 623.0,491.9 623.0,491.2 623.0,515.2 623.0,499.6 623.0,491.5 623.0,548.0 623.0,537.8 623.0,520.0 625.0,500.9 625.0,511.8 625.0,516.5 625.0,578.1 625.0,490.4 625.0,506.0 625.0,505.8 625.0,515.6 625.0,543.2 627.0,483.1 627.0,491.5 627.0,553.8 627.0,530.1 627.0,563.2 627.0,500.6 627.0,479.5 627.0,503.3 627.0,500.5 629.0,541.1 629.0,497.3 629.0,524.8 629.0,543.8 629.0,526.4 629.0,511.2 629.0,511.8 629.0,529.6 629.0,542.0 631.0,492.5 631.0,483.1 631.0,564.1 631.0,479.8 631.0,511.6 631.0,495.7 631.0,557.2 631.0,529.7 631.0,558.8 633.0,557.8 633.0,501.3 633.0,528.7 633.0,477.3 633.0,505.6 633.0,544.1 633.0,536.0 633.0,534.6 633.0,524.5 635.0,508.2 635.0,542.2 635.0,528.4 635.0,522.7 635.0,551.7 635.0,509.5 635.0,572.8 635.0,516.0 635.0,568.3 637.0,529.4 637.0,508.2 637.0,516.3 637.0,544.0 637.0,538.5 637.0,542.3 637.0,531.3 637.0,515.7 637.0,504.6 639.0,501.3 639.0,514.3 639.0,470.6 639.0,529.9 639.0,524.8 639.0,518.1 639.0,496.7 639.0,521.6 639.0,541.8 641.0,491.5 641.0,492.2 641.0,511.2 641.0,528.8 641.0,488.5 641.0,542.0 641.0,468.1 641.0,566.5 641.0,482.2 643.0,490.2 643.0,502.6 643.0,482.6 643.0,513.6 643.0,499.2 643.0,561.8 643.0,521.6 643.0,546.8 643.0,525.0 645.0,554.0 645.0,535.0 645.0,482.6 645.0,509.4 645.0,533.9 645.0,534.9 645.0,466.1 645.0,493.8 645.0,476.5 647.0,478.2 647.0,524.1 647.0,523.7 647.0,459.5 647.0,484.8 647.0,549.2 647.0,553.5 647.0,544.3 647.0,487.5 649.0,525.4 649.0,551.0 649.0,517.6 649.0,507.0 649.0,500.5 649.0,530.3 649.0,546.8 649.0,568.5 649.0,516.4 651.0,523.2 651.0,478.4 651.0,552.4 651.0,500.7 651.0,559.5 651.0,497.8 651.0,516.8 651.0,539.7 651.0,528.3 653.0,458.3 653.0,512.3 653.0,525.7 653.0,585.0 653.0,558.7 653.0,564.6 653.0,541.9 653.0,563.5 653.0,525.9 655.0,484.6 655.0,500.6 655.0,535.4 655.0,503.9 655.0,519.0 655.0,515.3 655.0,561.2 655.0,451.7 655.0,484.3 657.0,526.0 657.0,512.2 657.0,575.8 657.0,548.3 657.0,528.6 657.0,503.3 657.0,526.0 657.0,516.1 657.0,479.0 659.0,495.0 659.0,538.1 659.0,532.3 659.0,523.9 659.0,567.7 659.0,494.1 659.0,510.2 659.0,545.0 659.0,554.9 661.0,499.8 661.0,532.3 661.0,511.2 661.0,493.3 661.0,524.5 661.0,500.3 661.0,548.6 661.0,534.1 661.0,514.2 661.0,555.2 663.0,561.2 663.0,501.9 663.0,477.0 663.0,500.3 663.0,525.4 663.0,458.7 663.0,464.4 663.0,553.8 663.0,520.3 665.0,536.4 665.0,522.7 665.0,504.5 665.0,530.9 665.0,513.0 665.0,550.7 665.0,519.2 665.0,529.4 665.0,512.9 667.0,487.7 667.0,499.8 667.0,540.0 667.0,493.7 667.0,521.0 667.0,503.7 667.0,508.8 667.0,558.2 667.0,484.7 669.0,491.6 669.0,493.1 669.0,554.3 669.0,535.7 669.0,477.1 669.0,493.3 669.0,510.2 669.0,507.2 669.0,499.5 671.0,545.0 671.0,492.5 671.0,531.1 671.0,517.7 671.0,513.6 671.0,469.9 671.0,491.8 671.0,555.6 671.0,533.7 673.0,478.3 673.0,527.4 673.0,473.1 673.0,542.6 673.0,498.4 673.0,564.6 673.0,555.1 673.0,542.4 673.0,487.9 675.0,521.7 675.0,491.4 675.0,503.5 675.0,495.6 675.0,513.3 675.0,537.7 675.0,541.4 675.0,463.1 675.0,490.4 677.0,485.7 677.0,548.2 677.0,489.9 677.0,537.1 677.0,524.2 677.0,543.8 677.0,509.7 677.0,504.1 677.0,544.4 679.0,551.4 679.0,515.6 679.0,508.0 679.0,504.9 679.0,512.2 679.0,547.7 679.0,497.2 679.0,555.5 679.0,483.7 681.0,526.0 681.0,496.9 681.0,531.4 681.0,583.3 681.0,499.4 681.0,554.3 681.0,483.5 681.0,535.5 681.0,584.1 683.0,532.0 683.0,476.8 683.0,505.5 683.0,526.4 683.0,490.5 683.0,565.2 683.0,543.5 683.0,498.9 683.0,542.9 685.0,531.4 685.0,475.0 685.0,567.2 685.0,552.8 685.0,467.8 685.0,556.9 685.0,518.9 685.0,543.3 685.0,517.8 687.0,485.6 687.0,524.1 687.0,561.8 687.0,469.5 687.0,516.6 687.0,498.8 687.0,537.3 687.0,481.7 687.0,534.1 689.0,509.1 689.0,538.4 689.0,517.9 689.0,490.4 689.0,516.9 689.0,531.9 689.0,526.7 689.0,563.6 689.0,510.7 691.0,532.4 691.0,547.0 691.0,564.7 691.0,506.7 691.0,510.0 691.0,515.2 691.0,494.4 691.0,488.1 691.0,547.4 693.0,538.6 693.0,554.6 693.0,561.1 693.0,500.7 693.0,515.1 693.0,499.9 693.0,514.8 693.0,560.1 693.0,484.5 695.0,558.2 695.0,500.7 695.0,538.6 695.0,577.0 695.0,556.1 695.0,484.7 695.0,526.4 695.0,558.0 695.0,485.2 697.0,607.0 697.0,525.6 697.0,484.6 697.0,484.5 697.0,516.7 697.0,553.3 697.0,530.7 697.0,552.6 697.0,532.4 699.0,531.3 699.0,545.8 699.0,505.5 699.0,515.0 699.0,514.3 699.0,510.5 699.0,491.8 699.0,510.4 699.0,509.4 701.0,550.1 701.0,499.3 701.0,544.6 701.0,503.4 701.0,569.2 701.0,492.1 701.0,442.1 701.0,540.5 701.0,535.3 703.0,534.5 703.0,562.6 703.0,553.4 703.0,505.5 703.0,495.5 703.0,526.4 703.0,500.7 703.0,504.6 703.0,505.4 705.0,549.9 705.0,552.7 705.0,525.7 705.0,550.3 705.0,501.2 705.0,517.7 705.0,543.8 705.0,502.1 705.0,560.6 707.0,516.2 707.0,525.8 707.0,545.7 707.0,481.4 707.0,535.3 707.0,509.3 707.0,474.6 707.0,511.0 707.0,540.2 709.0,463.9 709.0,531.5 709.0,464.7 709.0,499.4 709.0,513.0 709.0,563.4 709.0,527.5 709.0,526.1 709.0,538.8 711.0,544.4 711.0,520.2 711.0,527.2 711.0,533.3 711.0,508.7 711.0,550.4 711.0,535.8 711.0,546.1 711.0,549.0 711.0,499.2 713.0,509.8 713.0,530.9 713.0,509.6 713.0,511.1 713.0,512.2 713.0,515.3 713.0,545.5 713.0,464.8 713.0,539.7 715.0,490.0 715.0,565.5 715.0,532.5 715.0,548.1 715.0,539.6 715.0,526.4 715.0,504.2 715.0,524.9 715.0,553.3 717.0,504.8 717.0,510.1 717.0,507.8 717.0,527.3 717.0,512.3 717.0,547.6 717.0,488.5 717.0,491.5 717.0,542.0 719.0,548.5 719.0,539.6 719.0,570.1 719.0,551.5 719.0,500.3 719.0,491.2 719.0,509.3 719.0,506.7 719.0,531.3 721.0,507.8 721.0,508.5 721.0,513.4 721.0,527.6 721.0,540.2 721.0,532.0 721.0,555.3 721.0,536.4 721.0,533.4 723.0,556.9 723.0,581.3 723.0,521.5 723.0,496.6 723.0,488.9 723.0,549.6 723.0,477.5 723.0,530.8 723.0,557.5 725.0,468.5 725.0,531.0 725.0,545.6 725.0,535.1 725.0,531.5 725.0,469.7 725.0,524.0 725.0,482.6 725.0,501.4 727.0,527.3 727.0,545.3 727.0,535.8 727.0,557.6 727.0,493.6 727.0,543.5 727.0,525.9 727.0,507.6 727.0,514.2 729.0,545.7 729.0,555.9 729.0,487.2 729.0,566.4 729.0,499.8 729.0,527.7 729.0,534.3 729.0,515.5 729.0,469.8 731.0,512.3 731.0,540.9 731.0,514.3 731.0,542.1 731.0,527.7 731.0,541.0 731.0,549.1 731.0,584.1 731.0,544.8 733.0,562.6 733.0,521.1 733.0,546.0 733.0,493.1 733.0,548.9 733.0,553.4 733.0,494.7 733.0,546.9 733.0,538.3 735.0,552.1 735.0,537.8 735.0,522.4 735.0,496.6 735.0,524.2" fill="none" stroke="#ff0000" stroke-width="2" stroke-linejoin="round" shape-rendering="crispEdges" stroke-dasharray="5 2.4"/>
<polyline points="337.0,537.7 337.0,494.7 337.0,502.2 337.0,465.0 337.0,521.1 339.0,541.1 339.0,549.8 339.0,474.8 339.0,529.8 339.0,490.7 339.0,560.4 339.0,492.9 339.0,484.0 339.0,553.1 341.0,498.2 341.0,518.1 341.0,476.9 341.0,576.2 341.0,482.8 341.0,496.5 341.0,494.6 341.0,522.1 341.0,484.7 343.0,515.3 343.0,535.1 343.0,582.6 343.0,574.2 343.0,506.0 343.0,533.2 343.0,512.3 343.0,473.1 343.0,495.0 345.0,516.2 345.0,508.5 345.0,518.8 345.0,550.0 345.0,542.7 345.0,532.9 345.0,501.3 345.0,517.8 345.0,551.4 347.0,538.8 347.0,480.4 347.0,536.2 347.0,518.1 347.0,509.3 347.0,547.5 347.0,520.6 347.0,505.4 347.0,531.0 349.0,499.9 349.0,526.3 349.0,488.5 349.0,544.9 349.0,482.6 349.0,528.2 349.0,488.9 349.0,547.4 349.0,538.0 351.0,502.0 351.0,527.6 351.0,544.3 351.0,495.0 351.0,506.6 351.0,538.3 351.0,468.1 351.0,463.1 351.0,524.8 353.0,505.7 353.0,471.8 353.0,495.5 353.0,535.9 353.0,527.8 353.0,482.6 353.0,550.2 353.0,531.6 353.0,509.1 355.0,546.2 355.0,545.7 355.0,513.0 355.0,493.9 355.0,548.5 355.0,558.6 355.0,530.3 355.0,485.9 355.0,500.6 357.0,573.7 357.0,496.2 357.0,513.2 357.0,524.2 357.0,503.1 357.0,540.4 357.0,539.4 357.0,503.2 357.0,536.6 359.0,538.8 359.0,568.8 359.0,577.3 359.0,491.0 359.0,514.9 359.0,535.3 359.0,552.0 359.0,498.4 359.0,475.9 361.0,550.0 361.0,503.6 361.0,507.7 361.0,511.9 361.0,508.5 361.0,552.9 361.0,467.1 361.0,552.1 361.0,554.3 361.0,528.0 363.0,537.1 363.0,489.1 363.0,532.5 363.0,520.5 363.0,490.2 363.0,512.6 363.0,516.4 363.0,535.5 363.0,511.6 365.0,493.8 365.0,513.4 365.0,492.5 365.0,541.7 365.0,535.2 365.0,540.7 365.0,567.4 365.0,553.8 365.0,523.3 367.0,499.0 367.0,527.3 367.0,623.4 367.0,524.1 367.0,535.5 367.0,510.2 367.0,550.6 367.0,532.7 367.0,552.4 369.0,529.0 369.0,510.9 369.0,579.8 369.0,537.4 369.0,535.3 369.0,530.1 369.0,502.0 369.0,495.4 369.0,539.8 371.0,495.3 371.0,490.8 371.0,493.8 371.0,514.2 371.0,452.1 371.0,524.8 371.0,506.4 371.0,568.1 371.0,535.8 373.0,474.3 373.0,573.6 373.0,524.2 373.0,490.1 373.0,541.4 373.0,491.8 373.0,558.3 373.0,472.2 373.0,487.4 375.0,508.0 375.0,531.7 375.0,546.8 375.0,498.2 375.0,485.0 375.0,489.2 375.0,531.1 375.0,544.6 375.0,461.9 377.0,525.9 377.0,552.0 377.0,519.0 377.0,504.5 377.0,535.9 377.0,547.0 377.0,523.3 377.0,488.8 377.0,540.5 379.0,583.9 379.0,548.4 379.0,542.3 379.0,487.1 379.0,501.7 379.0,534.5 379.0,531.4 379.0,513.9 379.0,462.0 381.0,505.8 381.0,537.9 381.0,592.5 381.0,531.0 381.0,525.3 381.0,558.3 381.0,512.1 381.0,516.0 381.0,537.6 383.0,538.6 383.0,544.7 383.0,547.6 383.0,534.3 383.0,507.5 383.0,515.5 383.0,539.8 383.0,509.4 383.0,497.5 385.0,531.4 385.0,453.1 385.0,546.4 385.0,524.9 385.0,502.4 385.0,503.9 385.0,504.0 385.0,544.2 385.0,499.1 387.0,540.5 387.0,526.6 387.0,518.8 387.0,539.5 387.0,501.2 387.0,594.0 387.0,537.1 387.0,512.6 387.0,478.4 389.0,508.2 389.0,499.7 389.0,501.1 389.0,509.2 389.0,571.7 389.0,542.9 389.0,552.4 389.0,528.4 389.0,489.6 391.0,513.4 391.0,495.5 391.0,528.5 391.0,531.9 391.0,572.4 391.0,489.8 391.0,551.6 391.0,514.9 391.0,535.3 393.0,496.4 393.0,574.4 393.0,532.1 393.0,545.9 393.0,574.1 393.0,526.8 393.0,518.8 393.0,536.5 393.0,508.2 395.0,489.8 395.0,545.2 395.0,533.7 395.0,489.3 395.0,544.1 395.0,498.0 395.0,485.4 395.0,513.5 395.0,526.5 397.0,511.1 397.0,512.0 397.0,548.5 397.0,550.5 397.0,526.0 397.0,470.1 397.0,506.7 397.0,454.1 397.0,473.2 399.0,512.6 399.0,538.2 399.0,555.8 399.0,532.7 399.0,560.5 399.0,561.7 399.0,494.1 399.0,506.4 399.0,527.4 401.0,490.2 401.0,523.2 401.0,501.0 401.0,493.2 401.0,520.5 401.0,558.7 401.0,479.4 401.0,502.7 401.0,512.4 403.0,540.2 403.0,517.2 403.0,481.4 403.0,541.9 403.0,536.7 403.0,541.7 403.0,547.0 403.0,535.3 403.0,462.2 405.0,485.5 405.0,512.7 405.0,527.8 405.0,535.1 405.0,539.6 405.0,496.2 405.0,529.5 405.0,513.1 405.0,535.9 407.0,568.7 407.0,499.2 407.0,542.3 407.0,506.1 407.0,516.4 407.0,501.0 407.0,522.8 407.0,536.1 407.0,467.7 409.0,569.1 409.0,558.7 409.0,572.7 409.0,541.0 409.0,548.9 409.0,510.1 409.0,538.8 409.0,503.1 409.0,565.3 411.0,519.3 411.0,550.8 411.0,528.4 411.0,556.0 411.0,539.8 411.0,486.1 411.0,469.7 411.0,507.4 411.0,515.3 411.0,485.1 413.0,546.1 413.0,549.6 413.0,541.9 413.0,540.8 413.0,532.4 413.0,499.7 413.0,537.5 413.0,473.1 413.0,527.3 415.0,545.7 415.0,472.2 415.0,573.2 415.0,493.2 415.0,551.6 415.0,510.8 415.0,524.2 415.0,499.9 415.0,521.3 417.0,518.6 417.0,502.7 417.0,551.1 417.0,539.7 417.0,531.0 417.0,489.5 417.0,538.5 417.0,557.5 417.0,551.6 419.0,553.2 419.0,536.7 419.0,539.8 419.0,494.5 419.0,541.7 419.0,511.2 419.0,492.1 419.0,531.9 419.0,531.3 421.0,537.6 421.0,495.8 421.0,529.6 421.0,557.6 421.0,540.7 421.0,532.5 421.0,533.7 421.0,508.8 421.0,540.0 423.0,469.4 423.0,490.9 423.0,481.2 423.0,460.3 423.0,538.6 423.0,508.2 423.0,519.5 423.0,519.8 423.0,502.0 425.0,539.2 425.0,498.9 425.0,529.6 425.0,510.9 425.0,491.7 425.0,532.3 425.0,564.6 425.0,551.1 425.0,562.4 427.0,500.6 427.0,564.6 427.0,471.2 427.0,529.6 427.0,534.4 427.0,540.0 427.0,536.9 427.0,513.9 427.0,505.9 429.0,532.0 429.0,510.9 429.0,475.1 429.0,578.6 429.0,509.0 429.0,555.2 429.0,522.5 429.0,505.5 429.0,517.5 431.0,512.1 431.0,503.5 431.0,510.6 431.0,498.6 431.0,530.5 431.0,525.9 431.0,528.3 431.0,480.0 431.0,531.2 433.0,565.6 433.0,488.6 433.0,525.0 433.0,556.9 433.0,518.4 433.0,555.0 433.0,509.5 433.0,460.1 433.0,577.6 435.0,546.0 435.0,481.2 435.0,517.7 435.0,520.5 435.0,489.6 435.0,459.9 435.0,529.0 435.0,530.5 435.0,480.8 437.0,471.1 437.0,552.3 437.0,528.8 437.0,507.3 437.0,545.3 437.0,520.2 437.0,484.2 437.0,521.7 437.0,581.5 439.0,498.0 439.0,544.8 439.0,515.0 439.0,535.6 439.0,533.0 439.0,546.3 439.0,553.7 439.0,514.6 439.0,562.7 441.0,533.3 441.0,487.3 441.0,595.7 441.0,531.4 441.0,499.4 441.0,542.4 441.0,537.9 441.0,567.4 441.0,564.2 443.0,541.2 443.0,538.5 443.0,547.6 443.0,548.1 443.0,546.9 443.0,545.8 443.0,502.4 443.0,552.8 443.0,555.5 445.0,551.9 445.0,503.5 445.0,523.1 445.0,454.8 445.0,462.1 445.0,525.9 445.0,537.1 445.0,519.5 445.0,530.2 447.0,543.3 447.0,499.4 447.0,542.5 447.0,548.7 447.0,502.7 447.0,549.0 447.0,506.4 447.0,526.7 447.0,524.0 449.0,519.9 449.0,462.7 449.0,567.0 449.0,484.3 449.0,531.0 449.0,515.9 449.0,522.7 449.0,495.5 449.0,516.0 451.0,525.7 451.0,540.8 451.0,553.7 451.0,528.4 451.0,506.1 451.0,536.0 451.0,533.9 451.0,545.6 451.0,499.9 453.0,538.0 453.0,467.9 453.0,546.7 453.0,518.8 453.0,554.1 453.0,529.8 453.0,550.0 453.0,559.4 453.0,487.6 455.0,483.5 455.0,545.8 455.0,535.2 455.0,495.2 455.0,502.1 455.0,501.2 455.0,538.0 455.0,487.7 455.0,481.5 457.0,505.9 457.0,494.8 457.0,536.0 457.0,532.6 457.0,489.4 457.0,538.6 457.0,541.5 457.0,511.8 457.0,496.6 459.0,481.2 459.0,529.5 459.0,556.7 459.0,550.8 459.0,532.6 459.0,592.2 459.0,486.7 459.0,543.6 459.0,500.3 461.0,534.0 461.0,501.2 461.0,510.2 461.0,541.4 461.0,483.7 461.0,503.1 461.0,489.9 461.0,528.7 461.0,534.9 461.0,539.7 463.0,477.3 463.0,479.9 463.0,528.7 463.0,526.0 463.0,492.5 463.0,525.8 463.0,529.0 463.0,505.9 463.0,595.4 465.0,495.5 465.0,550.8 465.0,522.0 465.0,523.8 465.0,493.7 465.0,507.6 465.0,511.5 465.0,505.9 465.0,536.2 467.0,541.9 467.0,524.9 467.0,541.1 467.0,512.4 467.0,498.0 467.0,499.2 467.0,494.2 467.0,505.6 467.0,508.3 469.0,531.5 469.0,508.1 469.0,551.0 469.0,544.2 469.0,515.9 469.0,486.4 469.0,521.3 469.0,527.4 469.0,540.8 471.0,542.4 471.0,536.1 471.0,534.8 471.0,542.8 471.0,569.0 471.0,524.8 471.0,509.4 471.0,570.1 471.0,541.2 473.0,496.7 473.0,522.3 473.0,506.0 473.0,559.3 473.0,496.1 473.0,503.6 473.0,491.7 473.0,477.4 473.0,544.7 475.0,460.7 475.0,538.1 475.0,507.8 475.0,552.7 475.0,514.9 475.0,557.9 475.0,561.1 475.0,565.1 475.0,540.8 477.0,540.2 477.0,543.3 477.0,466.0 477.0,575.1 477.0,518.3 477.0,515.0 477.0,531.8 477.0,539.7 477.0,523.3 479.0,497.7 479.0,506.0 479.0,556.0 479.0,526.3 479.0,509.5 479.0,496.9 479.0,491.9 479.0,505.6 479.0,531.4 481.0,519.9 481.0,480.2 481.0,493.1 481.0,468.0 481.0,517.8 481.0,539.8 481.0,532.5 481.0,564.6 481.0,506.3 483.0,568.2 483.0,487.9 483.0,527.9 483.0,507.4 483.0,523.7 483.0,538.7 483.0,497.9 483.0,467.2 483.0,492.7 485.0,502.6 485.0,494.4 485.0,564.8 485.0,506.4 485.0,496.7 485.0,540.8 485.0,529.4 485.0,507.5 485.0,503.5 487.0,534.2 487.0,529.8 487.0,540.8 487.0,535.0 487.0,487.3 487.0,543.3 487.0,473.2 487.0,475.7 487.0,472.3 489.0,504.6 489.0,571.5 489.0,515.9 489.0,519.6 489.0,509.1 489.0,555.2 489.0,468.0 489.0,530.0 489.0,538.7 491.0,561.5 491.0,520.3 491.0,510.9 491.0,508.0 491.0,473.8 491.0,510.1 491.0,521.5 491.0,534.1 491.0,542.5 493.0,480.8 493.0,489.4 493.0,531.3 493.0,482.7 493.0,570.3 493.0,478.5 493.0,513.4 493.0,495.1 493.0,540.0 495.0,497.8 495.0,527.0 495.0,510.7 495.0,505.1 495.0,527.2 495.0,552.8 495.0,534.8 495.0,512.0 495.0,482.6 497.0,496.6 497.0,474.1 497.0,549.2 497.0,489.1 497.0,536.6 497.0,554.0 497.0,574.8 497.0,550.6 497.0,496.0 499.0,524.3 499.0,511.0 499.0,484.0 499.0,465.7 499.0,551.5 499.0,509.1 499.0,537.9 499.0,534.0 499.0,510.0 501.0,513.7 501.0,552.5 501.0,556.3 501.0,554.9 501.0,527.1 501.0,537.6 501.0,513.9 501.0,475.0 501.0,551.1 503.0,487.1 503.0,506.5 503.0,486.9 503.0,530.3 503.0,566.6 503.0,558.3 503.0,508.8 503.0,556.2 503.0,476.7 505.0,513.4 505.0,492.3 505.0,507.0 505.0,535.4 505.0,475.8 505.0,558.3 505.0,551.4 505.0,542.1 505.0,522.3 507.0,545.8 507.0,553.0 507.0,512.1 507.0,474.2 507.0,505.3 507.0,519.0 507.0,468.7 507.0,536.2 507.0,508.0 509.0,508.2 509.0,554.6 509.0,500.5 509.0,492.7 509.0,533.2 509.0,494.8 509.0,546.7 509.0,499.7 509.0,509.0 511.0,543.0 511.0,505.9 511.0,493.9 511.0,547.7 511.0,475.0 511.0,493.1 511.0,540.8 511.0,515.9 511.0,545.1 511.0,498.4 513.0,532.7 513.0,508.5 513.0,561.0 513.0,552.1 513.0,560.0 513.0,546.8 513.0,531.1 513.0,528.3 513.0,509.5 515.0,532.3 515.0,499.7 515.0,516.4 515.0,473.4 515.0,536.2 515.0,524.0 515.0,514.5 515.0,508.7 515.0,524.3 517.0,496.7 517.0,498.5 517.0,558.3 517.0,458.7 517.0,540.9 517.0,491.5 517.0,531.6 517.0,485.7 517.0,506.0 519.0,566.9 519.0,490.6 519.0,498.5 519.0,530.0 519.0,513.0 519.0,499.1 519.0,464.1 519.0,498.5 519.0,497.8 521.0,536.0 521.0,526.9 521.0,471.6 521.0,524.2 521.0,545.0 521.0,545.8 521.0,528.2 521.0,569.0 521.0,477.6 523.0,473.7 523.0,566.4 523.0,515.7 523.0,534.2 523.0,506.9 523.0,514.5 523.0,582.9 523.0,566.6 523.0,558.3 525.0,514.3 525.0,522.9 525.0,463.9 525.0,481.8 525.0,518.2 525.0,525.5 525.0,514.0 525.0,534.1 525.0,560.7 527.0,532.5 527.0,493.8 527.0,533.4 527.0,518.9 527.0,546.8 527.0,531.0 527.0,499.6 527.0,527.7 527.0,568.2 529.0,584.4 529.0,563.3 529.0,505.2 529.0,527.0 529.0,534.8 529.0,498.0 529.0,527.1 529.0,496.6 529.0,463.1 531.0,519.9 531.0,507.1 531.0,576.4 531.0,546.1 531.0,504.2 531.0,499.3 531.0,500.2 531.0,589.1 531.0,555.5 533.0,512.0 533.0,484.0 533.0,557.9 533.0,506.0 533.0,482.3 533.0,536.2 533.0,527.1 533.0,531.6 533.0,529.3 535.0,517.3 535.0,527.1 535.0,504.6 535.0,553.8 535.0,484.9 535.0,549.7 535.0,523.7 535.0,484.0 535.0,547.7 537.0,522.3 537.0,550.3 537.0,584.9 537.0,514.4 537.0,506.7 537.0,485.6 537.0,480.1 537.0,493.1 537.0,548.5 539.0,552.7 539.0,491.8 539.0,556.1 539.0,552.8 539.0,502.0 539.0,499.4 539.0,513.6 539.0,491.8 539.0,481.7 541.0,526.3 541.0,507.7 541.0,460.5 541.0,488.5 541.0,507.6 541.0,581.9 541.0,540.0 541.0,526.2 541.0,513.0 543.0,536.6 543.0,507.5 543.0,494.5 543.0,580.3 543.0,476.8 543.0,518.7 543.0,583.6 543.0,551.6 543.0,565.3 545.0,464.4 545.0,568.8 545.0,547.0 545.0,480.3 545.0,586.1 545.0,570.8 545.0,497.1 545.0,516.7 545.0,533.7 547.0,480.3 547.0,507.1 547.0,548.7 547.0,520.5 547.0,517.0 547.0,526.2 547.0,530.0 547.0,532.4 547.0,491.9 549.0,581.8 549.0,540.2 549.0,532.8 549.0,503.1 549.0,492.7 549.0,542.1 549.0,487.0 549.0,487.1 549.0,506.4 551.0,560.3 551.0,514.5 551.0,542.6 551.0,494.9 551.0,503.2 551.0,494.9 551.0,525.2 551.0,480.1 551.0,509.3 553.0,482.3 553.0,542.2 553.0,542.2 553.0,535.0 553.0,490.8 553.0,488.0 553.0,485.5 553.0,541.3 553.0,509.5 555.0,525.9 555.0,547.5 555.0,575.4 555.0,525.0 555.0,518.2 555.0,501.2 555.0,552.1 555.0,497.0 555.0,572.0 557.0,510.6 557.0,509.8 557.0,530.5 557.0,542.8 557.0,518.3 557.0,530.8 557.0,483.4 557.0,537.4 557.0,499.7 559.0,515.5 559.0,509.0 559.0,533.7 559.0,534.0 559.0,506.9 559.0,554.0 559.0,481.5 559.0,434.4 559.0,528.1 561.0,577.0 561.0,464.1 561.0,503.9 561.0,516.0 561.0,511.0 561.0,517.9 561.0,518.9 561.0,522.0 561.0,509.4 561.0,536.1 563.0,497.8 563.0,493.2 563.0,482.2 563.0,491.3 563.0,464.2 563.0,514.9 563.0,516.5 563.0,538.2 563.0,495.2 565.0,537.6 565.0,513.0 565.0,557.0 565.0,528.7 565.0,528.3 565.0,499.8 565.0,544.8 565.0,506.4 565.0,559.6 567.0,543.1 567.0,494.8 567.0,519.3 567.0,532.4 567.0,561.8 567.0,533.2 567.0,525.3 567.0,555.5 567.0,496.0 569.0,489.8 569.0,487.9 569.0,530.5 569.0,482.6 569.0,571.1 569.0,526.2 569.0,543.4 569.0,531.6 569.0,498.2 571.0,500.1 571.0,496.9 571.0,542.6 571.0,515.4 571.0,447.5 571.0,527.9 571.0,553.1 571.0,540.6 571.0,525.4 573.0,564.7 573.0,525.5 573.0,545.4 573.0,525.1 573.0,533.9 573.0,526.7 573.0,478.7 573.0,524.6 573.0,532.5 575.0,524.5 575.0,545.7 575.0,546.6 575.0,481.6 575.0,540.9 575.0,579.6 575.0,531.1 575.0,531.8 575.0,483.2 577.0,534.3 577.0,547.8 577.0,610.0 577.0,560.6 577.0,556.0 577.0,517.3 577.0,511.1 577.0,531.7 577.0,501.9 579.0,539.1 579.0,557.3 579.0,510.6 579.0,566.0 579.0,519.6 579.0,539.4 579.0,505.8 579.0,497.6 579.0,538.9 581.0,505.5 581.0,539.0 581.0,535.9 581.0,489.2 581.0,518.3 581.0,544.3 581.0,563.5 581.0,543.0 581.0,525.0 583.0,503.1 583.0,487.2 583.0,532.8 583.0,537.1 583.0,538.0 583.0,537.0 583.0,554.8 583.0,517.8 583.0,532.0 585.0,556.9 585.0,496.7 585.0,526.9 585.0,529.9 585.0,483.6 585.0,474.0 585.0,481.0 585.0,540.6 585.0,514.3 587.0,489.1 587.0,490.5 587.0,511.3 587.0,557.8 587.0,571.3 587.0,530.4 587.0,510.6 587.0,532.1 587.0,506.8 589.0,501.2 589.0,483.6 589.0,488.7 589.0,526.8 589.0,508.6 589.0,518.5 589.0,554.5 589.0,489.8 589.0,539.4 591.0,498.1 591.0,485.5 591.0,568.7 591.0,496.1 591.0,508.7 591.0,516.3 591.0,547.2 591.0,517.1 591.0,551.8 593.0,481.2 593.0,526.3 593.0,493.9 593.0,525.7 593.0,521.8 593.0,493.4 593.0,538.4 593.0,518.5 593.0,546.4 595.0,515.1 595.0,504.0 595.0,489.9 595.0,486.2 595.0,463.9 595.0,525.3 595.0,519.1 595.0,494.0 595.0,531.3 597.0,519.7 597.0,491.0 597.0,538.4 597.0,537.7 597.0,538.2 597.0,533.9 597.0,557.7 597.0,525.4 597.0,561.3 599.0,561.7 599.0,549.8 599.0,538.4 599.0,480.9 599.0,542.8 599.0,519.2 599.0,572.9 599.0,540.1 599.0,516.7 601.0,474.1 601.0,485.5 601.0,501.3 601.0,510.7 601.0,540.1 601.0,540.4 601.0,502.8 601.0,463.8 601.0,497.2 603.0,544.6 603.0,536.0 603.0,545.9 603.0,514.4 603.0,531.8 603.0,562.8 603.0,598.9 603.0,499.7 603.0,524.5 605.0,595.3 605.0,506.6 605.0,559.3 605.0,532.3 605.0,476.9 605.0,489.6 605.0,533.2 605.0,539.6 605.0,535.1 607.0,517.0 607.0,520.6 607.0,511.4 607.0,473.9 607.0,575.7 607.0,578.8 607.0,570.6 607.0,488.5 607.0,532.4 609.0,479.2 609.0,501.4 609.0,574.3 609.0,487.6 609.0,487.2 609.0,544.8 609.0,553.3 609.0,507.1 609.0,515.5 611.0,508.7 611.0,459.8 611.0,520.3 611.0,502.3 611.0,537.7 611.0,531.7 611.0,470.7 611.0,510.0 611.0,502.7 611.0,541.2 613.0,534.4 613.0,525.3 613.0,514.4 613.0,528.9 613.0,533.9 613.0,498.6 613.0,507.1 613.0,483.7 613.0,490.9 615.0,562.2 615.0,529.4 615.0,531.8 615.0,521.8 615.0,462.6 615.0,504.0 615.0,555.1 615.0,538.6 615.0,504.8 617.0,544.8 617.0,503.1 617.0,558.0 617.0,510.3 617.0,563.9 617.0,500.5 617.0,485.4 617.0,517.7 617.0,527.7 619.0,454.2 619.0,502.6 619.0,498.2 619.0,495.6 619.0,509.2 619.0,491.1 619.0,501.3 619.0,524.2 619.0,500.1 621.0,563.9 621.0,483.7 621.0,485.6 621.0,491.3 621.0,532.1 621.0,480.5 621.0,577.6 621.0,546.8 621.0,519.0 623.0,495.7 623.0,525.0 623.0,499.6 623.0,511.6 623.0,562.9 623.0,519.0 623.0,542.3 623.0,536.0 623.0,558.0 625.0,505.3 625.0,564.6 625.0,585.5 625.0,502.6 625.0,545.4 625.0,513.9 625.0,531.0 625.0,507.5 625.0,504.4 627.0,520.4 627.0,507.2 627.0,515.7 627.0,496.8 627.0,467.5 627.0,563.9 627.0,518.4 627.0,502.3 627.0,480.9 629.0,552.1 629.0,496.2 629.0,546.5 629.0,511.3 629.0,575.7 629.0,510.1 629.0,544.8 629.0,499.9 629.0,521.6 631.0,581.3 631.0,511.6 631.0,530.8 631.0,483.3 631.0,487.8 631.0,526.1 631.0,541.4 631.0,536.1 631.0,506.1 633.0,516.7 633.0,549.2 633.0,505.5 633.0,526.3 633.0,525.4 633.0,500.1 633.0,495.5 633.0,531.3 633.0,540.3 635.0,554.6 635.0,506.9 635.0,532.1 635.0,558.9 635.0,556.9 635.0,486.0 635.0,506.9 635.0,499.8 635.0,542.9 637.0,499.5 637.0,553.2 637.0,536.2 637.0,483.3 637.0,492.0 637.0,541.8 637.0,525.0 637.0,525.5 637.0,500.2 639.0,510.2 639.0,515.6 639.0,531.0 639.0,549.5 639.0,494.2 639.0,555.4 639.0,533.3 639.0,495.7 639.0,556.0 641.0,507.9 641.0,562.4 641.0,532.4 641.0,545.6 641.0,534.7 641.0,542.5 641.0,472.7 641.0,531.5 641.0,538.5 643.0,526.7 643.0,490.4 643.0,574.1 643.0,576.1 643.0,499.9 643.0,501.0 643.0,491.3 643.0,556.5 643.0,500.2 645.0,492.5 645.0,482.1 645.0,518.2 645.0,508.5 645.0,473.3 645.0,507.8 645.0,532.7 645.0,490.3 645.0,513.1 647.0,537.2 647.0,539.4 647.0,539.1 647.0,491.3 647.0,538.8 647.0,505.3 647.0,518.5 647.0,539.9 647.0,529.2 649.0,527.4 649.0,533.6 649.0,500.0 649.0,473.1 649.0,553.0 649.0,501.1 649.0,527.2 649.0,472.6 649.0,578.7 651.0,527.0 651.0,508.8 651.0,544.2 651.0,530.1 651.0,505.2 651.0,516.8 651.0,565.4 651.0,560.2 651.0,499.8 653.0,554.4 653.0,560.2 653.0,510.5 653.0,559.8 653.0,471.9 653.0,513.3 653.0,511.4 653.0,505.2 653.0,542.5 655.0,526.4 655.0,498.4 655.0,494.8 655.0,498.0 655.0,508.2 655.0,477.6 655.0,513.4 655.0,544.2 655.0,532.9 657.0,467.2 657.0,480.9 657.0,514.3 657.0,540.1 657.0,595.6 657.0,516.1 657.0,538.4 657.0,481.9 657.0,521.6 659.0,491.8 659.0,519.7 659.0,553.4 659.0,506.1 659.0,570.7 659.0,534.6 659.0,535.1 659.0,561.0 659.0,505.2 661.0,550.0 661.0,498.2 661.0,523.7 661.0,531.7 661.0,499.4 661.0,548.4 661.0,517.2 661.0,552.4 661.0,534.0 661.0,470.2 663.0,505.2 663.0,506.7 663.0,486.2 663.0,539.0 663.0,486.4 663.0,540.5 663.0,545.0 663.0,510.8 663.0,501.5 665.0,500.1 665.0,485.4 665.0,527.6 665.0,492.5 665.0,561.9 665.0,536.2 665.0,566.0 665.0,499.0 665.0,503.3 667.0,534.4 667.0,573.1 667.0,522.1 667.0,469.6 667.0,502.8 667.0,498.9 667.0,481.3 667.0,486.0 667.0,532.4 669.0,528.1 669.0,428.4 669.0,532.9 669.0,485.1 669.0,527.8 669.0,573.2 669.0,483.8 669.0,506.8 669.0,563.7 671.0,528.8 671.0,538.6 671.0,504.7 671.0,549.8 671.0,464.5 671.0,525.6 671.0,464.6 671.0,525.3 671.0,518.3 673.0,532.3 673.0,498.5 673.0,532.9 673.0,530.5 673.0,535.6 673.0,499.5 673.0,500.2 673.0,508.6 673.0,497.8 675.0,532.4 675.0,513.6 675.0,532.9 675.0,541.9 675.0,517.0 675.0,545.0 675.0,531.3 675.0,460.9 675.0,579.2 677.0,549.7 677.0,495.2 677.0,577.0 677.0,492.6 677.0,520.0 677.0,541.9 677.0,518.4 677.0,514.3 677.0,547.7 679.0,538.1 679.0,560.9 679.0,536.4 679.0,508.0 679.0,530.9 679.0,569.9 679.0,524.0 679.0,564.5 679.0,557.3 681.0,518.4 681.0,476.5 681.0,501.5 681.0,490.4 681.0,528.2 681.0,509.1 681.0,512.0 681.0,543.2 681.0,559.0 683.0,526.8 683.0,579.0 683.0,472.9 683.0,532.9 683.0,604.0 683.0,517.9 683.0,499.8 683.0,494.1 683.0,524.8 685.0,534.6 685.0,553.6 685.0,483.3 685.0,499.0 685.0,512.1 685.0,523.7 685.0,502.9 685.0,554.5 685.0,524.7 687.0,493.6 687.0,511.3 687.0,541.6 687.0,542.5 687.0,545.9 687.0,526.5 687.0,535.4 687.0,489.9 687.0,515.7 689.0,512.4 689.0,546.6 689.0,441.9 689.0,502.6 689.0,525.7 689.0,484.9 689.0,482.0 689.0,527.7 689.0,530.4 691.0,491.6 691.0,544.2 691.0,532.3 691.0,516.6 691.0,512.5 691.0,456.1 691.0,576.5 691.0,549.2 691.0,538.6 693.0,515.4 693.0,545.6 693.0,494.4 693.0,491.4 693.0,510.8 693.0,567.6 693.0,507.5 693.0,528.9 693.0,486.8 695.0,551.4 695.0,494.2 695.0,502.6 695.0,515.4 695.0,480.0 695.0,495.4 695.0,523.1 695.0,511.4 695.0,551.1 697.0,480.2 697.0,502.0 697.0,539.8 697.0,553.9 697.0,553.1 697.0,536.1 697.0,532.0 697.0,544.6 697.0,565.1 699.0,464.2 699.0,520.0 699.0,474.7 699.0,476.9 699.0,459.1 699.0,504.7 699.0,580.8 699.0,517.3 699.0,508.9 701.0,491.5 701.0,518.9 701.0,555.0 701.0,480.7 701.0,516.1 701.0,534.7 701.0,538.5 701.0,491.0 701.0,502.0 703.0,524.8 703.0,493.0 703.0,538.1 703.0,530.7 703.0,570.6 703.0,502.5 703.0,546.2 703.0,481.6 703.0,508.6 705.0,479.7 705.0,520.0 705.0,545.2 705.0,557.9 705.0,513.2 705.0,523.6 705.0,475.1 705.0,509.0 705.0,536.9 707.0,512.4 707.0,536.6 707.0,488.6 707.0,474.5 707.0,512.4 707.0,577.9 707.0,517.9 707.0,540.9 707.0,497.8 709.0,494.0 709.0,466.5 709.0,512.0 709.0,546.7 709.0,497.2 709.0,514.2 709.0,558.1 709.0,554.4 709.0,529.0 711.0,538.4 711.0,564.1 711.0,504.4 711.0,476.0 711.0,517.8 711.0,530.5 711.0,543.3 711.0,471.3 711.0,498.9 711.0,503.7 713.0,515.9 713.0,570.7 713.0,525.9 713.0,510.8 713.0,495.3 713.0,571.1 713.0,507.5 713.0,468.6 713.0,487.0 715.0,519.9 715.0,496.6 715.0,522.4 715.0,512.6 715.0,529.7 715.0,513.5 715.0,506.2 715.0,553.5 715.0,496.4 717.0,490.4 717.0,548.1 717.0,552.9 717.0,463.5 717.0,537.1 717.0,552.2 717.0,511.1 717.0,504.9 717.0,512.5 719.0,537.0 719.0,510.2 719.0,511.6 719.0,514.9 719.0,528.5 719.0,526.9 719.0,552.4 719.0,523.1 719.0,496.1 721.0,460.4 721.0,472.2 721.0,539.2 721.0,489.6 721.0,510.9 721.0,519.9 721.0,547.6 721.0,476.4 721.0,566.4 723.0,488.9 723.0,483.5 723.0,562.3 723.0,515.2 723.0,544.0 723.0,501.5 723.0,543.9 723.0,504.0 723.0,534.3 725.0,532.8 725.0,504.0 725.0,562.9 725.0,534.6 725.0,536.1 725.0,544.2 725.0,499.6 725.0,517.5 725.0,546.0 727.0,464.8 727.0,544.8 727.0,545.3 727.0,519.1 727.0,520.0 727.0,485.4 727.0,544.6 727.0,478.8 727.0,540.1 729.0,476.7 729.0,516.3 729.0,470.5 729.0,541.5 729.0,516.0 729.0,509.9 729.0,497.5 729.0,481.2 729.0,487.4 731.0,514.4 731.0,529.0 731.0,546.7 731.0,505.0 731.0,464.4 731.0,508.4 731.0,477.3 731.0,552.8 731.0,510.3 733.0,501.3 733.0,498.6 733.0,535.7 733.0,537.3 733.0,468.1 733.0,555.9 733.0,492.8 733.0,497.2 733.0,525.9 735.0,515.0 735.0,554.5 735.0,546.0 735.0,542.0 735.0,505.2" fill="none" stroke="#00cd00" stroke-width="2" stroke-linejoin="round" shape-rendering="crispEdges" stroke-dasharray="2 2.8"/>
<line x1="337.00" y1="519.50" x2="372.00" y2="519.50" stroke="#000" stroke-width="1.6" />
<line x1="372.00" y1="519.80" x2="640.00" y2="519.80" stroke="#ff0000" stroke-width="1.6" />
<line x1="640.00" y1="519.20" x2="735.00" y2="519.20" stroke="#000" stroke-width="1.6" />
</g>
<rect x="319.8" y="387.8" width="431.20" height="241.60" fill="none" stroke="#000" stroke-width="1.7"/>
<line x1="302.00" y1="409.90" x2="319.80" y2="409.90" stroke="#000" stroke-width="1.7" />
<line x1="302.00" y1="445.40" x2="319.80" y2="445.40" stroke="#000" stroke-width="1.7" />
<line x1="302.00" y1="480.90" x2="319.80" y2="480.90" stroke="#000" stroke-width="1.7" />
<line x1="302.00" y1="517.70" x2="319.80" y2="517.70" stroke="#000" stroke-width="1.7" />
<line x1="302.00" y1="553.60" x2="319.80" y2="553.60" stroke="#000" stroke-width="1.7" />
<line x1="302.00" y1="590.50" x2="319.80" y2="590.50" stroke="#000" stroke-width="1.7" />
<line x1="302.00" y1="625.90" x2="319.80" y2="625.90" stroke="#000" stroke-width="1.7" />
<text transform="translate(278.00,409.90) scale(1.42,1) rotate(-90)" font-size="21" text-anchor="middle">8.60</text>
<text transform="translate(278.00,480.90) scale(1.42,1) rotate(-90)" font-size="21" text-anchor="middle">8.50</text>
<text transform="translate(278.00,553.60) scale(1.42,1) rotate(-90)" font-size="21" text-anchor="middle">8.40</text>
<text transform="translate(278.00,625.90) scale(1.42,1) rotate(-90)" font-size="21" text-anchor="middle">8.30</text>
<line x1="381.10" y1="629.40" x2="381.10" y2="642.40" stroke="#000" stroke-width="1.7" />
<line x1="468.00" y1="629.40" x2="468.00" y2="642.40" stroke="#000" stroke-width="1.7" />
<line x1="556.80" y1="629.40" x2="556.80" y2="642.40" stroke="#000" stroke-width="1.7" />
<line x1="645.60" y1="629.40" x2="645.60" y2="642.40" stroke="#000" stroke-width="1.7" />
<line x1="734.60" y1="629.40" x2="734.60" y2="642.40" stroke="#000" stroke-width="1.7" />
<text transform="translate(379.60,675.20) scale(1.32,1)" font-size="22.5" text-anchor="middle" >2000</text>
<text transform="translate(555.90,675.20) scale(1.32,1)" font-size="22.5" text-anchor="middle" >6000</text>
<text transform="translate(730.50,675.20) scale(1.32,1)" font-size="22.5" text-anchor="middle" >10&#8201;000</text>
<text transform="translate(532.80,725.00) scale(1.29,1)" font-size="22" text-anchor="middle" >Iterations</text>
<text transform="translate(326.30,415.00) scale(1.085,1)" font-size="27.4" text-anchor="start" style="stroke:none">(c)</text>
<line x1="963.10" y1="255.10" x2="1383.70" y2="255.10" stroke="#bebebe" stroke-width="1.3" />
<rect x="1022.5" y="252.40" width="1.2" height="3.6" fill="#000"/>
<rect x="1036.5" y="252.40" width="3.0" height="3.6" fill="#000"/>
<rect x="1057.5" y="252.40" width="1.5" height="3.6" fill="#000"/>
<rect x="1061.6" y="252.40" width="7.4" height="3.6" fill="#000"/>
<rect x="1071.4" y="252.40" width="4.0" height="3.6" fill="#000"/>
<rect x="1078.5" y="252.40" width="2.0" height="3.6" fill="#000"/>
<rect x="1082.2" y="252.40" width="5.1" height="3.6" fill="#000"/>
<rect x="1091.4" y="252.40" width="198.8" height="3.6" fill="#000"/>
<rect x="1292.7" y="252.40" width="15.7" height="3.6" fill="#000"/>
<rect x="1327.8" y="252.40" width="1.8" height="3.6" fill="#000"/>
<polyline points="1002.5,254.4 1040.0,254.2 1046.4,253.8 1056.3,251.1 1066.2,246.8 1079.5,241.2 1089.4,235.9 1099.3,226.0 1109.3,208.7 1119.2,183.9 1129.1,157.4 1139.1,126.0 1147.4,99.5 1155.6,76.3 1165.6,54.8 1175.5,40.5 1183.8,31.9 1188.5,29.0 1191.5,28.3 1194.5,29.3 1198.1,33.2 1203.1,42.5 1211.4,63.0 1219.7,84.6 1227.9,107.7 1236.2,134.2 1244.5,159.1 1252.8,182.3 1261.1,200.5 1269.3,215.4 1276.0,224.3 1284.2,230.9 1294.2,237.9 1302.5,244.5 1310.7,249.5 1319.0,252.5 1328.9,254.1 1345.8,254.4" fill="none" stroke="#000" stroke-width="1.7" stroke-linejoin="round"/>
<rect x="963.1" y="19.7" width="420.60" height="244.60" fill="none" stroke="#000" stroke-width="1.7"/>
<line x1="946.40" y1="255.10" x2="963.10" y2="255.10" stroke="#000" stroke-width="1.7" />
<line x1="946.40" y1="200.12" x2="963.10" y2="200.12" stroke="#000" stroke-width="1.7" />
<line x1="946.40" y1="145.14" x2="963.10" y2="145.14" stroke="#000" stroke-width="1.7" />
<line x1="946.40" y1="90.16" x2="963.10" y2="90.16" stroke="#000" stroke-width="1.7" />
<line x1="946.40" y1="35.18" x2="963.10" y2="35.18" stroke="#000" stroke-width="1.7" />
<text transform="translate(923.40,255.10) scale(1.42,1) rotate(-90)" font-size="21" text-anchor="middle">0</text>
<text transform="translate(923.40,200.12) scale(1.42,1) rotate(-90)" font-size="21" text-anchor="middle">5</text>
<text transform="translate(923.40,145.14) scale(1.42,1) rotate(-90)" font-size="21" text-anchor="middle">10</text>
<text transform="translate(923.40,90.16) scale(1.42,1) rotate(-90)" font-size="21" text-anchor="middle">15</text>
<text transform="translate(923.40,35.18) scale(1.42,1) rotate(-90)" font-size="21" text-anchor="middle">20</text>
<line x1="992.70" y1="264.30" x2="992.70" y2="276.50" stroke="#000" stroke-width="1.7" />
<line x1="1105.80" y1="264.30" x2="1105.80" y2="276.50" stroke="#000" stroke-width="1.7" />
<line x1="1218.90" y1="264.30" x2="1218.90" y2="276.50" stroke="#000" stroke-width="1.7" />
<line x1="1332.00" y1="264.30" x2="1332.00" y2="276.50" stroke="#000" stroke-width="1.7" />
<text transform="translate(990.70,310.20) scale(1.280888888888889,1)" font-size="22.5" text-anchor="middle" >2.30</text>
<text transform="translate(1103.80,310.20) scale(1.280888888888889,1)" font-size="22.5" text-anchor="middle" >2.35</text>
<text transform="translate(1216.90,310.20) scale(1.280888888888889,1)" font-size="22.5" text-anchor="middle" >2.40</text>
<text transform="translate(1330.00,310.20) scale(1.280888888888889,1)" font-size="22.5" text-anchor="middle" >2.45</text>
<text transform="translate(1171.30,361.00) scale(1.26,1)" font-size="22" text-anchor="middle" xml:space="preserve" style="white-space:pre">N = 1800   Bandwidth = 0.003703</text>
<text transform="translate(969.30,46.20) scale(1.085,1)" font-size="27.4" text-anchor="start" style="stroke:none">(b)</text>
<line x1="966.70" y1="619.60" x2="1398.30" y2="619.60" stroke="#bebebe" stroke-width="1.3" />
<rect x="1006.0" y="616.90" width="4.0" height="3.6" fill="#000"/>
<rect x="1031.0" y="616.90" width="1.2" height="3.6" fill="#000"/>
<rect x="1035.0" y="616.90" width="1.3" height="3.6" fill="#000"/>
<rect x="1042.1" y="616.90" width="8.5" height="3.6" fill="#000"/>
<rect x="1053.1" y="616.90" width="6.9" height="3.6" fill="#000"/>
<rect x="1062.4" y="616.90" width="193.4" height="3.6" fill="#000"/>
<rect x="1258.2" y="616.90" width="19.5" height="3.6" fill="#000"/>
<rect x="1279.3" y="616.90" width="2.5" height="3.6" fill="#000"/>
<rect x="1288.7" y="616.90" width="1.6" height="3.6" fill="#000"/>
<rect x="1292.3" y="616.90" width="0.9" height="3.6" fill="#000"/>
<rect x="1301.5" y="616.90" width="1.0" height="3.6" fill="#000"/>
<rect x="1312.0" y="616.90" width="2.5" height="3.6" fill="#000"/>
<polyline points="1006.7,619.8 1029.8,618.1 1039.7,614.8 1049.7,609.9 1059.6,601.6 1069.5,588.3 1079.5,576.7 1089.4,563.5 1097.7,546.9 1106.0,523.8 1114.2,498.9 1122.5,470.8 1130.8,441.0 1139.1,416.1 1145.7,402.9 1152.3,396.6 1156.5,395.8 1163.2,399.6 1173.2,408.5 1183.1,421.1 1191.4,436.0 1199.7,455.9 1207.9,480.7 1216.2,508.9 1224.5,532.0 1232.8,550.3 1241.1,565.2 1249.3,580.1 1257.6,591.6 1265.9,600.6 1275.8,608.2 1285.8,613.8 1295.7,617.1 1308.9,618.8 1324.4,619.5" fill="none" stroke="#000" stroke-width="1.7" stroke-linejoin="round"/>
<rect x="966.7" y="387.8" width="431.60" height="241.90" fill="none" stroke="#000" stroke-width="1.7"/>
<line x1="949.90" y1="619.60" x2="966.70" y2="619.60" stroke="#000" stroke-width="1.7" />
<line x1="949.90" y1="574.44" x2="966.70" y2="574.44" stroke="#000" stroke-width="1.7" />
<line x1="949.90" y1="529.28" x2="966.70" y2="529.28" stroke="#000" stroke-width="1.7" />
<line x1="949.90" y1="484.12" x2="966.70" y2="484.12" stroke="#000" stroke-width="1.7" />
<line x1="949.90" y1="438.96" x2="966.70" y2="438.96" stroke="#000" stroke-width="1.7" />
<line x1="949.90" y1="393.80" x2="966.70" y2="393.80" stroke="#000" stroke-width="1.7" />
<text transform="translate(926.20,619.60) scale(1.42,1) rotate(-90)" font-size="21" text-anchor="middle">0</text>
<text transform="translate(926.20,574.44) scale(1.42,1) rotate(-90)" font-size="21" text-anchor="middle">2</text>
<text transform="translate(926.20,529.28) scale(1.42,1) rotate(-90)" font-size="21" text-anchor="middle">4</text>
<text transform="translate(926.20,484.12) scale(1.42,1) rotate(-90)" font-size="21" text-anchor="middle">6</text>
<text transform="translate(926.20,438.96) scale(1.42,1) rotate(-90)" font-size="21" text-anchor="middle">8</text>
<text transform="translate(926.20,393.80) scale(1.42,1) rotate(-90)" font-size="21" text-anchor="middle">10</text>
<line x1="999.30" y1="629.70" x2="999.30" y2="642.40" stroke="#000" stroke-width="1.7" />
<line x1="1055.55" y1="629.70" x2="1055.55" y2="642.40" stroke="#000" stroke-width="1.7" />
<line x1="1111.80" y1="629.70" x2="1111.80" y2="642.40" stroke="#000" stroke-width="1.7" />
<line x1="1168.05" y1="629.70" x2="1168.05" y2="642.40" stroke="#000" stroke-width="1.7" />
<line x1="1224.30" y1="629.70" x2="1224.30" y2="642.40" stroke="#000" stroke-width="1.7" />
<line x1="1280.55" y1="629.70" x2="1280.55" y2="642.40" stroke="#000" stroke-width="1.7" />
<line x1="1336.80" y1="629.70" x2="1336.80" y2="642.40" stroke="#000" stroke-width="1.7" />
<line x1="1393.05" y1="629.70" x2="1393.05" y2="642.40" stroke="#000" stroke-width="1.7" />
<text transform="translate(997.30,674.70) scale(1.32,1)" font-size="22.5" text-anchor="middle" >8.30</text>
<text transform="translate(1109.80,674.70) scale(1.32,1)" font-size="22.5" text-anchor="middle" >8.40</text>
<text transform="translate(1222.30,674.70) scale(1.32,1)" font-size="22.5" text-anchor="middle" >8.50</text>
<text transform="translate(1334.80,674.70) scale(1.32,1)" font-size="22.5" text-anchor="middle" >8.60</text>
<text transform="translate(1181.20,725.00) scale(1.291,1)" font-size="22" text-anchor="middle" xml:space="preserve" style="white-space:pre">N = 1800   Bandwidth = 0.00758</text>
<text transform="translate(972.50,415.00) scale(1.085,1)" font-size="27.4" text-anchor="start" style="stroke:none">(d)</text>
<line x1="2.60" y1="0.60" x2="1472.90" y2="0.60" stroke="#000" stroke-width="1.7" />
<line x1="2.60" y1="736.90" x2="1472.90" y2="736.90" stroke="#000" stroke-width="1.8" />
<line x1="3.40" y1="0.00" x2="3.40" y2="737.30" stroke="#000" stroke-width="1.5" />
<line x1="1471.90" y1="0.00" x2="1471.90" y2="737.80" stroke="#000" stroke-width="2.0" />
<line x1="184.45" y1="0.00" x2="184.45" y2="737.00" stroke="#000" stroke-width="1.7" />
<line x1="3.00" y1="369.95" x2="1472.00" y2="369.95" stroke="#000" stroke-width="1.8" />
<text x="20.8" y="30.9" font-family='"Liberation Serif", "Times New Roman", serif' font-size="31.4" style="stroke:none">Shape, <tspan font-style="italic">k</tspan></text>
<text x="20.8" y="400" font-family='"Liberation Serif", "Times New Roman", serif' font-size="31.4" style="stroke:none">Scale, <tspan font-style="italic">A</tspan></text>
</svg>
</body></html>
